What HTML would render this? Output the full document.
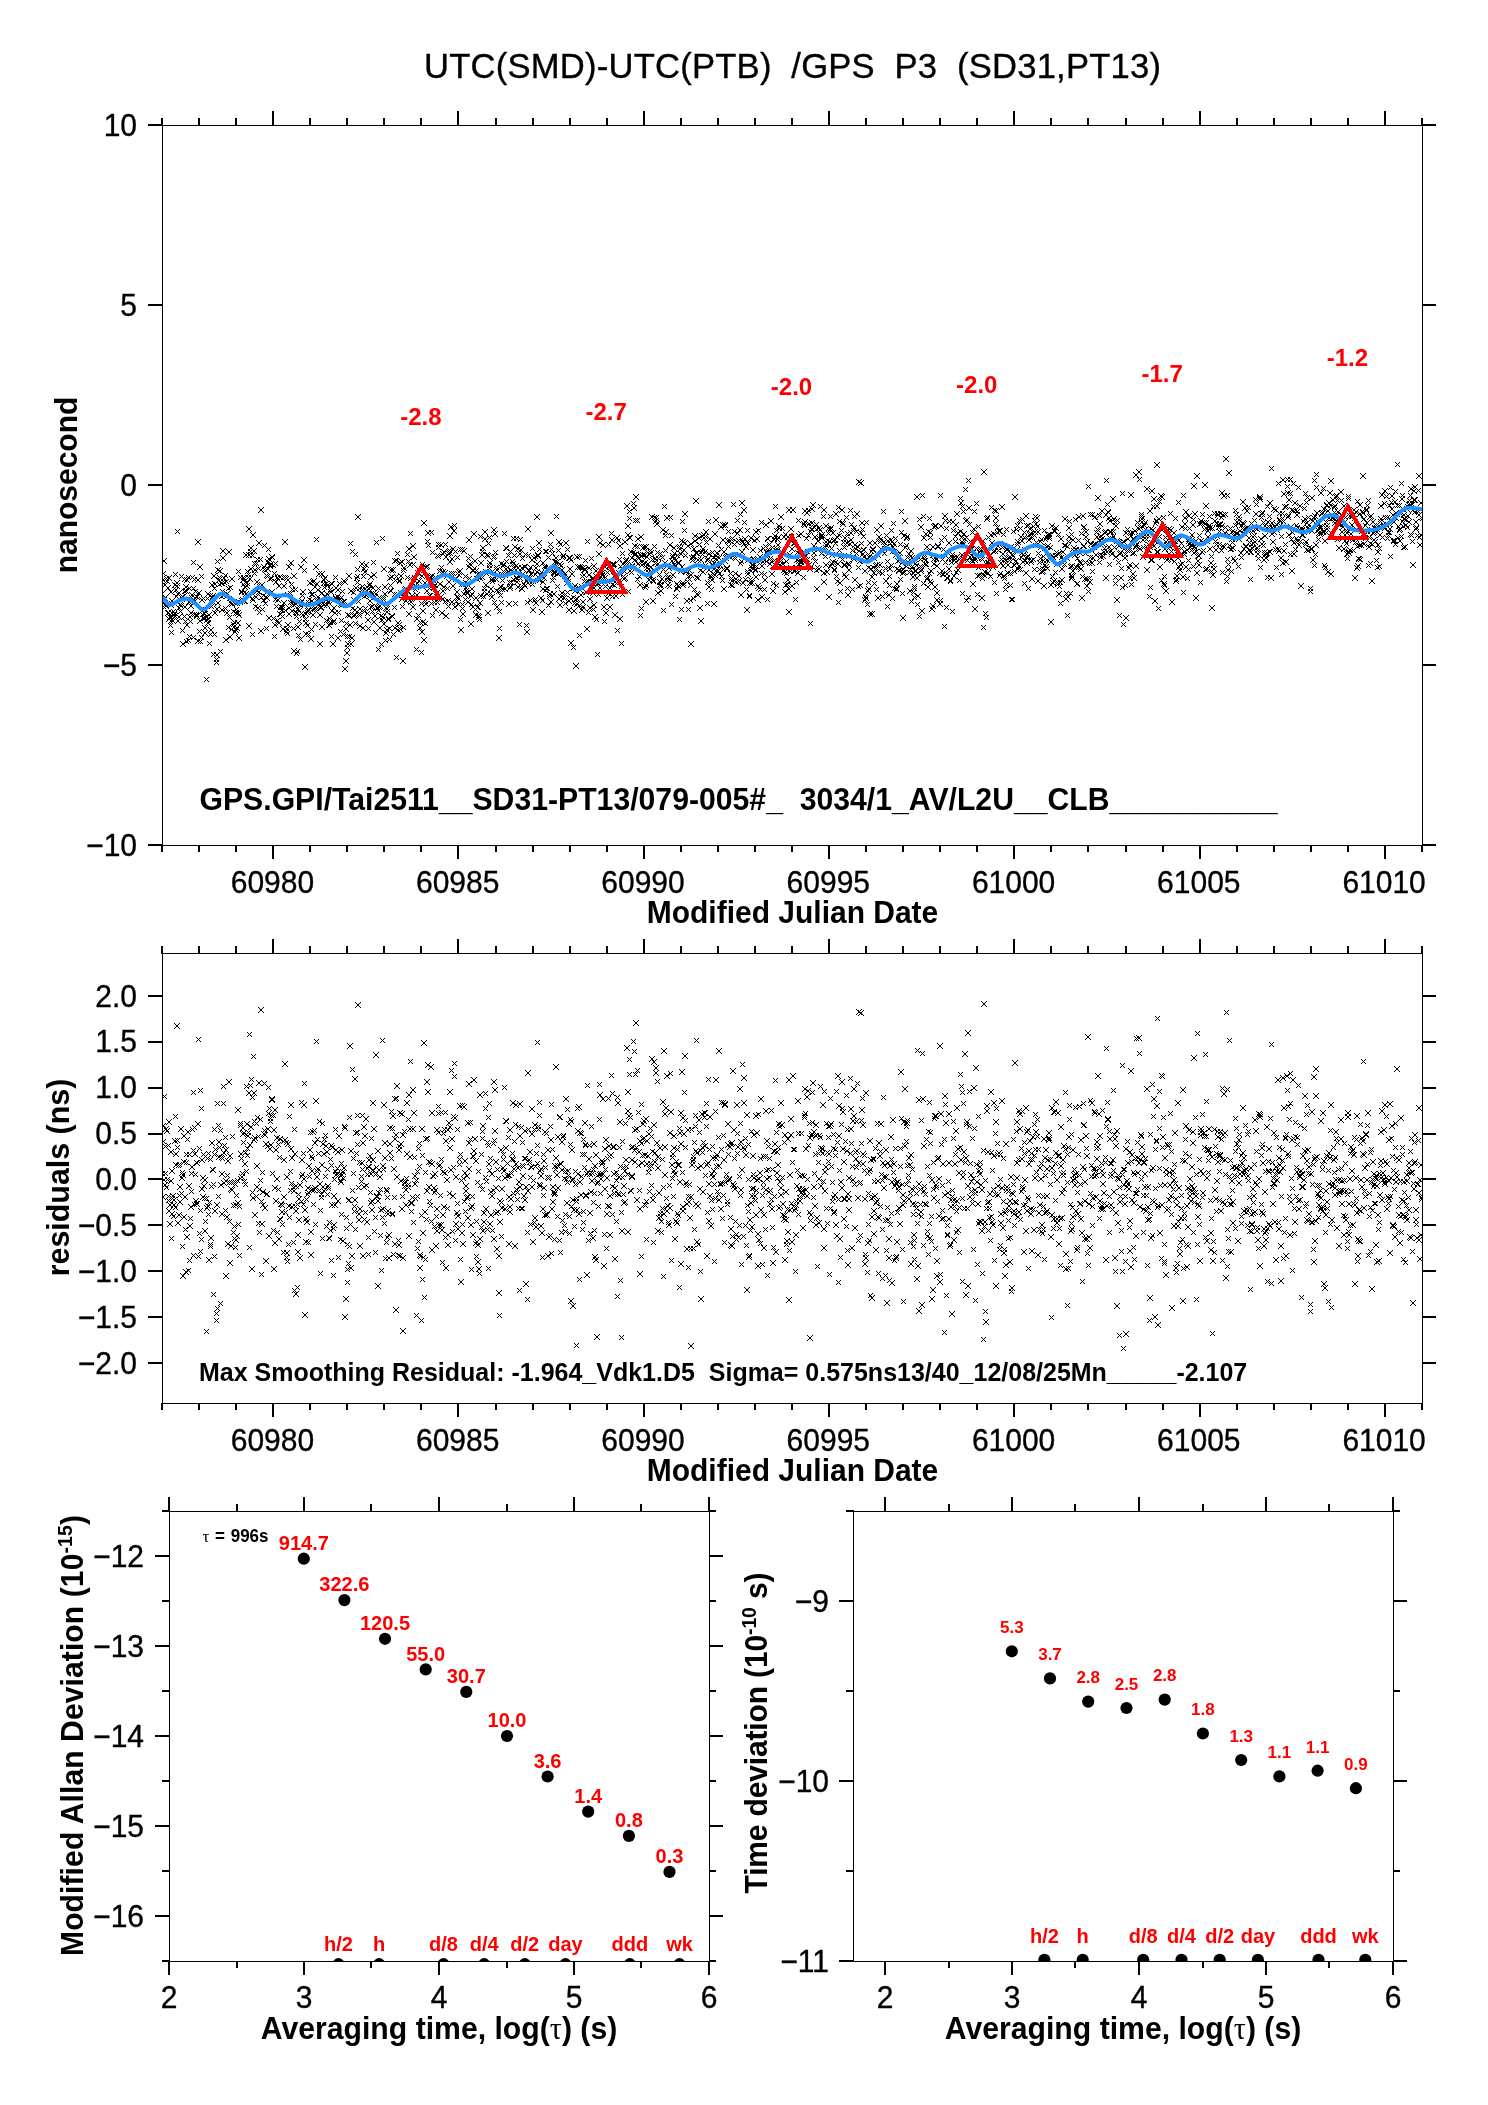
<!DOCTYPE html>
<html><head><meta charset="utf-8"><title>UTC(SMD)-UTC(PTB) /GPS P3</title>
<style>html,body{margin:0;padding:0;background:#fff}svg{display:block;will-change:transform}text{font-family:"Liberation Sans",Arial,Helvetica,sans-serif}</style>
</head><body>
<svg width="1488" height="2105" viewBox="0 0 1488 2105">
<rect width="1488" height="2105" fill="#fff"/>
<defs>
<clipPath id="c1"><rect x="162" y="125" width="1261" height="721"/></clipPath>
<clipPath id="c2"><rect x="162" y="953" width="1261" height="451"/></clipPath>
<clipPath id="c3"><rect x="169" y="1511" width="541" height="451"/></clipPath>
<clipPath id="c4"><rect x="853" y="1511" width="541" height="451"/></clipPath>
</defs>

<g clip-path="url(#c1)"><path d="M159 591l6 6m0-6l-6 6M160 577l6 6m0-6l-6 6M161 604l5 5m0-5l-5 5M161 571l5 5m0-5l-5 5M162 597l5 5m0-5l-5 5M161 558l6 6m0-6l-6 6M162 582l6 6m0-6l-6 6M162 595l6 6m0-6l-6 6M163 602l5 5m0-5l-5 5M164 576l5 5m0-5l-5 5M163 603l6 6m0-6l-6 6M165 601l5 5m0-5l-5 5M164 578l6 6m0-6l-6 6M165 610l6 6m0-6l-6 6M165 585l6 6m0-6l-6 6M166 610l5 5m0-5l-5 5M166 616l6 6m0-6l-6 6M166 575l6 6m0-6l-6 6M168 623l5 5m0-5l-5 5M167 614l6 6m0-6l-6 6M169 630l5 5m0-5l-5 5M168 589l6 6m0-6l-6 6M168 602l6 6m0-6l-6 6M169 598l6 6m0-6l-6 6M169 617l6 6m0-6l-6 6M169 610l6 6m0-6l-6 6M170 618l6 6m0-6l-6 6M171 609l5 5m0-5l-5 5M172 611l5 5m0-5l-5 5M171 612l6 6m0-6l-6 6M173 572l5 5m0-5l-5 5M172 613l6 6m0-6l-6 6M172 582l6 6m0-6l-6 6M174 594l5 5m0-5l-5 5M173 587l6 6m0-6l-6 6M175 529l5 5m0-5l-5 5M174 580l6 6m0-6l-6 6M174 583l6 6m0-6l-6 6M175 591l6 6m0-6l-6 6M175 618l6 6m0-6l-6 6M176 614l6 6m0-6l-6 6M176 605l6 6m0-6l-6 6M176 590l6 6m0-6l-6 6M178 602l5 5m0-5l-5 5M178 609l5 5m0-5l-5 5M178 603l6 6m0-6l-6 6M179 574l5 5m0-5l-5 5M180 594l5 5m0-5l-5 5M180 597l5 5m0-5l-5 5M180 628l5 5m0-5l-5 5M180 594l6 6m0-6l-6 6M180 641l6 6m0-6l-6 6M182 577l5 5m0-5l-5 5M182 614l5 5m0-5l-5 5M182 589l5 5m0-5l-5 5M183 619l5 5m0-5l-5 5M182 604l6 6m0-6l-6 6M183 584l6 6m0-6l-6 6M184 639l5 5m0-5l-5 5M183 588l6 6m0-6l-6 6M184 622l6 6m0-6l-6 6M184 577l6 6m0-6l-6 6M186 575l5 5m0-5l-5 5M186 638l5 5m0-5l-5 5M187 634l5 5m0-5l-5 5M186 599l6 6m0-6l-6 6M187 586l5 5m0-5l-5 5M187 614l6 6m0-6l-6 6M188 619l5 5m0-5l-5 5M189 595l5 5m0-5l-5 5M188 610l6 6m0-6l-6 6M188 603l6 6m0-6l-6 6M190 575l5 5m0-5l-5 5M189 592l6 6m0-6l-6 6M191 586l5 5m0-5l-5 5M191 635l5 5m0-5l-5 5M191 560l5 5m0-5l-5 5M192 612l5 5m0-5l-5 5M192 577l5 5m0-5l-5 5M193 589l5 5m0-5l-5 5M192 598l6 6m0-6l-6 6M194 594l5 5m0-5l-5 5M194 613l5 5m0-5l-5 5M194 612l5 5m0-5l-5 5M194 594l6 6m0-6l-6 6M194 613l6 6m0-6l-6 6M195 577l6 6m0-6l-6 6M195 638l6 6m0-6l-6 6M195 539l6 6m0-6l-6 6M197 629l5 5m0-5l-5 5M196 590l6 6m0-6l-6 6M197 618l6 6m0-6l-6 6M198 639l5 5m0-5l-5 5M197 564l6 6m0-6l-6 6M199 574l5 5m0-5l-5 5M199 635l5 5m0-5l-5 5M199 597l6 6m0-6l-6 6M200 612l5 5m0-5l-5 5M201 596l5 5m0-5l-5 5M201 607l5 5m0-5l-5 5M201 616l5 5m0-5l-5 5M202 616l5 5m0-5l-5 5M202 611l5 5m0-5l-5 5M203 607l5 5m0-5l-5 5M202 630l6 6m0-6l-6 6M202 625l6 6m0-6l-6 6M204 677l5 5m0-5l-5 5M204 614l5 5m0-5l-5 5M205 596l5 5m0-5l-5 5M204 617l6 6m0-6l-6 6M206 617l5 5m0-5l-5 5M205 620l6 6m0-6l-6 6M205 591l6 6m0-6l-6 6M207 641l5 5m0-5l-5 5M206 612l6 6m0-6l-6 6M208 632l5 5m0-5l-5 5M208 593l5 5m0-5l-5 5M208 632l5 5m0-5l-5 5M209 604l5 5m0-5l-5 5M208 627l6 6m0-6l-6 6M210 595l5 5m0-5l-5 5M209 582l6 6m0-6l-6 6M211 652l5 5m0-5l-5 5M210 593l6 6m0-6l-6 6M211 600l5 5m0-5l-5 5M212 586l5 5m0-5l-5 5M211 573l6 6m0-6l-6 6M212 632l5 5m0-5l-5 5M212 610l6 6m0-6l-6 6M212 581l6 6m0-6l-6 6M214 657l5 5m0-5l-5 5M214 660l5 5m0-5l-5 5M214 606l6 6m0-6l-6 6M215 559l5 5m0-5l-5 5M214 652l6 6m0-6l-6 6M215 600l6 6m0-6l-6 6M215 567l6 6m0-6l-6 6M216 577l6 6m0-6l-6 6M217 582l5 5m0-5l-5 5M217 575l5 5m0-5l-5 5M218 649l5 5m0-5l-5 5M217 568l6 6m0-6l-6 6M219 594l5 5m0-5l-5 5M219 581l5 5m0-5l-5 5M220 589l5 5m0-5l-5 5M219 580l6 6m0-6l-6 6M219 607l6 6m0-6l-6 6M220 555l6 6m0-6l-6 6M220 548l6 6m0-6l-6 6M221 592l6 6m0-6l-6 6M221 575l6 6m0-6l-6 6M222 580l5 5m0-5l-5 5M223 606l5 5m0-5l-5 5M223 573l5 5m0-5l-5 5M224 579l5 5m0-5l-5 5M224 594l5 5m0-5l-5 5M223 637l6 6m0-6l-6 6M224 591l6 6m0-6l-6 6M224 610l6 6m0-6l-6 6M226 586l5 5m0-5l-5 5M226 625l5 5m0-5l-5 5M226 549l6 6m0-6l-6 6M227 596l5 5m0-5l-5 5M227 615l5 5m0-5l-5 5M228 585l5 5m0-5l-5 5M227 634l6 6m0-6l-6 6M229 598l5 5m0-5l-5 5M229 627l5 5m0-5l-5 5M228 600l6 6m0-6l-6 6M229 576l6 6m0-6l-6 6M229 601l6 6m0-6l-6 6M231 609l5 5m0-5l-5 5M231 622l5 5m0-5l-5 5M231 624l6 6m0-6l-6 6M232 599l5 5m0-5l-5 5M232 620l5 5m0-5l-5 5M232 600l6 6m0-6l-6 6M232 629l6 6m0-6l-6 6M233 627l6 6m0-6l-6 6M233 610l6 6m0-6l-6 6M234 607l5 5m0-5l-5 5M234 625l6 6m0-6l-6 6M234 600l6 6m0-6l-6 6M235 610l6 6m0-6l-6 6M236 569l5 5m0-5l-5 5M235 620l6 6m0-6l-6 6M236 612l6 6m0-6l-6 6M236 635l6 6m0-6l-6 6M238 575l5 5m0-5l-5 5M238 600l5 5m0-5l-5 5M238 575l5 5m0-5l-5 5M239 589l5 5m0-5l-5 5M239 590l5 5m0-5l-5 5M239 598l6 6m0-6l-6 6M240 597l5 5m0-5l-5 5M241 575l5 5m0-5l-5 5M241 582l5 5m0-5l-5 5M240 577l6 6m0-6l-6 6M242 599l5 5m0-5l-5 5M241 576l6 6m0-6l-6 6M242 584l6 6m0-6l-6 6M242 589l6 6m0-6l-6 6M242 598l6 6m0-6l-6 6M243 552l6 6m0-6l-6 6M243 591l6 6m0-6l-6 6M244 583l6 6m0-6l-6 6M244 580l6 6m0-6l-6 6M245 569l5 5m0-5l-5 5M246 575l5 5m0-5l-5 5M246 572l5 5m0-5l-5 5M246 526l6 6m0-6l-6 6M246 623l6 6m0-6l-6 6M246 552l6 6m0-6l-6 6M247 576l6 6m0-6l-6 6M248 549l5 5m0-5l-5 5M248 545l6 6m0-6l-6 6M248 566l6 6m0-6l-6 6M250 632l5 5m0-5l-5 5M250 553l5 5m0-5l-5 5M250 596l5 5m0-5l-5 5M250 532l6 6m0-6l-6 6M250 597l6 6m0-6l-6 6M252 571l5 5m0-5l-5 5M251 548l6 6m0-6l-6 6M252 561l5 5m0-5l-5 5M252 567l6 6m0-6l-6 6M253 604l5 5m0-5l-5 5M253 594l6 6m0-6l-6 6M254 561l5 5m0-5l-5 5M254 579l6 6m0-6l-6 6M254 588l6 6m0-6l-6 6M255 557l5 5m0-5l-5 5M255 605l6 6m0-6l-6 6M256 566l5 5m0-5l-5 5M256 540l6 6m0-6l-6 6M256 589l6 6m0-6l-6 6M257 610l5 5m0-5l-5 5M257 584l6 6m0-6l-6 6M258 557l5 5m0-5l-5 5M259 595l5 5m0-5l-5 5M258 628l6 6m0-6l-6 6M258 507l6 6m0-6l-6 6M260 607l5 5m0-5l-5 5M259 582l6 6m0-6l-6 6M261 598l5 5m0-5l-5 5M261 593l5 5m0-5l-5 5M262 543l5 5m0-5l-5 5M261 564l6 6m0-6l-6 6M262 567l5 5m0-5l-5 5M263 601l5 5m0-5l-5 5M263 568l5 5m0-5l-5 5M263 594l6 6m0-6l-6 6M264 573l5 5m0-5l-5 5M264 626l5 5m0-5l-5 5M265 574l5 5m0-5l-5 5M264 595l6 6m0-6l-6 6M266 547l5 5m0-5l-5 5M265 566l6 6m0-6l-6 6M265 559l6 6m0-6l-6 6M266 615l6 6m0-6l-6 6M266 556l6 6m0-6l-6 6M267 576l6 6m0-6l-6 6M267 563l6 6m0-6l-6 6M267 562l6 6m0-6l-6 6M269 576l5 5m0-5l-5 5M268 561l6 6m0-6l-6 6M270 555l5 5m0-5l-5 5M269 554l6 6m0-6l-6 6M269 589l6 6m0-6l-6 6M271 563l5 5m0-5l-5 5M271 616l5 5m0-5l-5 5M272 634l5 5m0-5l-5 5M272 571l5 5m0-5l-5 5M273 561l5 5m0-5l-5 5M272 622l6 6m0-6l-6 6M273 597l5 5m0-5l-5 5M273 579l6 6m0-6l-6 6M274 604l5 5m0-5l-5 5M275 618l5 5m0-5l-5 5M275 575l5 5m0-5l-5 5M275 594l5 5m0-5l-5 5M275 576l6 6m0-6l-6 6M275 597l6 6m0-6l-6 6M276 583l6 6m0-6l-6 6M276 620l6 6m0-6l-6 6M277 574l6 6m0-6l-6 6M277 611l6 6m0-6l-6 6M278 612l5 5m0-5l-5 5M278 604l6 6m0-6l-6 6M279 605l5 5m0-5l-5 5M279 607l6 6m0-6l-6 6M280 614l5 5m0-5l-5 5M280 605l5 5m0-5l-5 5M281 575l5 5m0-5l-5 5M280 626l6 6m0-6l-6 6M281 600l6 6m0-6l-6 6M281 583l6 6m0-6l-6 6M283 575l5 5m0-5l-5 5M283 608l5 5m0-5l-5 5M282 539l6 6m0-6l-6 6M284 629l5 5m0-5l-5 5M284 576l5 5m0-5l-5 5M285 592l5 5m0-5l-5 5M285 631l5 5m0-5l-5 5M284 626l6 6m0-6l-6 6M285 622l6 6m0-6l-6 6M285 577l6 6m0-6l-6 6M286 605l6 6m0-6l-6 6M286 564l6 6m0-6l-6 6M286 611l6 6m0-6l-6 6M288 591l5 5m0-5l-5 5M288 600l5 5m0-5l-5 5M288 560l6 6m0-6l-6 6M289 597l5 5m0-5l-5 5M289 582l5 5m0-5l-5 5M289 608l6 6m0-6l-6 6M290 587l5 5m0-5l-5 5M290 599l6 6m0-6l-6 6M291 626l5 5m0-5l-5 5M291 602l6 6m0-6l-6 6M291 573l6 6m0-6l-6 6M291 648l6 6m0-6l-6 6M293 610l5 5m0-5l-5 5M293 587l5 5m0-5l-5 5M294 651l5 5m0-5l-5 5M294 614l5 5m0-5l-5 5M293 601l6 6m0-6l-6 6M295 649l5 5m0-5l-5 5M294 610l6 6m0-6l-6 6M295 624l6 6m0-6l-6 6M296 633l5 5m0-5l-5 5M295 606l6 6m0-6l-6 6M296 608l6 6m0-6l-6 6M297 619l5 5m0-5l-5 5M298 637l5 5m0-5l-5 5M297 602l6 6m0-6l-6 6M298 564l6 6m0-6l-6 6M299 611l5 5m0-5l-5 5M299 600l5 5m0-5l-5 5M299 598l6 6m0-6l-6 6M300 593l5 5m0-5l-5 5M300 589l6 6m0-6l-6 6M300 612l6 6m0-6l-6 6M302 602l5 5m0-5l-5 5M301 557l6 6m0-6l-6 6M302 568l5 5m0-5l-5 5M302 664l6 6m0-6l-6 6M303 617l5 5m0-5l-5 5M303 611l6 6m0-6l-6 6M303 620l6 6m0-6l-6 6M303 631l6 6m0-6l-6 6M305 623l5 5m0-5l-5 5M305 610l5 5m0-5l-5 5M305 608l6 6m0-6l-6 6M306 607l5 5m0-5l-5 5M306 632l5 5m0-5l-5 5M306 600l6 6m0-6l-6 6M307 597l5 5m0-5l-5 5M308 589l5 5m0-5l-5 5M307 580l6 6m0-6l-6 6M308 636l6 6m0-6l-6 6M309 627l5 5m0-5l-5 5M309 592l5 5m0-5l-5 5M309 598l6 6m0-6l-6 6M310 607l5 5m0-5l-5 5M310 592l5 5m0-5l-5 5M310 612l6 6m0-6l-6 6M310 579l6 6m0-6l-6 6M312 607l5 5m0-5l-5 5M311 578l6 6m0-6l-6 6M312 584l6 6m0-6l-6 6M312 605l6 6m0-6l-6 6M313 622l5 5m0-5l-5 5M313 564l6 6m0-6l-6 6M314 537l5 5m0-5l-5 5M314 581l6 6m0-6l-6 6M314 598l6 6m0-6l-6 6M315 597l5 5m0-5l-5 5M315 587l6 6m0-6l-6 6M315 594l6 6m0-6l-6 6M317 604l5 5m0-5l-5 5M316 571l6 6m0-6l-6 6M317 641l6 6m0-6l-6 6M317 612l6 6m0-6l-6 6M318 601l5 5m0-5l-5 5M318 605l6 6m0-6l-6 6M318 604l6 6m0-6l-6 6M319 624l6 6m0-6l-6 6M319 571l6 6m0-6l-6 6M319 590l6 6m0-6l-6 6M320 600l6 6m0-6l-6 6M321 581l5 5m0-5l-5 5M322 585l5 5m0-5l-5 5M321 602l6 6m0-6l-6 6M321 577l6 6m0-6l-6 6M322 575l6 6m0-6l-6 6M322 594l6 6m0-6l-6 6M324 618l5 5m0-5l-5 5M324 581l5 5m0-5l-5 5M324 591l6 6m0-6l-6 6M324 602l6 6m0-6l-6 6M325 583l5 5m0-5l-5 5M326 599l5 5m0-5l-5 5M326 600l5 5m0-5l-5 5M326 622l6 6m0-6l-6 6M327 623l5 5m0-5l-5 5M327 616l5 5m0-5l-5 5M328 620l5 5m0-5l-5 5M328 587l5 5m0-5l-5 5M328 589l6 6m0-6l-6 6M329 634l5 5m0-5l-5 5M329 581l5 5m0-5l-5 5M329 581l6 6m0-6l-6 6M329 608l6 6m0-6l-6 6M331 620l5 5m0-5l-5 5M330 641l6 6m0-6l-6 6M331 605l6 6m0-6l-6 6M331 618l6 6m0-6l-6 6M331 597l6 6m0-6l-6 6M333 595l5 5m0-5l-5 5M332 610l6 6m0-6l-6 6M333 575l5 5m0-5l-5 5M333 585l6 6m0-6l-6 6M333 596l6 6m0-6l-6 6M335 594l5 5m0-5l-5 5M335 597l5 5m0-5l-5 5M335 635l6 6m0-6l-6 6M336 610l5 5m0-5l-5 5M335 587l6 6m0-6l-6 6M337 581l5 5m0-5l-5 5M337 598l5 5m0-5l-5 5M338 602l5 5m0-5l-5 5M338 629l5 5m0-5l-5 5M339 603l5 5m0-5l-5 5M339 618l5 5m0-5l-5 5M339 595l5 5m0-5l-5 5M340 589l5 5m0-5l-5 5M339 600l6 6m0-6l-6 6M341 602l5 5m0-5l-5 5M340 599l6 6m0-6l-6 6M341 632l5 5m0-5l-5 5M341 578l6 6m0-6l-6 6M342 599l5 5m0-5l-5 5M342 579l6 6m0-6l-6 6M342 666l6 6m0-6l-6 6M343 626l6 6m0-6l-6 6M344 621l5 5m0-5l-5 5M343 658l6 6m0-6l-6 6M344 650l6 6m0-6l-6 6M345 645l5 5m0-5l-5 5M345 634l5 5m0-5l-5 5M345 612l6 6m0-6l-6 6M345 641l6 6m0-6l-6 6M347 613l5 5m0-5l-5 5M347 634l5 5m0-5l-5 5M346 573l6 6m0-6l-6 6M348 541l5 5m0-5l-5 5M347 622l6 6m0-6l-6 6M348 588l6 6m0-6l-6 6M348 641l6 6m0-6l-6 6M349 635l6 6m0-6l-6 6M350 606l5 5m0-5l-5 5M350 549l5 5m0-5l-5 5M351 597l5 5m0-5l-5 5M351 590l5 5m0-5l-5 5M352 612l5 5m0-5l-5 5M351 613l6 6m0-6l-6 6M352 607l6 6m0-6l-6 6M353 552l5 5m0-5l-5 5M353 621l5 5m0-5l-5 5M353 585l6 6m0-6l-6 6M354 576l5 5m0-5l-5 5M355 580l5 5m0-5l-5 5M355 567l5 5m0-5l-5 5M355 574l5 5m0-5l-5 5M355 514l6 6m0-6l-6 6M356 599l5 5m0-5l-5 5M357 611l5 5m0-5l-5 5M357 586l5 5m0-5l-5 5M357 613l5 5m0-5l-5 5M357 623l6 6m0-6l-6 6M357 606l6 6m0-6l-6 6M358 590l6 6m0-6l-6 6M359 593l5 5m0-5l-5 5M360 587l5 5m0-5l-5 5M360 584l5 5m0-5l-5 5M359 561l6 6m0-6l-6 6M360 625l6 6m0-6l-6 6M361 574l5 5m0-5l-5 5M361 566l6 6m0-6l-6 6M362 609l5 5m0-5l-5 5M362 594l5 5m0-5l-5 5M363 606l5 5m0-5l-5 5M362 569l6 6m0-6l-6 6M364 593l5 5m0-5l-5 5M363 562l6 6m0-6l-6 6M364 584l6 6m0-6l-6 6M365 611l5 5m0-5l-5 5M364 588l6 6m0-6l-6 6M366 626l5 5m0-5l-5 5M365 617l6 6m0-6l-6 6M366 586l5 5m0-5l-5 5M366 586l6 6m0-6l-6 6M367 583l5 5m0-5l-5 5M367 581l6 6m0-6l-6 6M367 598l6 6m0-6l-6 6M368 604l6 6m0-6l-6 6M369 591l5 5m0-5l-5 5M368 574l6 6m0-6l-6 6M370 604l5 5m0-5l-5 5M370 609l5 5m0-5l-5 5M370 585l6 6m0-6l-6 6M371 560l5 5m0-5l-5 5M370 591l6 6m0-6l-6 6M371 619l6 6m0-6l-6 6M371 572l6 6m0-6l-6 6M373 630l5 5m0-5l-5 5M372 613l6 6m0-6l-6 6M372 594l6 6m0-6l-6 6M374 540l5 5m0-5l-5 5M373 591l6 6m0-6l-6 6M375 605l5 5m0-5l-5 5M375 606l5 5m0-5l-5 5M376 608l5 5m0-5l-5 5M376 647l5 5m0-5l-5 5M376 586l5 5m0-5l-5 5M376 604l6 6m0-6l-6 6M377 595l5 5m0-5l-5 5M377 603l6 6m0-6l-6 6M377 598l6 6m0-6l-6 6M377 625l6 6m0-6l-6 6M378 613l6 6m0-6l-6 6M379 642l5 5m0-5l-5 5M380 536l5 5m0-5l-5 5M379 617l6 6m0-6l-6 6M381 595l5 5m0-5l-5 5M380 614l6 6m0-6l-6 6M381 597l5 5m0-5l-5 5M381 621l6 6m0-6l-6 6M381 566l6 6m0-6l-6 6M382 584l6 6m0-6l-6 6M382 591l6 6m0-6l-6 6M383 638l5 5m0-5l-5 5M383 630l6 6m0-6l-6 6M383 605l6 6m0-6l-6 6M384 609l6 6m0-6l-6 6M384 606l6 6m0-6l-6 6M384 627l6 6m0-6l-6 6M386 617l5 5m0-5l-5 5M386 616l5 5m0-5l-5 5M387 626l5 5m0-5l-5 5M387 637l5 5m0-5l-5 5M387 575l6 6m0-6l-6 6M388 588l5 5m0-5l-5 5M388 583l5 5m0-5l-5 5M388 567l6 6m0-6l-6 6M388 588l6 6m0-6l-6 6M389 574l6 6m0-6l-6 6M389 613l6 6m0-6l-6 6M390 614l5 5m0-5l-5 5M391 632l5 5m0-5l-5 5M390 567l6 6m0-6l-6 6M392 605l5 5m0-5l-5 5M392 592l5 5m0-5l-5 5M393 578l5 5m0-5l-5 5M392 625l6 6m0-6l-6 6M392 558l6 6m0-6l-6 6M394 558l5 5m0-5l-5 5M394 655l5 5m0-5l-5 5M394 574l5 5m0-5l-5 5M394 592l6 6m0-6l-6 6M395 551l5 5m0-5l-5 5M395 627l6 6m0-6l-6 6M395 620l6 6m0-6l-6 6M397 578l5 5m0-5l-5 5M397 579l5 5m0-5l-5 5M397 622l5 5m0-5l-5 5M397 560l6 6m0-6l-6 6M398 627l5 5m0-5l-5 5M398 573l6 6m0-6l-6 6M398 590l6 6m0-6l-6 6M400 604l5 5m0-5l-5 5M399 559l6 6m0-6l-6 6M399 596l6 6m0-6l-6 6M400 658l6 6m0-6l-6 6M401 625l5 5m0-5l-5 5M401 568l5 5m0-5l-5 5M401 590l6 6m0-6l-6 6M401 565l6 6m0-6l-6 6M402 587l6 6m0-6l-6 6M403 590l5 5m0-5l-5 5M403 598l6 6m0-6l-6 6M403 591l6 6m0-6l-6 6M403 586l6 6m0-6l-6 6M405 552l5 5m0-5l-5 5M405 575l5 5m0-5l-5 5M406 559l5 5m0-5l-5 5M405 588l6 6m0-6l-6 6M405 589l6 6m0-6l-6 6M406 611l6 6m0-6l-6 6M406 546l6 6m0-6l-6 6M408 576l5 5m0-5l-5 5M408 531l5 5m0-5l-5 5M407 562l6 6m0-6l-6 6M408 596l6 6m0-6l-6 6M408 599l6 6m0-6l-6 6M409 593l6 6m0-6l-6 6M410 596l5 5m0-5l-5 5M411 562l5 5m0-5l-5 5M410 543l6 6m0-6l-6 6M410 604l6 6m0-6l-6 6M411 554l6 6m0-6l-6 6M412 575l5 5m0-5l-5 5M413 583l5 5m0-5l-5 5M413 594l5 5m0-5l-5 5M413 587l5 5m0-5l-5 5M414 647l5 5m0-5l-5 5M413 584l6 6m0-6l-6 6M414 592l6 6m0-6l-6 6M415 581l5 5m0-5l-5 5M414 616l6 6m0-6l-6 6M415 570l6 6m0-6l-6 6M416 613l5 5m0-5l-5 5M416 567l6 6m0-6l-6 6M416 578l6 6m0-6l-6 6M418 620l5 5m0-5l-5 5M417 625l6 6m0-6l-6 6M418 620l5 5m0-5l-5 5M419 650l5 5m0-5l-5 5M419 601l5 5m0-5l-5 5M419 573l6 6m0-6l-6 6M420 562l5 5m0-5l-5 5M419 629l6 6m0-6l-6 6M420 619l6 6m0-6l-6 6M420 608l6 6m0-6l-6 6M421 520l6 6m0-6l-6 6M421 637l6 6m0-6l-6 6M423 599l5 5m0-5l-5 5M422 580l6 6m0-6l-6 6M423 621l5 5m0-5l-5 5M423 601l6 6m0-6l-6 6M423 564l6 6m0-6l-6 6M424 588l6 6m0-6l-6 6M425 539l5 5m0-5l-5 5M425 564l5 5m0-5l-5 5M425 530l6 6m0-6l-6 6M426 543l5 5m0-5l-5 5M427 593l5 5m0-5l-5 5M427 586l5 5m0-5l-5 5M427 575l5 5m0-5l-5 5M427 593l6 6m0-6l-6 6M428 574l5 5m0-5l-5 5M429 530l5 5m0-5l-5 5M429 601l5 5m0-5l-5 5M429 573l6 6m0-6l-6 6M430 550l5 5m0-5l-5 5M430 613l5 5m0-5l-5 5M430 577l6 6m0-6l-6 6M431 578l5 5m0-5l-5 5M431 584l6 6m0-6l-6 6M432 583l5 5m0-5l-5 5M432 600l5 5m0-5l-5 5M432 582l6 6m0-6l-6 6M433 575l5 5m0-5l-5 5M433 607l6 6m0-6l-6 6M434 594l5 5m0-5l-5 5M435 600l5 5m0-5l-5 5M435 553l5 5m0-5l-5 5M435 590l5 5m0-5l-5 5M436 554l5 5m0-5l-5 5M436 545l5 5m0-5l-5 5M436 542l5 5m0-5l-5 5M437 596l5 5m0-5l-5 5M437 569l5 5m0-5l-5 5M437 581l6 6m0-6l-6 6M438 568l5 5m0-5l-5 5M438 542l6 6m0-6l-6 6M439 565l5 5m0-5l-5 5M438 594l6 6m0-6l-6 6M439 610l6 6m0-6l-6 6M440 597l5 5m0-5l-5 5M440 551l6 6m0-6l-6 6M440 588l6 6m0-6l-6 6M440 569l6 6m0-6l-6 6M441 549l6 6m0-6l-6 6M441 584l6 6m0-6l-6 6M443 542l5 5m0-5l-5 5M443 599l5 5m0-5l-5 5M443 570l5 5m0-5l-5 5M443 554l6 6m0-6l-6 6M443 613l6 6m0-6l-6 6M444 573l6 6m0-6l-6 6M445 586l5 5m0-5l-5 5M446 604l5 5m0-5l-5 5M446 551l5 5m0-5l-5 5M445 598l6 6m0-6l-6 6M447 548l5 5m0-5l-5 5M446 579l6 6m0-6l-6 6M447 533l6 6m0-6l-6 6M447 550l6 6m0-6l-6 6M447 559l6 6m0-6l-6 6M449 571l5 5m0-5l-5 5M448 524l6 6m0-6l-6 6M449 556l6 6m0-6l-6 6M449 599l6 6m0-6l-6 6M450 583l6 6m0-6l-6 6M450 546l6 6m0-6l-6 6M451 571l5 5m0-5l-5 5M452 523l5 5m0-5l-5 5M451 528l6 6m0-6l-6 6M452 604l6 6m0-6l-6 6M453 549l5 5m0-5l-5 5M452 604l6 6m0-6l-6 6M453 576l6 6m0-6l-6 6M454 599l5 5m0-5l-5 5M455 555l5 5m0-5l-5 5M455 594l5 5m0-5l-5 5M454 589l6 6m0-6l-6 6M455 595l6 6m0-6l-6 6M456 602l5 5m0-5l-5 5M456 572l6 6m0-6l-6 6M456 569l6 6m0-6l-6 6M458 617l5 5m0-5l-5 5M457 568l6 6m0-6l-6 6M458 547l5 5m0-5l-5 5M458 627l6 6m0-6l-6 6M459 582l5 5m0-5l-5 5M460 602l5 5m0-5l-5 5M460 547l5 5m0-5l-5 5M460 606l5 5m0-5l-5 5M461 582l5 5m0-5l-5 5M460 611l6 6m0-6l-6 6M461 591l6 6m0-6l-6 6M461 548l6 6m0-6l-6 6M463 580l5 5m0-5l-5 5M463 597l5 5m0-5l-5 5M463 574l5 5m0-5l-5 5M464 588l5 5m0-5l-5 5M463 585l6 6m0-6l-6 6M465 591l5 5m0-5l-5 5M465 590l5 5m0-5l-5 5M465 581l5 5m0-5l-5 5M465 599l6 6m0-6l-6 6M466 556l5 5m0-5l-5 5M466 564l6 6m0-6l-6 6M466 537l6 6m0-6l-6 6M467 576l5 5m0-5l-5 5M468 554l5 5m0-5l-5 5M467 561l6 6m0-6l-6 6M468 621l6 6m0-6l-6 6M469 602l5 5m0-5l-5 5M468 593l6 6m0-6l-6 6M469 591l6 6m0-6l-6 6M469 586l6 6m0-6l-6 6M470 568l6 6m0-6l-6 6M470 567l6 6m0-6l-6 6M470 604l6 6m0-6l-6 6M472 566l5 5m0-5l-5 5M471 531l6 6m0-6l-6 6M473 607l5 5m0-5l-5 5M472 558l6 6m0-6l-6 6M473 612l6 6m0-6l-6 6M473 595l6 6m0-6l-6 6M474 568l5 5m0-5l-5 5M474 576l6 6m0-6l-6 6M475 605l5 5m0-5l-5 5M475 571l6 6m0-6l-6 6M475 604l6 6m0-6l-6 6M476 613l5 5m0-5l-5 5M477 617l5 5m0-5l-5 5M476 614l6 6m0-6l-6 6M477 600l6 6m0-6l-6 6M477 575l6 6m0-6l-6 6M478 534l5 5m0-5l-5 5M478 560l6 6m0-6l-6 6M478 593l6 6m0-6l-6 6M480 549l5 5m0-5l-5 5M479 552l6 6m0-6l-6 6M480 575l5 5m0-5l-5 5M480 545l6 6m0-6l-6 6M481 594l5 5m0-5l-5 5M482 586l5 5m0-5l-5 5M482 589l5 5m0-5l-5 5M483 569l5 5m0-5l-5 5M482 536l6 6m0-6l-6 6M482 529l6 6m0-6l-6 6M484 571l5 5m0-5l-5 5M483 582l6 6m0-6l-6 6M485 552l5 5m0-5l-5 5M484 591l6 6m0-6l-6 6M486 541l5 5m0-5l-5 5M485 610l6 6m0-6l-6 6M485 553l6 6m0-6l-6 6M487 563l5 5m0-5l-5 5M487 566l5 5m0-5l-5 5M487 535l5 5m0-5l-5 5M488 591l5 5m0-5l-5 5M487 560l6 6m0-6l-6 6M488 586l6 6m0-6l-6 6M489 577l5 5m0-5l-5 5M490 579l5 5m0-5l-5 5M489 594l6 6m0-6l-6 6M490 569l5 5m0-5l-5 5M491 555l5 5m0-5l-5 5M490 576l6 6m0-6l-6 6M492 554l5 5m0-5l-5 5M491 527l6 6m0-6l-6 6M492 600l5 5m0-5l-5 5M493 550l5 5m0-5l-5 5M492 531l6 6m0-6l-6 6M494 565l5 5m0-5l-5 5M494 588l5 5m0-5l-5 5M494 577l5 5m0-5l-5 5M494 567l6 6m0-6l-6 6M494 604l6 6m0-6l-6 6M495 572l6 6m0-6l-6 6M496 589l5 5m0-5l-5 5M496 635l6 6m0-6l-6 6M497 626l5 5m0-5l-5 5M497 609l5 5m0-5l-5 5M498 593l5 5m0-5l-5 5M498 584l5 5m0-5l-5 5M498 584l6 6m0-6l-6 6M499 561l5 5m0-5l-5 5M499 600l5 5m0-5l-5 5M500 578l5 5m0-5l-5 5M500 587l5 5m0-5l-5 5M500 563l6 6m0-6l-6 6M501 562l5 5m0-5l-5 5M501 569l5 5m0-5l-5 5M502 531l5 5m0-5l-5 5M502 570l5 5m0-5l-5 5M502 586l6 6m0-6l-6 6M503 573l5 5m0-5l-5 5M503 545l6 6m0-6l-6 6M504 546l5 5m0-5l-5 5M504 559l5 5m0-5l-5 5M505 565l5 5m0-5l-5 5M504 570l6 6m0-6l-6 6M506 570l5 5m0-5l-5 5M506 553l5 5m0-5l-5 5M506 601l6 6m0-6l-6 6M507 580l5 5m0-5l-5 5M506 569l6 6m0-6l-6 6M508 549l5 5m0-5l-5 5M508 584l5 5m0-5l-5 5M507 585l6 6m0-6l-6 6M508 567l6 6m0-6l-6 6M509 580l5 5m0-5l-5 5M510 562l5 5m0-5l-5 5M510 559l5 5m0-5l-5 5M511 577l5 5m0-5l-5 5M511 536l5 5m0-5l-5 5M511 561l5 5m0-5l-5 5M512 553l5 5m0-5l-5 5M512 566l5 5m0-5l-5 5M512 544l6 6m0-6l-6 6M513 601l5 5m0-5l-5 5M514 575l5 5m0-5l-5 5M514 536l5 5m0-5l-5 5M514 563l5 5m0-5l-5 5M514 579l6 6m0-6l-6 6M514 576l6 6m0-6l-6 6M515 546l6 6m0-6l-6 6M515 565l6 6m0-6l-6 6M515 584l6 6m0-6l-6 6M517 622l5 5m0-5l-5 5M517 573l5 5m0-5l-5 5M517 551l6 6m0-6l-6 6M518 576l5 5m0-5l-5 5M518 537l5 5m0-5l-5 5M518 547l6 6m0-6l-6 6M519 586l5 5m0-5l-5 5M520 556l5 5m0-5l-5 5M519 565l6 6m0-6l-6 6M519 586l6 6m0-6l-6 6M520 566l6 6m0-6l-6 6M520 571l6 6m0-6l-6 6M521 581l6 6m0-6l-6 6M522 564l5 5m0-5l-5 5M523 552l5 5m0-5l-5 5M522 583l6 6m0-6l-6 6M522 564l6 6m0-6l-6 6M524 578l5 5m0-5l-5 5M524 623l5 5m0-5l-5 5M524 629l6 6m0-6l-6 6M525 600l5 5m0-5l-5 5M525 580l6 6m0-6l-6 6M526 553l5 5m0-5l-5 5M525 526l6 6m0-6l-6 6M526 568l6 6m0-6l-6 6M526 567l6 6m0-6l-6 6M527 575l6 6m0-6l-6 6M528 598l5 5m0-5l-5 5M528 565l5 5m0-5l-5 5M528 571l6 6m0-6l-6 6M529 572l5 5m0-5l-5 5M530 546l5 5m0-5l-5 5M529 557l6 6m0-6l-6 6M530 582l5 5m0-5l-5 5M530 578l6 6m0-6l-6 6M530 607l6 6m0-6l-6 6M531 555l6 6m0-6l-6 6M532 598l5 5m0-5l-5 5M533 572l5 5m0-5l-5 5M533 597l5 5m0-5l-5 5M533 554l5 5m0-5l-5 5M533 600l6 6m0-6l-6 6M533 565l6 6m0-6l-6 6M534 561l6 6m0-6l-6 6M534 514l6 6m0-6l-6 6M534 569l6 6m0-6l-6 6M535 553l6 6m0-6l-6 6M535 552l6 6m0-6l-6 6M536 540l6 6m0-6l-6 6M537 547l5 5m0-5l-5 5M537 578l5 5m0-5l-5 5M538 572l5 5m0-5l-5 5M537 577l6 6m0-6l-6 6M538 595l6 6m0-6l-6 6M539 570l5 5m0-5l-5 5M539 573l5 5m0-5l-5 5M539 609l6 6m0-6l-6 6M540 598l5 5m0-5l-5 5M540 586l6 6m0-6l-6 6M540 579l6 6m0-6l-6 6M540 560l6 6m0-6l-6 6M542 564l5 5m0-5l-5 5M541 575l6 6m0-6l-6 6M543 549l5 5m0-5l-5 5M543 588l5 5m0-5l-5 5M543 565l5 5m0-5l-5 5M544 549l5 5m0-5l-5 5M544 586l5 5m0-5l-5 5M545 586l5 5m0-5l-5 5M544 567l6 6m0-6l-6 6M546 555l5 5m0-5l-5 5M545 566l6 6m0-6l-6 6M546 603l5 5m0-5l-5 5M546 565l6 6m0-6l-6 6M547 594l5 5m0-5l-5 5M548 542l5 5m0-5l-5 5M547 591l6 6m0-6l-6 6M548 599l6 6m0-6l-6 6M548 530l6 6m0-6l-6 6M549 547l5 5m0-5l-5 5M550 551l5 5m0-5l-5 5M550 578l5 5m0-5l-5 5M551 570l5 5m0-5l-5 5M551 575l5 5m0-5l-5 5M551 568l5 5m0-5l-5 5M551 570l6 6m0-6l-6 6M551 591l6 6m0-6l-6 6M552 559l6 6m0-6l-6 6M552 570l6 6m0-6l-6 6M553 559l5 5m0-5l-5 5M553 555l6 6m0-6l-6 6M554 514l5 5m0-5l-5 5M555 564l5 5m0-5l-5 5M554 559l6 6m0-6l-6 6M555 584l5 5m0-5l-5 5M556 548l5 5m0-5l-5 5M555 571l6 6m0-6l-6 6M556 539l6 6m0-6l-6 6M556 596l6 6m0-6l-6 6M557 602l6 6m0-6l-6 6M557 561l6 6m0-6l-6 6M558 542l5 5m0-5l-5 5M558 594l6 6m0-6l-6 6M558 563l6 6m0-6l-6 6M559 567l6 6m0-6l-6 6M559 590l6 6m0-6l-6 6M560 555l5 5m0-5l-5 5M561 553l5 5m0-5l-5 5M561 554l5 5m0-5l-5 5M562 574l5 5m0-5l-5 5M561 595l6 6m0-6l-6 6M562 571l6 6m0-6l-6 6M563 592l5 5m0-5l-5 5M563 601l5 5m0-5l-5 5M564 577l5 5m0-5l-5 5M563 540l6 6m0-6l-6 6M565 590l5 5m0-5l-5 5M565 547l5 5m0-5l-5 5M564 580l6 6m0-6l-6 6M565 576l6 6m0-6l-6 6M566 579l5 5m0-5l-5 5M566 555l6 6m0-6l-6 6M566 598l6 6m0-6l-6 6M566 607l6 6m0-6l-6 6M567 555l6 6m0-6l-6 6M567 566l6 6m0-6l-6 6M568 596l6 6m0-6l-6 6M568 557l6 6m0-6l-6 6M568 640l6 6m0-6l-6 6M570 586l5 5m0-5l-5 5M569 571l6 6m0-6l-6 6M571 595l5 5m0-5l-5 5M571 586l5 5m0-5l-5 5M571 645l5 5m0-5l-5 5M572 601l5 5m0-5l-5 5M571 608l6 6m0-6l-6 6M572 588l6 6m0-6l-6 6M572 583l6 6m0-6l-6 6M573 597l6 6m0-6l-6 6M574 596l5 5m0-5l-5 5M573 663l6 6m0-6l-6 6M574 601l6 6m0-6l-6 6M574 554l6 6m0-6l-6 6M575 564l6 6m0-6l-6 6M576 585l5 5m0-5l-5 5M577 633l5 5m0-5l-5 5M577 554l5 5m0-5l-5 5M577 603l5 5m0-5l-5 5M577 587l6 6m0-6l-6 6M577 564l6 6m0-6l-6 6M578 592l6 6m0-6l-6 6M579 565l5 5m0-5l-5 5M579 584l5 5m0-5l-5 5M580 574l5 5m0-5l-5 5M579 607l6 6m0-6l-6 6M580 599l6 6m0-6l-6 6M580 604l6 6m0-6l-6 6M580 565l6 6m0-6l-6 6M582 579l5 5m0-5l-5 5M581 572l6 6m0-6l-6 6M583 558l5 5m0-5l-5 5M582 567l6 6m0-6l-6 6M582 566l6 6m0-6l-6 6M584 590l5 5m0-5l-5 5M583 589l6 6m0-6l-6 6M585 539l5 5m0-5l-5 5M584 626l6 6m0-6l-6 6M584 579l6 6m0-6l-6 6M586 579l5 5m0-5l-5 5M586 610l5 5m0-5l-5 5M586 572l6 6m0-6l-6 6M586 565l6 6m0-6l-6 6M588 579l5 5m0-5l-5 5M587 596l6 6m0-6l-6 6M587 605l6 6m0-6l-6 6M589 587l5 5m0-5l-5 5M589 556l5 5m0-5l-5 5M589 580l6 6m0-6l-6 6M590 577l5 5m0-5l-5 5M590 575l6 6m0-6l-6 6M590 590l6 6m0-6l-6 6M591 607l5 5m0-5l-5 5M591 585l6 6m0-6l-6 6M591 602l6 6m0-6l-6 6M591 563l6 6m0-6l-6 6M593 573l5 5m0-5l-5 5M592 614l6 6m0-6l-6 6M593 568l6 6m0-6l-6 6M594 617l5 5m0-5l-5 5M594 577l6 6m0-6l-6 6M595 652l5 5m0-5l-5 5M595 581l5 5m0-5l-5 5M596 581l5 5m0-5l-5 5M596 592l5 5m0-5l-5 5M596 534l6 6m0-6l-6 6M596 551l6 6m0-6l-6 6M596 576l6 6m0-6l-6 6M597 540l6 6m0-6l-6 6M597 585l6 6m0-6l-6 6M599 577l5 5m0-5l-5 5M599 580l5 5m0-5l-5 5M600 572l5 5m0-5l-5 5M600 573l5 5m0-5l-5 5M599 570l6 6m0-6l-6 6M600 542l6 6m0-6l-6 6M601 577l5 5m0-5l-5 5M602 619l5 5m0-5l-5 5M601 604l6 6m0-6l-6 6M603 584l5 5m0-5l-5 5M603 575l5 5m0-5l-5 5M602 564l6 6m0-6l-6 6M603 610l6 6m0-6l-6 6M604 561l5 5m0-5l-5 5M605 579l5 5m0-5l-5 5M605 570l5 5m0-5l-5 5M604 595l6 6m0-6l-6 6M606 591l5 5m0-5l-5 5M606 542l5 5m0-5l-5 5M606 590l6 6m0-6l-6 6M606 563l6 6m0-6l-6 6M607 568l5 5m0-5l-5 5M607 604l6 6m0-6l-6 6M607 585l6 6m0-6l-6 6M609 531l5 5m0-5l-5 5M608 566l6 6m0-6l-6 6M610 582l5 5m0-5l-5 5M609 537l6 6m0-6l-6 6M610 594l5 5m0-5l-5 5M610 562l6 6m0-6l-6 6M610 561l6 6m0-6l-6 6M612 583l5 5m0-5l-5 5M612 562l5 5m0-5l-5 5M611 573l6 6m0-6l-6 6M612 579l6 6m0-6l-6 6M612 612l6 6m0-6l-6 6M614 572l5 5m0-5l-5 5M613 593l6 6m0-6l-6 6M613 574l6 6m0-6l-6 6M615 628l5 5m0-5l-5 5M614 535l6 6m0-6l-6 6M615 579l6 6m0-6l-6 6M616 538l5 5m0-5l-5 5M616 570l6 6m0-6l-6 6M617 557l5 5m0-5l-5 5M617 578l5 5m0-5l-5 5M617 616l6 6m0-6l-6 6M617 543l6 6m0-6l-6 6M618 564l5 5m0-5l-5 5M619 584l5 5m0-5l-5 5M619 641l5 5m0-5l-5 5M620 551l5 5m0-5l-5 5M620 592l5 5m0-5l-5 5M620 567l5 5m0-5l-5 5M620 561l6 6m0-6l-6 6M621 574l5 5m0-5l-5 5M621 576l6 6m0-6l-6 6M622 569l5 5m0-5l-5 5M622 539l6 6m0-6l-6 6M623 562l5 5m0-5l-5 5M622 575l6 6m0-6l-6 6M624 557l5 5m0-5l-5 5M623 558l6 6m0-6l-6 6M625 562l5 5m0-5l-5 5M624 503l6 6m0-6l-6 6M626 589l5 5m0-5l-5 5M625 532l6 6m0-6l-6 6M625 523l6 6m0-6l-6 6M627 535l5 5m0-5l-5 5M627 516l5 5m0-5l-5 5M627 509l5 5m0-5l-5 5M627 535l6 6m0-6l-6 6M627 568l6 6m0-6l-6 6M629 570l5 5m0-5l-5 5M628 549l6 6m0-6l-6 6M629 555l6 6m0-6l-6 6M630 564l5 5m0-5l-5 5M630 563l5 5m0-5l-5 5M631 501l5 5m0-5l-5 5M631 550l5 5m0-5l-5 5M632 552l5 5m0-5l-5 5M631 505l6 6m0-6l-6 6M632 557l6 6m0-6l-6 6M633 518l5 5m0-5l-5 5M632 543l6 6m0-6l-6 6M633 551l6 6m0-6l-6 6M633 494l6 6m0-6l-6 6M635 544l5 5m0-5l-5 5M635 577l5 5m0-5l-5 5M635 518l5 5m0-5l-5 5M635 536l6 6m0-6l-6 6M635 561l6 6m0-6l-6 6M636 555l6 6m0-6l-6 6M637 574l5 5m0-5l-5 5M637 582l6 6m0-6l-6 6M638 613l5 5m0-5l-5 5M638 552l5 5m0-5l-5 5M638 534l6 6m0-6l-6 6M638 553l6 6m0-6l-6 6M639 606l5 5m0-5l-5 5M639 562l6 6m0-6l-6 6M639 559l6 6m0-6l-6 6M640 545l6 6m0-6l-6 6M640 552l6 6m0-6l-6 6M641 544l6 6m0-6l-6 6M642 553l5 5m0-5l-5 5M642 584l5 5m0-5l-5 5M642 560l6 6m0-6l-6 6M643 585l5 5m0-5l-5 5M643 599l6 6m0-6l-6 6M643 544l6 6m0-6l-6 6M644 583l5 5m0-5l-5 5M644 565l6 6m0-6l-6 6M644 554l6 6m0-6l-6 6M646 570l5 5m0-5l-5 5M645 561l6 6m0-6l-6 6M646 577l6 6m0-6l-6 6M646 566l6 6m0-6l-6 6M646 551l6 6m0-6l-6 6M648 565l5 5m0-5l-5 5M648 548l5 5m0-5l-5 5M648 564l6 6m0-6l-6 6M648 573l6 6m0-6l-6 6M648 550l6 6m0-6l-6 6M649 514l6 6m0-6l-6 6M650 557l5 5m0-5l-5 5M650 577l6 6m0-6l-6 6M650 598l6 6m0-6l-6 6M651 579l5 5m0-5l-5 5M652 515l5 5m0-5l-5 5M652 544l5 5m0-5l-5 5M652 556l6 6m0-6l-6 6M653 561l5 5m0-5l-5 5M653 556l5 5m0-5l-5 5M653 518l6 6m0-6l-6 6M653 515l6 6m0-6l-6 6M654 521l6 6m0-6l-6 6M655 550l5 5m0-5l-5 5M655 590l6 6m0-6l-6 6M655 561l6 6m0-6l-6 6M656 556l5 5m0-5l-5 5M657 572l5 5m0-5l-5 5M657 583l5 5m0-5l-5 5M658 551l5 5m0-5l-5 5M658 582l5 5m0-5l-5 5M657 579l6 6m0-6l-6 6M658 583l6 6m0-6l-6 6M658 588l6 6m0-6l-6 6M659 576l6 6m0-6l-6 6M660 555l5 5m0-5l-5 5M661 567l5 5m0-5l-5 5M661 608l5 5m0-5l-5 5M660 527l6 6m0-6l-6 6M662 579l5 5m0-5l-5 5M662 504l5 5m0-5l-5 5M663 548l5 5m0-5l-5 5M663 533l5 5m0-5l-5 5M662 560l6 6m0-6l-6 6M664 572l5 5m0-5l-5 5M663 529l6 6m0-6l-6 6M665 575l5 5m0-5l-5 5M665 578l5 5m0-5l-5 5M664 515l6 6m0-6l-6 6M665 575l6 6m0-6l-6 6M665 582l6 6m0-6l-6 6M667 584l5 5m0-5l-5 5M666 565l6 6m0-6l-6 6M668 577l5 5m0-5l-5 5M667 542l6 6m0-6l-6 6M668 515l5 5m0-5l-5 5M669 533l5 5m0-5l-5 5M669 602l5 5m0-5l-5 5M670 564l5 5m0-5l-5 5M670 555l5 5m0-5l-5 5M669 558l6 6m0-6l-6 6M670 572l6 6m0-6l-6 6M670 553l6 6m0-6l-6 6M672 551l5 5m0-5l-5 5M672 562l5 5m0-5l-5 5M671 545l6 6m0-6l-6 6M672 563l6 6m0-6l-6 6M673 594l5 5m0-5l-5 5M674 586l5 5m0-5l-5 5M673 557l6 6m0-6l-6 6M674 581l6 6m0-6l-6 6M674 586l6 6m0-6l-6 6M675 553l5 5m0-5l-5 5M675 583l6 6m0-6l-6 6M675 560l6 6m0-6l-6 6M676 560l6 6m0-6l-6 6M677 617l5 5m0-5l-5 5M677 544l5 5m0-5l-5 5M677 546l6 6m0-6l-6 6M678 569l5 5m0-5l-5 5M679 607l5 5m0-5l-5 5M679 538l5 5m0-5l-5 5M678 551l6 6m0-6l-6 6M680 519l5 5m0-5l-5 5M679 564l6 6m0-6l-6 6M680 582l6 6m0-6l-6 6M680 539l6 6m0-6l-6 6M680 580l6 6m0-6l-6 6M682 528l5 5m0-5l-5 5M681 547l6 6m0-6l-6 6M682 511l6 6m0-6l-6 6M682 540l6 6m0-6l-6 6M683 553l5 5m0-5l-5 5M683 569l6 6m0-6l-6 6M683 568l6 6m0-6l-6 6M684 598l6 6m0-6l-6 6M685 579l5 5m0-5l-5 5M686 607l5 5m0-5l-5 5M686 574l5 5m0-5l-5 5M685 543l6 6m0-6l-6 6M687 577l5 5m0-5l-5 5M687 568l5 5m0-5l-5 5M688 598l5 5m0-5l-5 5M688 583l5 5m0-5l-5 5M688 641l6 6m0-6l-6 6M688 572l6 6m0-6l-6 6M688 541l6 6m0-6l-6 6M689 555l6 6m0-6l-6 6M690 558l5 5m0-5l-5 5M691 554l5 5m0-5l-5 5M691 555l5 5m0-5l-5 5M691 596l5 5m0-5l-5 5M691 546l6 6m0-6l-6 6M692 587l5 5m0-5l-5 5M692 533l6 6m0-6l-6 6M692 538l6 6m0-6l-6 6M693 550l6 6m0-6l-6 6M694 575l5 5m0-5l-5 5M693 498l6 6m0-6l-6 6M694 550l6 6m0-6l-6 6M694 591l6 6m0-6l-6 6M695 575l6 6m0-6l-6 6M695 592l6 6m0-6l-6 6M695 557l6 6m0-6l-6 6M696 535l6 6m0-6l-6 6M697 542l5 5m0-5l-5 5M698 568l5 5m0-5l-5 5M697 605l6 6m0-6l-6 6M698 550l5 5m0-5l-5 5M698 618l6 6m0-6l-6 6M698 557l6 6m0-6l-6 6M699 533l6 6m0-6l-6 6M700 552l5 5m0-5l-5 5M700 549l5 5m0-5l-5 5M700 569l6 6m0-6l-6 6M700 546l6 6m0-6l-6 6M701 532l6 6m0-6l-6 6M701 535l6 6m0-6l-6 6M703 563l5 5m0-5l-5 5M703 534l5 5m0-5l-5 5M702 549l6 6m0-6l-6 6M703 529l6 6m0-6l-6 6M704 540l5 5m0-5l-5 5M705 580l5 5m0-5l-5 5M705 601l5 5m0-5l-5 5M705 558l5 5m0-5l-5 5M705 556l6 6m0-6l-6 6M706 519l5 5m0-5l-5 5M706 567l6 6m0-6l-6 6M706 584l6 6m0-6l-6 6M706 551l6 6m0-6l-6 6M708 573l5 5m0-5l-5 5M707 536l6 6m0-6l-6 6M708 574l6 6m0-6l-6 6M709 587l5 5m0-5l-5 5M710 563l5 5m0-5l-5 5M710 550l5 5m0-5l-5 5M709 577l6 6m0-6l-6 6M711 555l5 5m0-5l-5 5M710 562l6 6m0-6l-6 6M711 566l6 6m0-6l-6 6M711 601l6 6m0-6l-6 6M711 560l6 6m0-6l-6 6M712 572l6 6m0-6l-6 6M712 531l6 6m0-6l-6 6M713 553l6 6m0-6l-6 6M713 556l6 6m0-6l-6 6M713 517l6 6m0-6l-6 6M714 567l6 6m0-6l-6 6M714 550l6 6m0-6l-6 6M715 568l6 6m0-6l-6 6M716 543l5 5m0-5l-5 5M717 571l5 5m0-5l-5 5M716 502l6 6m0-6l-6 6M716 555l6 6m0-6l-6 6M718 563l5 5m0-5l-5 5M717 562l6 6m0-6l-6 6M718 524l6 6m0-6l-6 6M719 547l5 5m0-5l-5 5M719 574l5 5m0-5l-5 5M720 578l5 5m0-5l-5 5M720 561l5 5m0-5l-5 5M721 567l5 5m0-5l-5 5M720 522l6 6m0-6l-6 6M720 537l6 6m0-6l-6 6M721 549l6 6m0-6l-6 6M721 586l6 6m0-6l-6 6M722 558l6 6m0-6l-6 6M723 523l5 5m0-5l-5 5M722 522l6 6m0-6l-6 6M724 554l5 5m0-5l-5 5M723 555l6 6m0-6l-6 6M724 565l6 6m0-6l-6 6M724 566l6 6m0-6l-6 6M726 544l5 5m0-5l-5 5M726 529l5 5m0-5l-5 5M725 538l6 6m0-6l-6 6M727 554l5 5m0-5l-5 5M726 553l6 6m0-6l-6 6M728 571l5 5m0-5l-5 5M727 538l6 6m0-6l-6 6M729 576l5 5m0-5l-5 5M729 537l5 5m0-5l-5 5M728 582l6 6m0-6l-6 6M729 578l6 6m0-6l-6 6M730 583l5 5m0-5l-5 5M730 536l5 5m0-5l-5 5M731 502l5 5m0-5l-5 5M730 553l6 6m0-6l-6 6M732 529l5 5m0-5l-5 5M732 542l5 5m0-5l-5 5M732 555l5 5m0-5l-5 5M733 571l5 5m0-5l-5 5M733 556l5 5m0-5l-5 5M733 576l6 6m0-6l-6 6M733 579l6 6m0-6l-6 6M734 539l6 6m0-6l-6 6M735 518l5 5m0-5l-5 5M735 531l5 5m0-5l-5 5M736 579l5 5m0-5l-5 5M736 538l5 5m0-5l-5 5M737 552l5 5m0-5l-5 5M736 573l6 6m0-6l-6 6M738 561l5 5m0-5l-5 5M738 512l5 5m0-5l-5 5M737 527l6 6m0-6l-6 6M739 559l5 5m0-5l-5 5M738 592l6 6m0-6l-6 6M739 537l5 5m0-5l-5 5M739 549l6 6m0-6l-6 6M739 500l6 6m0-6l-6 6M740 580l6 6m0-6l-6 6M740 539l6 6m0-6l-6 6M741 507l6 6m0-6l-6 6M742 520l5 5m0-5l-5 5M741 541l6 6m0-6l-6 6M743 577l5 5m0-5l-5 5M742 536l6 6m0-6l-6 6M743 544l6 6m0-6l-6 6M744 587l5 5m0-5l-5 5M745 569l5 5m0-5l-5 5M745 528l5 5m0-5l-5 5M744 607l6 6m0-6l-6 6M745 571l6 6m0-6l-6 6M745 540l6 6m0-6l-6 6M745 557l6 6m0-6l-6 6M747 593l5 5m0-5l-5 5M747 594l5 5m0-5l-5 5M747 580l6 6m0-6l-6 6M748 577l5 5m0-5l-5 5M748 535l6 6m0-6l-6 6M748 568l6 6m0-6l-6 6M749 562l6 6m0-6l-6 6M749 565l6 6m0-6l-6 6M749 580l6 6m0-6l-6 6M751 556l5 5m0-5l-5 5M750 547l6 6m0-6l-6 6M750 562l6 6m0-6l-6 6M752 538l5 5m0-5l-5 5M751 557l6 6m0-6l-6 6M753 567l5 5m0-5l-5 5M753 568l5 5m0-5l-5 5M753 574l6 6m0-6l-6 6M753 529l6 6m0-6l-6 6M754 564l5 5m0-5l-5 5M754 536l6 6m0-6l-6 6M755 559l5 5m0-5l-5 5M755 583l6 6m0-6l-6 6M756 528l5 5m0-5l-5 5M755 597l6 6m0-6l-6 6M756 585l6 6m0-6l-6 6M757 558l5 5m0-5l-5 5M757 554l6 6m0-6l-6 6M758 587l5 5m0-5l-5 5M758 548l5 5m0-5l-5 5M759 520l5 5m0-5l-5 5M759 571l5 5m0-5l-5 5M759 563l6 6m0-6l-6 6M759 594l6 6m0-6l-6 6M761 546l5 5m0-5l-5 5M760 559l6 6m0-6l-6 6M760 556l6 6m0-6l-6 6M762 572l5 5m0-5l-5 5M762 587l5 5m0-5l-5 5M762 577l6 6m0-6l-6 6M763 544l5 5m0-5l-5 5M763 522l6 6m0-6l-6 6M764 559l5 5m0-5l-5 5M764 550l5 5m0-5l-5 5M765 536l5 5m0-5l-5 5M765 597l5 5m0-5l-5 5M765 552l5 5m0-5l-5 5M765 536l6 6m0-6l-6 6M766 547l5 5m0-5l-5 5M767 557l5 5m0-5l-5 5M767 542l5 5m0-5l-5 5M766 549l6 6m0-6l-6 6M767 561l6 6m0-6l-6 6M768 556l5 5m0-5l-5 5M768 518l6 6m0-6l-6 6M769 559l5 5m0-5l-5 5M769 571l6 6m0-6l-6 6M770 564l5 5m0-5l-5 5M770 545l5 5m0-5l-5 5M771 581l5 5m0-5l-5 5M770 588l6 6m0-6l-6 6M772 558l5 5m0-5l-5 5M772 537l5 5m0-5l-5 5M771 536l6 6m0-6l-6 6M773 504l5 5m0-5l-5 5M772 533l6 6m0-6l-6 6M774 583l5 5m0-5l-5 5M774 528l5 5m0-5l-5 5M774 548l6 6m0-6l-6 6M775 537l5 5m0-5l-5 5M774 546l6 6m0-6l-6 6M775 542l6 6m0-6l-6 6M776 535l5 5m0-5l-5 5M776 523l6 6m0-6l-6 6M777 526l5 5m0-5l-5 5M777 563l5 5m0-5l-5 5M778 551l5 5m0-5l-5 5M777 562l6 6m0-6l-6 6M778 514l6 6m0-6l-6 6M778 553l6 6m0-6l-6 6M779 558l5 5m0-5l-5 5M780 526l5 5m0-5l-5 5M779 549l6 6m0-6l-6 6M780 561l6 6m0-6l-6 6M781 568l5 5m0-5l-5 5M782 570l5 5m0-5l-5 5M781 567l6 6m0-6l-6 6M781 534l6 6m0-6l-6 6M783 532l5 5m0-5l-5 5M782 589l6 6m0-6l-6 6M784 571l5 5m0-5l-5 5M783 582l6 6m0-6l-6 6M784 559l5 5m0-5l-5 5M785 567l5 5m0-5l-5 5M785 582l5 5m0-5l-5 5M785 534l6 6m0-6l-6 6M785 577l6 6m0-6l-6 6M786 507l6 6m0-6l-6 6M786 586l6 6m0-6l-6 6M786 609l6 6m0-6l-6 6M788 569l5 5m0-5l-5 5M787 552l6 6m0-6l-6 6M788 526l6 6m0-6l-6 6M788 565l6 6m0-6l-6 6M789 534l5 5m0-5l-5 5M789 546l6 6m0-6l-6 6M789 583l6 6m0-6l-6 6M790 507l6 6m0-6l-6 6M790 566l6 6m0-6l-6 6M791 541l5 5m0-5l-5 5M792 541l5 5m0-5l-5 5M791 568l6 6m0-6l-6 6M793 568l5 5m0-5l-5 5M793 597l5 5m0-5l-5 5M794 565l5 5m0-5l-5 5M794 580l5 5m0-5l-5 5M794 567l5 5m0-5l-5 5M794 557l6 6m0-6l-6 6M795 550l5 5m0-5l-5 5M795 570l6 6m0-6l-6 6M796 533l5 5m0-5l-5 5M796 518l5 5m0-5l-5 5M796 558l6 6m0-6l-6 6M796 561l6 6m0-6l-6 6M797 551l6 6m0-6l-6 6M798 564l5 5m0-5l-5 5M799 560l5 5m0-5l-5 5M798 531l6 6m0-6l-6 6M798 558l6 6m0-6l-6 6M799 556l6 6m0-6l-6 6M800 551l5 5m0-5l-5 5M801 575l5 5m0-5l-5 5M801 558l5 5m0-5l-5 5M801 559l5 5m0-5l-5 5M802 523l5 5m0-5l-5 5M802 550l5 5m0-5l-5 5M801 521l6 6m0-6l-6 6M802 519l6 6m0-6l-6 6M802 508l6 6m0-6l-6 6M804 536l5 5m0-5l-5 5M803 553l6 6m0-6l-6 6M805 549l5 5m0-5l-5 5M804 510l6 6m0-6l-6 6M805 557l5 5m0-5l-5 5M806 533l5 5m0-5l-5 5M806 508l5 5m0-5l-5 5M806 562l6 6m0-6l-6 6M806 521l6 6m0-6l-6 6M808 529l5 5m0-5l-5 5M807 566l6 6m0-6l-6 6M808 621l5 5m0-5l-5 5M809 527l5 5m0-5l-5 5M809 564l5 5m0-5l-5 5M809 506l6 6m0-6l-6 6M810 527l5 5m0-5l-5 5M809 520l6 6m0-6l-6 6M810 502l6 6m0-6l-6 6M811 555l5 5m0-5l-5 5M811 543l6 6m0-6l-6 6M811 550l6 6m0-6l-6 6M812 525l5 5m0-5l-5 5M813 559l5 5m0-5l-5 5M812 534l6 6m0-6l-6 6M814 568l5 5m0-5l-5 5M814 527l5 5m0-5l-5 5M814 522l5 5m0-5l-5 5M814 586l6 6m0-6l-6 6M815 565l5 5m0-5l-5 5M816 535l5 5m0-5l-5 5M815 538l6 6m0-6l-6 6M816 546l6 6m0-6l-6 6M816 525l6 6m0-6l-6 6M816 566l6 6m0-6l-6 6M818 504l5 5m0-5l-5 5M817 527l6 6m0-6l-6 6M819 533l5 5m0-5l-5 5M819 534l5 5m0-5l-5 5M819 551l5 5m0-5l-5 5M819 535l6 6m0-6l-6 6M819 532l6 6m0-6l-6 6M821 514l5 5m0-5l-5 5M821 549l5 5m0-5l-5 5M821 579l6 6m0-6l-6 6M821 570l6 6m0-6l-6 6M821 507l6 6m0-6l-6 6M823 545l5 5m0-5l-5 5M823 554l5 5m0-5l-5 5M823 542l6 6m0-6l-6 6M823 523l6 6m0-6l-6 6M823 562l6 6m0-6l-6 6M825 538l5 5m0-5l-5 5M824 569l6 6m0-6l-6 6M826 531l5 5m0-5l-5 5M826 526l5 5m0-5l-5 5M825 541l6 6m0-6l-6 6M827 539l5 5m0-5l-5 5M826 594l6 6m0-6l-6 6M828 564l5 5m0-5l-5 5M828 527l5 5m0-5l-5 5M828 514l5 5m0-5l-5 5M829 546l5 5m0-5l-5 5M828 525l6 6m0-6l-6 6M829 561l6 6m0-6l-6 6M829 552l6 6m0-6l-6 6M830 530l6 6m0-6l-6 6M830 559l6 6m0-6l-6 6M831 538l5 5m0-5l-5 5M832 568l5 5m0-5l-5 5M832 567l5 5m0-5l-5 5M832 537l6 6m0-6l-6 6M833 560l5 5m0-5l-5 5M833 541l5 5m0-5l-5 5M833 511l6 6m0-6l-6 6M834 574l5 5m0-5l-5 5M834 534l6 6m0-6l-6 6M835 579l5 5m0-5l-5 5M835 561l6 6m0-6l-6 6M836 600l5 5m0-5l-5 5M836 505l5 5m0-5l-5 5M837 519l5 5m0-5l-5 5M837 548l5 5m0-5l-5 5M837 533l5 5m0-5l-5 5M838 589l5 5m0-5l-5 5M837 580l6 6m0-6l-6 6M839 528l5 5m0-5l-5 5M838 553l6 6m0-6l-6 6M840 557l5 5m0-5l-5 5M840 520l5 5m0-5l-5 5M839 507l6 6m0-6l-6 6M840 521l6 6m0-6l-6 6M841 540l5 5m0-5l-5 5M842 572l5 5m0-5l-5 5M842 545l5 5m0-5l-5 5M841 562l6 6m0-6l-6 6M842 562l6 6m0-6l-6 6M842 535l6 6m0-6l-6 6M844 515l5 5m0-5l-5 5M843 574l6 6m0-6l-6 6M844 540l6 6m0-6l-6 6M845 531l5 5m0-5l-5 5M845 586l5 5m0-5l-5 5M845 592l6 6m0-6l-6 6M846 561l5 5m0-5l-5 5M846 567l6 6m0-6l-6 6M846 562l6 6m0-6l-6 6M846 553l6 6m0-6l-6 6M847 541l6 6m0-6l-6 6M848 508l5 5m0-5l-5 5M849 522l5 5m0-5l-5 5M848 537l6 6m0-6l-6 6M848 530l6 6m0-6l-6 6M850 548l5 5m0-5l-5 5M850 587l5 5m0-5l-5 5M851 555l5 5m0-5l-5 5M851 528l5 5m0-5l-5 5M851 556l6 6m0-6l-6 6M851 525l6 6m0-6l-6 6M852 514l5 5m0-5l-5 5M852 542l6 6m0-6l-6 6M852 577l6 6m0-6l-6 6M854 529l5 5m0-5l-5 5M853 546l6 6m0-6l-6 6M854 551l5 5m0-5l-5 5M854 511l6 6m0-6l-6 6M855 544l5 5m0-5l-5 5M856 584l5 5m0-5l-5 5M856 565l5 5m0-5l-5 5M856 479l6 6m0-6l-6 6M856 548l6 6m0-6l-6 6M857 559l5 5m0-5l-5 5M858 583l5 5m0-5l-5 5M857 558l6 6m0-6l-6 6M858 480l6 6m0-6l-6 6M859 541l5 5m0-5l-5 5M858 530l6 6m0-6l-6 6M859 520l6 6m0-6l-6 6M860 527l5 5m0-5l-5 5M861 547l5 5m0-5l-5 5M861 534l5 5m0-5l-5 5M860 551l6 6m0-6l-6 6M861 547l6 6m0-6l-6 6M861 554l6 6m0-6l-6 6M862 568l6 6m0-6l-6 6M862 597l6 6m0-6l-6 6M863 594l5 5m0-5l-5 5M864 520l5 5m0-5l-5 5M863 595l6 6m0-6l-6 6M865 557l5 5m0-5l-5 5M865 602l5 5m0-5l-5 5M866 580l5 5m0-5l-5 5M866 565l5 5m0-5l-5 5M865 588l6 6m0-6l-6 6M866 586l6 6m0-6l-6 6M867 555l5 5m0-5l-5 5M867 611l6 6m0-6l-6 6M867 540l6 6m0-6l-6 6M867 553l6 6m0-6l-6 6M869 549l5 5m0-5l-5 5M868 566l6 6m0-6l-6 6M869 574l6 6m0-6l-6 6M869 611l6 6m0-6l-6 6M870 547l6 6m0-6l-6 6M870 546l6 6m0-6l-6 6M871 565l5 5m0-5l-5 5M872 581l5 5m0-5l-5 5M871 570l6 6m0-6l-6 6M871 555l6 6m0-6l-6 6M873 563l5 5m0-5l-5 5M872 540l6 6m0-6l-6 6M874 566l5 5m0-5l-5 5M874 587l5 5m0-5l-5 5M874 527l6 6m0-6l-6 6M874 562l6 6m0-6l-6 6M876 570l5 5m0-5l-5 5M875 595l6 6m0-6l-6 6M875 552l6 6m0-6l-6 6M876 534l6 6m0-6l-6 6M877 569l5 5m0-5l-5 5M878 537l5 5m0-5l-5 5M877 562l6 6m0-6l-6 6M878 539l5 5m0-5l-5 5M878 523l6 6m0-6l-6 6M878 546l6 6m0-6l-6 6M880 594l5 5m0-5l-5 5M880 571l5 5m0-5l-5 5M880 548l5 5m0-5l-5 5M881 540l5 5m0-5l-5 5M881 509l5 5m0-5l-5 5M882 551l5 5m0-5l-5 5M882 546l5 5m0-5l-5 5M881 539l6 6m0-6l-6 6M883 591l5 5m0-5l-5 5M883 566l5 5m0-5l-5 5M883 578l6 6m0-6l-6 6M884 533l5 5m0-5l-5 5M883 544l6 6m0-6l-6 6M885 604l5 5m0-5l-5 5M885 559l5 5m0-5l-5 5M886 565l5 5m0-5l-5 5M885 538l6 6m0-6l-6 6M886 592l6 6m0-6l-6 6M887 583l5 5m0-5l-5 5M887 574l5 5m0-5l-5 5M887 566l6 6m0-6l-6 6M888 541l5 5m0-5l-5 5M889 563l5 5m0-5l-5 5M889 528l5 5m0-5l-5 5M888 537l6 6m0-6l-6 6M890 549l5 5m0-5l-5 5M890 596l5 5m0-5l-5 5M890 544l6 6m0-6l-6 6M891 521l5 5m0-5l-5 5M891 541l6 6m0-6l-6 6M892 586l5 5m0-5l-5 5M892 549l5 5m0-5l-5 5M893 553l5 5m0-5l-5 5M893 536l5 5m0-5l-5 5M894 586l5 5m0-5l-5 5M894 587l5 5m0-5l-5 5M893 552l6 6m0-6l-6 6M894 566l6 6m0-6l-6 6M894 581l6 6m0-6l-6 6M896 555l5 5m0-5l-5 5M895 558l6 6m0-6l-6 6M897 558l5 5m0-5l-5 5M896 567l6 6m0-6l-6 6M896 568l6 6m0-6l-6 6M898 542l5 5m0-5l-5 5M898 577l5 5m0-5l-5 5M897 550l6 6m0-6l-6 6M899 530l5 5m0-5l-5 5M899 509l5 5m0-5l-5 5M900 591l5 5m0-5l-5 5M899 560l6 6m0-6l-6 6M900 570l6 6m0-6l-6 6M900 615l6 6m0-6l-6 6M900 566l6 6m0-6l-6 6M902 570l5 5m0-5l-5 5M901 533l6 6m0-6l-6 6M903 545l5 5m0-5l-5 5M902 518l6 6m0-6l-6 6M904 536l5 5m0-5l-5 5M904 543l5 5m0-5l-5 5M904 564l5 5m0-5l-5 5M905 534l5 5m0-5l-5 5M905 555l5 5m0-5l-5 5M904 534l6 6m0-6l-6 6M906 562l5 5m0-5l-5 5M905 559l6 6m0-6l-6 6M906 551l6 6m0-6l-6 6M907 570l5 5m0-5l-5 5M908 554l5 5m0-5l-5 5M908 567l5 5m0-5l-5 5M907 588l6 6m0-6l-6 6M908 548l6 6m0-6l-6 6M909 599l5 5m0-5l-5 5M910 555l5 5m0-5l-5 5M910 564l5 5m0-5l-5 5M910 574l6 6m0-6l-6 6M911 571l5 5m0-5l-5 5M911 590l5 5m0-5l-5 5M912 584l5 5m0-5l-5 5M912 595l5 5m0-5l-5 5M912 586l5 5m0-5l-5 5M912 568l6 6m0-6l-6 6M913 561l5 5m0-5l-5 5M914 563l5 5m0-5l-5 5M913 568l6 6m0-6l-6 6M915 602l5 5m0-5l-5 5M914 575l6 6m0-6l-6 6M914 494l6 6m0-6l-6 6M915 570l6 6m0-6l-6 6M915 593l6 6m0-6l-6 6M916 555l6 6m0-6l-6 6M917 614l5 5m0-5l-5 5M917 517l5 5m0-5l-5 5M918 557l5 5m0-5l-5 5M918 564l5 5m0-5l-5 5M918 524l6 6m0-6l-6 6M919 567l5 5m0-5l-5 5M918 568l6 6m0-6l-6 6M919 608l6 6m0-6l-6 6M920 493l5 5m0-5l-5 5M921 581l5 5m0-5l-5 5M921 514l5 5m0-5l-5 5M922 554l5 5m0-5l-5 5M921 535l6 6m0-6l-6 6M922 556l5 5m0-5l-5 5M923 558l5 5m0-5l-5 5M922 561l6 6m0-6l-6 6M923 531l6 6m0-6l-6 6M924 562l5 5m0-5l-5 5M924 576l6 6m0-6l-6 6M925 575l5 5m0-5l-5 5M924 544l6 6m0-6l-6 6M925 584l6 6m0-6l-6 6M926 529l5 5m0-5l-5 5M927 571l5 5m0-5l-5 5M927 516l5 5m0-5l-5 5M927 549l5 5m0-5l-5 5M928 535l5 5m0-5l-5 5M928 530l5 5m0-5l-5 5M928 579l5 5m0-5l-5 5M929 581l5 5m0-5l-5 5M928 568l6 6m0-6l-6 6M929 606l6 6m0-6l-6 6M930 553l5 5m0-5l-5 5M931 557l5 5m0-5l-5 5M930 544l6 6m0-6l-6 6M930 603l6 6m0-6l-6 6M931 561l6 6m0-6l-6 6M931 524l6 6m0-6l-6 6M932 584l6 6m0-6l-6 6M932 523l6 6m0-6l-6 6M933 523l6 6m0-6l-6 6M934 556l5 5m0-5l-5 5M934 557l5 5m0-5l-5 5M934 597l6 6m0-6l-6 6M934 590l6 6m0-6l-6 6M934 563l6 6m0-6l-6 6M935 543l6 6m0-6l-6 6M935 544l6 6m0-6l-6 6M937 554l5 5m0-5l-5 5M937 571l5 5m0-5l-5 5M938 493l5 5m0-5l-5 5M938 598l5 5m0-5l-5 5M937 601l6 6m0-6l-6 6M938 523l6 6m0-6l-6 6M939 538l5 5m0-5l-5 5M939 568l6 6m0-6l-6 6M940 557l5 5m0-5l-5 5M940 572l5 5m0-5l-5 5M941 572l5 5m0-5l-5 5M941 547l5 5m0-5l-5 5M942 535l5 5m0-5l-5 5M942 624l5 5m0-5l-5 5M943 518l5 5m0-5l-5 5M942 513l6 6m0-6l-6 6M943 560l5 5m0-5l-5 5M944 526l5 5m0-5l-5 5M944 605l5 5m0-5l-5 5M944 571l6 6m0-6l-6 6M945 576l5 5m0-5l-5 5M944 575l6 6m0-6l-6 6M946 551l5 5m0-5l-5 5M946 556l5 5m0-5l-5 5M946 540l6 6m0-6l-6 6M947 519l5 5m0-5l-5 5M946 566l6 6m0-6l-6 6M948 578l5 5m0-5l-5 5M948 579l5 5m0-5l-5 5M949 557l5 5m0-5l-5 5M949 560l5 5m0-5l-5 5M949 554l6 6m0-6l-6 6M950 609l5 5m0-5l-5 5M950 552l5 5m0-5l-5 5M951 528l5 5m0-5l-5 5M950 519l6 6m0-6l-6 6M951 573l6 6m0-6l-6 6M952 558l5 5m0-5l-5 5M952 555l5 5m0-5l-5 5M953 539l5 5m0-5l-5 5M953 534l5 5m0-5l-5 5M954 570l5 5m0-5l-5 5M953 559l6 6m0-6l-6 6M953 522l6 6m0-6l-6 6M954 554l6 6m0-6l-6 6M954 511l6 6m0-6l-6 6M955 567l6 6m0-6l-6 6M955 530l6 6m0-6l-6 6M957 542l5 5m0-5l-5 5M957 557l5 5m0-5l-5 5M957 578l5 5m0-5l-5 5M958 496l5 5m0-5l-5 5M958 529l5 5m0-5l-5 5M959 535l5 5m0-5l-5 5M958 500l6 6m0-6l-6 6M959 552l6 6m0-6l-6 6M960 591l5 5m0-5l-5 5M960 504l5 5m0-5l-5 5M960 542l6 6m0-6l-6 6M961 509l5 5m0-5l-5 5M960 540l6 6m0-6l-6 6M961 556l6 6m0-6l-6 6M961 531l6 6m0-6l-6 6M963 487l5 5m0-5l-5 5M962 536l6 6m0-6l-6 6M963 518l6 6m0-6l-6 6M964 535l5 5m0-5l-5 5M964 598l5 5m0-5l-5 5M965 558l5 5m0-5l-5 5M964 517l6 6m0-6l-6 6M965 547l6 6m0-6l-6 6M966 478l5 5m0-5l-5 5M966 595l5 5m0-5l-5 5M966 505l6 6m0-6l-6 6M967 522l5 5m0-5l-5 5M967 554l6 6m0-6l-6 6M968 539l5 5m0-5l-5 5M968 547l6 6m0-6l-6 6M969 546l5 5m0-5l-5 5M969 553l5 5m0-5l-5 5M970 559l5 5m0-5l-5 5M970 530l5 5m0-5l-5 5M969 557l6 6m0-6l-6 6M970 581l6 6m0-6l-6 6M971 550l5 5m0-5l-5 5M971 526l6 6m0-6l-6 6M972 509l5 5m0-5l-5 5M972 555l6 6m0-6l-6 6M972 606l6 6m0-6l-6 6M972 557l6 6m0-6l-6 6M974 501l5 5m0-5l-5 5M974 546l5 5m0-5l-5 5M975 592l5 5m0-5l-5 5M975 555l5 5m0-5l-5 5M976 565l5 5m0-5l-5 5M976 524l5 5m0-5l-5 5M975 573l6 6m0-6l-6 6M977 573l5 5m0-5l-5 5M977 550l5 5m0-5l-5 5M978 548l5 5m0-5l-5 5M978 551l5 5m0-5l-5 5M978 546l5 5m0-5l-5 5M979 556l5 5m0-5l-5 5M979 573l5 5m0-5l-5 5M979 595l6 6m0-6l-6 6M980 576l5 5m0-5l-5 5M980 557l5 5m0-5l-5 5M981 625l5 5m0-5l-5 5M980 538l6 6m0-6l-6 6M981 572l6 6m0-6l-6 6M981 469l6 6m0-6l-6 6M982 569l6 6m0-6l-6 6M982 550l6 6m0-6l-6 6M983 611l5 5m0-5l-5 5M984 615l5 5m0-5l-5 5M984 562l5 5m0-5l-5 5M985 560l5 5m0-5l-5 5M985 515l5 5m0-5l-5 5M984 516l6 6m0-6l-6 6M985 570l6 6m0-6l-6 6M986 535l5 5m0-5l-5 5M986 557l6 6m0-6l-6 6M986 560l6 6m0-6l-6 6M986 563l6 6m0-6l-6 6M988 553l5 5m0-5l-5 5M988 574l5 5m0-5l-5 5M988 532l6 6m0-6l-6 6M989 505l5 5m0-5l-5 5M989 562l5 5m0-5l-5 5M989 540l6 6m0-6l-6 6M989 563l6 6m0-6l-6 6M991 549l5 5m0-5l-5 5M990 564l6 6m0-6l-6 6M992 508l5 5m0-5l-5 5M991 531l6 6m0-6l-6 6M992 580l5 5m0-5l-5 5M992 548l6 6m0-6l-6 6M993 521l5 5m0-5l-5 5M993 515l6 6m0-6l-6 6M993 508l6 6m0-6l-6 6M994 591l5 5m0-5l-5 5M995 525l5 5m0-5l-5 5M995 530l5 5m0-5l-5 5M996 548l5 5m0-5l-5 5M995 543l6 6m0-6l-6 6M996 548l5 5m0-5l-5 5M996 528l6 6m0-6l-6 6M997 573l5 5m0-5l-5 5M998 571l5 5m0-5l-5 5M997 528l6 6m0-6l-6 6M998 541l5 5m0-5l-5 5M999 557l5 5m0-5l-5 5M998 560l6 6m0-6l-6 6M999 504l6 6m0-6l-6 6M1000 545l5 5m0-5l-5 5M1000 563l6 6m0-6l-6 6M1001 532l5 5m0-5l-5 5M1000 551l6 6m0-6l-6 6M1001 573l6 6m0-6l-6 6M1002 576l5 5m0-5l-5 5M1003 558l5 5m0-5l-5 5M1003 587l5 5m0-5l-5 5M1002 556l6 6m0-6l-6 6M1004 582l5 5m0-5l-5 5M1004 527l5 5m0-5l-5 5M1004 547l6 6m0-6l-6 6M1004 546l6 6m0-6l-6 6M1005 570l6 6m0-6l-6 6M1006 549l5 5m0-5l-5 5M1005 562l6 6m0-6l-6 6M1007 558l5 5m0-5l-5 5M1006 555l6 6m0-6l-6 6M1008 571l5 5m0-5l-5 5M1007 554l6 6m0-6l-6 6M1008 583l5 5m0-5l-5 5M1009 597l5 5m0-5l-5 5M1008 544l6 6m0-6l-6 6M1010 552l5 5m0-5l-5 5M1010 597l5 5m0-5l-5 5M1010 553l6 6m0-6l-6 6M1010 548l6 6m0-6l-6 6M1011 529l5 5m0-5l-5 5M1012 563l5 5m0-5l-5 5M1011 562l6 6m0-6l-6 6M1012 569l5 5m0-5l-5 5M1013 559l5 5m0-5l-5 5M1012 494l6 6m0-6l-6 6M1013 558l6 6m0-6l-6 6M1014 527l5 5m0-5l-5 5M1015 523l5 5m0-5l-5 5M1015 542l5 5m0-5l-5 5M1014 547l6 6m0-6l-6 6M1015 539l6 6m0-6l-6 6M1015 566l6 6m0-6l-6 6M1017 518l5 5m0-5l-5 5M1016 563l6 6m0-6l-6 6M1018 519l5 5m0-5l-5 5M1018 526l5 5m0-5l-5 5M1018 567l5 5m0-5l-5 5M1019 555l5 5m0-5l-5 5M1018 534l6 6m0-6l-6 6M1019 538l6 6m0-6l-6 6M1020 517l5 5m0-5l-5 5M1019 550l6 6m0-6l-6 6M1020 552l6 6m0-6l-6 6M1020 559l6 6m0-6l-6 6M1022 581l5 5m0-5l-5 5M1022 530l5 5m0-5l-5 5M1022 535l5 5m0-5l-5 5M1022 547l6 6m0-6l-6 6M1023 558l5 5m0-5l-5 5M1023 570l6 6m0-6l-6 6M1023 513l6 6m0-6l-6 6M1025 555l5 5m0-5l-5 5M1024 560l6 6m0-6l-6 6M1024 523l6 6m0-6l-6 6M1025 553l6 6m0-6l-6 6M1026 586l5 5m0-5l-5 5M1026 523l5 5m0-5l-5 5M1026 537l6 6m0-6l-6 6M1027 532l5 5m0-5l-5 5M1027 526l6 6m0-6l-6 6M1028 535l5 5m0-5l-5 5M1028 531l6 6m0-6l-6 6M1029 558l5 5m0-5l-5 5M1028 559l6 6m0-6l-6 6M1030 535l5 5m0-5l-5 5M1029 576l6 6m0-6l-6 6M1031 524l5 5m0-5l-5 5M1031 557l5 5m0-5l-5 5M1032 567l5 5m0-5l-5 5M1032 518l5 5m0-5l-5 5M1032 533l5 5m0-5l-5 5M1033 543l5 5m0-5l-5 5M1033 514l5 5m0-5l-5 5M1032 529l6 6m0-6l-6 6M1033 521l6 6m0-6l-6 6M1034 540l5 5m0-5l-5 5M1035 524l5 5m0-5l-5 5M1034 515l6 6m0-6l-6 6M1036 551l5 5m0-5l-5 5M1035 578l6 6m0-6l-6 6M1035 529l6 6m0-6l-6 6M1037 567l5 5m0-5l-5 5M1037 560l5 5m0-5l-5 5M1038 556l5 5m0-5l-5 5M1038 539l5 5m0-5l-5 5M1039 537l5 5m0-5l-5 5M1038 544l6 6m0-6l-6 6M1039 569l5 5m0-5l-5 5M1039 569l6 6m0-6l-6 6M1040 566l5 5m0-5l-5 5M1041 558l5 5m0-5l-5 5M1041 569l5 5m0-5l-5 5M1041 554l5 5m0-5l-5 5M1042 528l5 5m0-5l-5 5M1041 583l6 6m0-6l-6 6M1043 537l5 5m0-5l-5 5M1042 562l6 6m0-6l-6 6M1042 545l6 6m0-6l-6 6M1044 535l5 5m0-5l-5 5M1043 564l6 6m0-6l-6 6M1044 544l6 6m0-6l-6 6M1044 557l6 6m0-6l-6 6M1045 566l5 5m0-5l-5 5M1045 532l6 6m0-6l-6 6M1045 543l6 6m0-6l-6 6M1046 533l6 6m0-6l-6 6M1047 532l5 5m0-5l-5 5M1046 535l6 6m0-6l-6 6M1048 545l5 5m0-5l-5 5M1047 556l6 6m0-6l-6 6M1048 582l6 6m0-6l-6 6M1048 619l6 6m0-6l-6 6M1049 523l6 6m0-6l-6 6M1050 574l5 5m0-5l-5 5M1050 553l5 5m0-5l-5 5M1051 555l5 5m0-5l-5 5M1050 580l6 6m0-6l-6 6M1052 528l5 5m0-5l-5 5M1052 529l5 5m0-5l-5 5M1051 578l6 6m0-6l-6 6M1053 570l5 5m0-5l-5 5M1053 553l5 5m0-5l-5 5M1053 525l6 6m0-6l-6 6M1054 550l5 5m0-5l-5 5M1055 580l5 5m0-5l-5 5M1054 561l6 6m0-6l-6 6M1055 582l5 5m0-5l-5 5M1056 532l5 5m0-5l-5 5M1055 551l6 6m0-6l-6 6M1056 591l6 6m0-6l-6 6M1057 584l5 5m0-5l-5 5M1057 551l5 5m0-5l-5 5M1058 601l5 5m0-5l-5 5M1058 580l5 5m0-5l-5 5M1058 536l6 6m0-6l-6 6M1059 555l5 5m0-5l-5 5M1059 577l6 6m0-6l-6 6M1059 566l6 6m0-6l-6 6M1060 557l5 5m0-5l-5 5M1061 557l5 5m0-5l-5 5M1061 556l5 5m0-5l-5 5M1060 549l6 6m0-6l-6 6M1062 543l5 5m0-5l-5 5M1062 562l5 5m0-5l-5 5M1062 516l6 6m0-6l-6 6M1063 543l5 5m0-5l-5 5M1064 591l5 5m0-5l-5 5M1063 596l6 6m0-6l-6 6M1065 544l5 5m0-5l-5 5M1065 613l5 5m0-5l-5 5M1065 556l5 5m0-5l-5 5M1065 594l6 6m0-6l-6 6M1066 539l5 5m0-5l-5 5M1066 525l6 6m0-6l-6 6M1066 534l6 6m0-6l-6 6M1067 519l5 5m0-5l-5 5M1068 591l5 5m0-5l-5 5M1068 564l5 5m0-5l-5 5M1069 532l5 5m0-5l-5 5M1069 573l5 5m0-5l-5 5M1069 576l5 5m0-5l-5 5M1069 574l6 6m0-6l-6 6M1069 563l6 6m0-6l-6 6M1070 537l6 6m0-6l-6 6M1070 568l6 6m0-6l-6 6M1070 551l6 6m0-6l-6 6M1071 545l6 6m0-6l-6 6M1071 548l6 6m0-6l-6 6M1073 550l5 5m0-5l-5 5M1073 517l5 5m0-5l-5 5M1072 552l6 6m0-6l-6 6M1073 564l6 6m0-6l-6 6M1074 547l5 5m0-5l-5 5M1074 581l6 6m0-6l-6 6M1075 556l5 5m0-5l-5 5M1075 581l5 5m0-5l-5 5M1076 565l5 5m0-5l-5 5M1076 538l5 5m0-5l-5 5M1076 514l6 6m0-6l-6 6M1077 547l5 5m0-5l-5 5M1077 559l6 6m0-6l-6 6M1077 550l6 6m0-6l-6 6M1078 561l5 5m0-5l-5 5M1079 531l5 5m0-5l-5 5M1078 566l6 6m0-6l-6 6M1080 574l5 5m0-5l-5 5M1079 595l6 6m0-6l-6 6M1080 513l6 6m0-6l-6 6M1081 544l5 5m0-5l-5 5M1081 525l5 5m0-5l-5 5M1081 543l6 6m0-6l-6 6M1081 524l6 6m0-6l-6 6M1083 560l5 5m0-5l-5 5M1083 551l5 5m0-5l-5 5M1082 576l6 6m0-6l-6 6M1083 534l6 6m0-6l-6 6M1083 529l6 6m0-6l-6 6M1084 583l6 6m0-6l-6 6M1084 576l6 6m0-6l-6 6M1085 539l5 5m0-5l-5 5M1086 589l5 5m0-5l-5 5M1086 484l5 5m0-5l-5 5M1087 576l5 5m0-5l-5 5M1087 561l5 5m0-5l-5 5M1087 579l6 6m0-6l-6 6M1088 512l5 5m0-5l-5 5M1088 555l5 5m0-5l-5 5M1088 541l6 6m0-6l-6 6M1088 546l6 6m0-6l-6 6M1089 560l6 6m0-6l-6 6M1090 569l5 5m0-5l-5 5M1090 512l5 5m0-5l-5 5M1091 542l5 5m0-5l-5 5M1090 555l6 6m0-6l-6 6M1092 515l5 5m0-5l-5 5M1091 544l6 6m0-6l-6 6M1093 542l5 5m0-5l-5 5M1092 541l6 6m0-6l-6 6M1092 514l6 6m0-6l-6 6M1093 552l6 6m0-6l-6 6M1094 543l5 5m0-5l-5 5M1094 530l5 5m0-5l-5 5M1094 534l6 6m0-6l-6 6M1095 527l5 5m0-5l-5 5M1095 495l6 6m0-6l-6 6M1096 528l5 5m0-5l-5 5M1097 538l5 5m0-5l-5 5M1097 513l5 5m0-5l-5 5M1097 560l5 5m0-5l-5 5M1098 552l5 5m0-5l-5 5M1097 521l6 6m0-6l-6 6M1098 533l6 6m0-6l-6 6M1098 554l6 6m0-6l-6 6M1099 536l6 6m0-6l-6 6M1100 553l5 5m0-5l-5 5M1099 508l6 6m0-6l-6 6M1101 554l5 5m0-5l-5 5M1100 541l6 6m0-6l-6 6M1101 538l5 5m0-5l-5 5M1102 546l5 5m0-5l-5 5M1101 549l6 6m0-6l-6 6M1103 529l5 5m0-5l-5 5M1102 530l6 6m0-6l-6 6M1104 478l5 5m0-5l-5 5M1103 575l6 6m0-6l-6 6M1103 512l6 6m0-6l-6 6M1105 502l5 5m0-5l-5 5M1104 549l6 6m0-6l-6 6M1105 509l6 6m0-6l-6 6M1106 510l5 5m0-5l-5 5M1106 544l6 6m0-6l-6 6M1106 515l6 6m0-6l-6 6M1107 562l5 5m0-5l-5 5M1107 518l6 6m0-6l-6 6M1107 529l6 6m0-6l-6 6M1108 536l5 5m0-5l-5 5M1108 548l6 6m0-6l-6 6M1108 529l6 6m0-6l-6 6M1109 551l6 6m0-6l-6 6M1110 536l5 5m0-5l-5 5M1110 496l6 6m0-6l-6 6M1111 529l5 5m0-5l-5 5M1111 534l5 5m0-5l-5 5M1111 516l6 6m0-6l-6 6M1112 545l5 5m0-5l-5 5M1113 581l5 5m0-5l-5 5M1113 520l5 5m0-5l-5 5M1113 575l5 5m0-5l-5 5M1113 523l6 6m0-6l-6 6M1113 554l6 6m0-6l-6 6M1114 538l6 6m0-6l-6 6M1114 597l6 6m0-6l-6 6M1115 518l5 5m0-5l-5 5M1116 560l5 5m0-5l-5 5M1116 539l5 5m0-5l-5 5M1116 543l6 6m0-6l-6 6M1116 540l6 6m0-6l-6 6M1117 613l5 5m0-5l-5 5M1117 551l6 6m0-6l-6 6M1118 550l5 5m0-5l-5 5M1119 566l5 5m0-5l-5 5M1118 575l6 6m0-6l-6 6M1120 585l5 5m0-5l-5 5M1119 540l6 6m0-6l-6 6M1120 491l5 5m0-5l-5 5M1121 539l5 5m0-5l-5 5M1121 622l5 5m0-5l-5 5M1121 546l6 6m0-6l-6 6M1121 539l6 6m0-6l-6 6M1122 555l6 6m0-6l-6 6M1123 552l5 5m0-5l-5 5M1123 583l5 5m0-5l-5 5M1123 615l6 6m0-6l-6 6M1123 530l6 6m0-6l-6 6M1125 546l5 5m0-5l-5 5M1125 527l5 5m0-5l-5 5M1125 548l5 5m0-5l-5 5M1125 536l6 6m0-6l-6 6M1126 547l5 5m0-5l-5 5M1126 565l6 6m0-6l-6 6M1127 548l5 5m0-5l-5 5M1127 562l6 6m0-6l-6 6M1128 531l5 5m0-5l-5 5M1128 576l5 5m0-5l-5 5M1128 492l6 6m0-6l-6 6M1128 533l6 6m0-6l-6 6M1129 582l5 5m0-5l-5 5M1130 530l5 5m0-5l-5 5M1130 551l5 5m0-5l-5 5M1130 571l6 6m0-6l-6 6M1130 536l6 6m0-6l-6 6M1131 550l6 6m0-6l-6 6M1131 575l6 6m0-6l-6 6M1131 536l6 6m0-6l-6 6M1132 528l6 6m0-6l-6 6M1133 545l5 5m0-5l-5 5M1133 563l6 6m0-6l-6 6M1133 472l6 6m0-6l-6 6M1133 543l6 6m0-6l-6 6M1134 541l6 6m0-6l-6 6M1135 520l5 5m0-5l-5 5M1136 534l5 5m0-5l-5 5M1135 525l6 6m0-6l-6 6M1136 469l6 6m0-6l-6 6M1136 526l6 6m0-6l-6 6M1137 477l5 5m0-5l-5 5M1138 525l5 5m0-5l-5 5M1137 546l6 6m0-6l-6 6M1139 514l5 5m0-5l-5 5M1139 533l5 5m0-5l-5 5M1139 512l5 5m0-5l-5 5M1139 516l6 6m0-6l-6 6M1139 519l6 6m0-6l-6 6M1141 545l5 5m0-5l-5 5M1140 554l6 6m0-6l-6 6M1140 537l6 6m0-6l-6 6M1142 523l5 5m0-5l-5 5M1141 522l6 6m0-6l-6 6M1143 520l5 5m0-5l-5 5M1143 527l5 5m0-5l-5 5M1142 532l6 6m0-6l-6 6M1144 544l5 5m0-5l-5 5M1144 537l5 5m0-5l-5 5M1144 567l6 6m0-6l-6 6M1144 486l6 6m0-6l-6 6M1146 542l5 5m0-5l-5 5M1145 547l6 6m0-6l-6 6M1145 532l6 6m0-6l-6 6M1147 594l5 5m0-5l-5 5M1146 547l6 6m0-6l-6 6M1148 545l5 5m0-5l-5 5M1147 508l6 6m0-6l-6 6M1148 585l5 5m0-5l-5 5M1148 557l6 6m0-6l-6 6M1148 526l6 6m0-6l-6 6M1149 540l6 6m0-6l-6 6M1149 557l6 6m0-6l-6 6M1149 488l6 6m0-6l-6 6M1151 504l5 5m0-5l-5 5M1150 527l6 6m0-6l-6 6M1151 543l6 6m0-6l-6 6M1151 496l6 6m0-6l-6 6M1152 538l6 6m0-6l-6 6M1153 521l5 5m0-5l-5 5M1152 598l6 6m0-6l-6 6M1154 518l5 5m0-5l-5 5M1154 519l5 5m0-5l-5 5M1154 549l6 6m0-6l-6 6M1154 462l6 6m0-6l-6 6M1154 503l6 6m0-6l-6 6M1155 549l6 6m0-6l-6 6M1156 606l5 5m0-5l-5 5M1157 534l5 5m0-5l-5 5M1157 499l5 5m0-5l-5 5M1156 516l6 6m0-6l-6 6M1157 564l6 6m0-6l-6 6M1158 543l5 5m0-5l-5 5M1158 493l6 6m0-6l-6 6M1159 578l5 5m0-5l-5 5M1159 494l6 6m0-6l-6 6M1159 527l6 6m0-6l-6 6M1159 554l6 6m0-6l-6 6M1161 524l5 5m0-5l-5 5M1161 515l5 5m0-5l-5 5M1161 581l6 6m0-6l-6 6M1162 574l5 5m0-5l-5 5M1162 583l5 5m0-5l-5 5M1163 535l5 5m0-5l-5 5M1162 546l6 6m0-6l-6 6M1163 588l6 6m0-6l-6 6M1163 539l6 6m0-6l-6 6M1164 542l5 5m0-5l-5 5M1165 528l5 5m0-5l-5 5M1164 557l6 6m0-6l-6 6M1165 527l6 6m0-6l-6 6M1165 556l6 6m0-6l-6 6M1167 540l5 5m0-5l-5 5M1166 551l6 6m0-6l-6 6M1166 526l6 6m0-6l-6 6M1167 544l6 6m0-6l-6 6M1168 511l5 5m0-5l-5 5M1169 549l5 5m0-5l-5 5M1168 556l6 6m0-6l-6 6M1168 527l6 6m0-6l-6 6M1169 599l6 6m0-6l-6 6M1169 536l6 6m0-6l-6 6M1171 536l5 5m0-5l-5 5M1171 543l5 5m0-5l-5 5M1172 539l5 5m0-5l-5 5M1171 530l6 6m0-6l-6 6M1172 559l5 5m0-5l-5 5M1173 539l5 5m0-5l-5 5M1173 516l5 5m0-5l-5 5M1174 546l5 5m0-5l-5 5M1174 577l5 5m0-5l-5 5M1173 578l6 6m0-6l-6 6M1175 548l5 5m0-5l-5 5M1174 573l6 6m0-6l-6 6M1175 555l6 6m0-6l-6 6M1176 500l5 5m0-5l-5 5M1176 553l5 5m0-5l-5 5M1176 537l6 6m0-6l-6 6M1176 564l6 6m0-6l-6 6M1178 562l5 5m0-5l-5 5M1177 567l6 6m0-6l-6 6M1179 541l5 5m0-5l-5 5M1179 546l5 5m0-5l-5 5M1179 551l5 5m0-5l-5 5M1180 561l5 5m0-5l-5 5M1179 524l6 6m0-6l-6 6M1181 590l5 5m0-5l-5 5M1181 493l5 5m0-5l-5 5M1180 574l6 6m0-6l-6 6M1182 552l5 5m0-5l-5 5M1182 549l5 5m0-5l-5 5M1182 515l6 6m0-6l-6 6M1183 526l5 5m0-5l-5 5M1182 521l6 6m0-6l-6 6M1183 509l6 6m0-6l-6 6M1183 564l6 6m0-6l-6 6M1185 576l5 5m0-5l-5 5M1184 547l6 6m0-6l-6 6M1186 539l5 5m0-5l-5 5M1186 558l5 5m0-5l-5 5M1186 567l5 5m0-5l-5 5M1186 513l6 6m0-6l-6 6M1187 526l5 5m0-5l-5 5M1186 541l6 6m0-6l-6 6M1188 545l5 5m0-5l-5 5M1187 536l6 6m0-6l-6 6M1189 548l5 5m0-5l-5 5M1189 543l5 5m0-5l-5 5M1190 541l5 5m0-5l-5 5M1189 532l6 6m0-6l-6 6M1190 522l6 6m0-6l-6 6M1191 517l5 5m0-5l-5 5M1191 564l5 5m0-5l-5 5M1192 544l5 5m0-5l-5 5M1191 483l6 6m0-6l-6 6M1191 550l6 6m0-6l-6 6M1193 546l5 5m0-5l-5 5M1192 511l6 6m0-6l-6 6M1193 595l6 6m0-6l-6 6M1193 538l6 6m0-6l-6 6M1194 549l5 5m0-5l-5 5M1194 473l6 6m0-6l-6 6M1194 570l6 6m0-6l-6 6M1195 558l6 6m0-6l-6 6M1196 553l5 5m0-5l-5 5M1196 553l6 6m0-6l-6 6M1196 562l6 6m0-6l-6 6M1197 533l5 5m0-5l-5 5M1197 521l6 6m0-6l-6 6M1198 580l5 5m0-5l-5 5M1198 518l6 6m0-6l-6 6M1199 521l5 5m0-5l-5 5M1198 538l6 6m0-6l-6 6M1200 512l5 5m0-5l-5 5M1199 549l6 6m0-6l-6 6M1200 539l6 6m0-6l-6 6M1201 548l5 5m0-5l-5 5M1202 520l5 5m0-5l-5 5M1202 527l5 5m0-5l-5 5M1201 520l6 6m0-6l-6 6M1202 482l6 6m0-6l-6 6M1203 567l5 5m0-5l-5 5M1203 525l6 6m0-6l-6 6M1204 520l5 5m0-5l-5 5M1203 503l6 6m0-6l-6 6M1205 539l5 5m0-5l-5 5M1204 566l6 6m0-6l-6 6M1205 534l6 6m0-6l-6 6M1206 525l5 5m0-5l-5 5M1205 528l6 6m0-6l-6 6M1207 514l5 5m0-5l-5 5M1206 523l6 6m0-6l-6 6M1207 525l6 6m0-6l-6 6M1207 546l6 6m0-6l-6 6M1209 554l5 5m0-5l-5 5M1209 569l5 5m0-5l-5 5M1208 560l6 6m0-6l-6 6M1210 526l5 5m0-5l-5 5M1209 605l6 6m0-6l-6 6M1211 563l5 5m0-5l-5 5M1210 572l6 6m0-6l-6 6M1211 563l5 5m0-5l-5 5M1212 511l5 5m0-5l-5 5M1211 566l6 6m0-6l-6 6M1212 518l6 6m0-6l-6 6M1213 539l5 5m0-5l-5 5M1213 547l6 6m0-6l-6 6M1214 542l5 5m0-5l-5 5M1214 521l5 5m0-5l-5 5M1215 511l5 5m0-5l-5 5M1215 534l5 5m0-5l-5 5M1215 512l6 6m0-6l-6 6M1216 525l5 5m0-5l-5 5M1216 522l5 5m0-5l-5 5M1217 542l5 5m0-5l-5 5M1217 529l5 5m0-5l-5 5M1217 521l6 6m0-6l-6 6M1218 522l5 5m0-5l-5 5M1218 511l5 5m0-5l-5 5M1219 515l5 5m0-5l-5 5M1219 548l5 5m0-5l-5 5M1219 490l6 6m0-6l-6 6M1219 523l6 6m0-6l-6 6M1220 570l5 5m0-5l-5 5M1220 512l6 6m0-6l-6 6M1220 543l6 6m0-6l-6 6M1221 493l6 6m0-6l-6 6M1221 544l6 6m0-6l-6 6M1223 512l5 5m0-5l-5 5M1223 525l5 5m0-5l-5 5M1222 530l6 6m0-6l-6 6M1223 456l6 6m0-6l-6 6M1224 579l5 5m0-5l-5 5M1225 557l5 5m0-5l-5 5M1225 574l5 5m0-5l-5 5M1225 493l5 5m0-5l-5 5M1225 567l6 6m0-6l-6 6M1226 562l5 5m0-5l-5 5M1226 532l6 6m0-6l-6 6M1227 543l5 5m0-5l-5 5M1226 470l6 6m0-6l-6 6M1228 526l5 5m0-5l-5 5M1228 547l5 5m0-5l-5 5M1229 569l5 5m0-5l-5 5M1228 546l6 6m0-6l-6 6M1230 540l5 5m0-5l-5 5M1229 529l6 6m0-6l-6 6M1229 536l6 6m0-6l-6 6M1231 556l5 5m0-5l-5 5M1230 545l6 6m0-6l-6 6M1231 533l6 6m0-6l-6 6M1232 530l5 5m0-5l-5 5M1232 558l6 6m0-6l-6 6M1233 523l5 5m0-5l-5 5M1233 508l5 5m0-5l-5 5M1234 512l5 5m0-5l-5 5M1234 531l5 5m0-5l-5 5M1234 519l6 6m0-6l-6 6M1234 534l6 6m0-6l-6 6M1235 531l5 5m0-5l-5 5M1236 521l5 5m0-5l-5 5M1236 564l5 5m0-5l-5 5M1236 536l6 6m0-6l-6 6M1236 517l6 6m0-6l-6 6M1236 514l6 6m0-6l-6 6M1237 528l6 6m0-6l-6 6M1238 533l5 5m0-5l-5 5M1239 555l5 5m0-5l-5 5M1238 550l6 6m0-6l-6 6M1239 523l5 5m0-5l-5 5M1240 531l5 5m0-5l-5 5M1240 526l5 5m0-5l-5 5M1240 530l6 6m0-6l-6 6M1240 499l6 6m0-6l-6 6M1240 520l6 6m0-6l-6 6M1241 546l6 6m0-6l-6 6M1241 521l6 6m0-6l-6 6M1242 505l6 6m0-6l-6 6M1242 526l6 6m0-6l-6 6M1244 526l5 5m0-5l-5 5M1243 543l6 6m0-6l-6 6M1243 544l6 6m0-6l-6 6M1244 508l6 6m0-6l-6 6M1244 549l6 6m0-6l-6 6M1246 527l5 5m0-5l-5 5M1245 528l6 6m0-6l-6 6M1246 505l5 5m0-5l-5 5M1246 535l6 6m0-6l-6 6M1247 540l5 5m0-5l-5 5M1248 550l5 5m0-5l-5 5M1248 577l5 5m0-5l-5 5M1248 549l6 6m0-6l-6 6M1249 542l5 5m0-5l-5 5M1249 521l5 5m0-5l-5 5M1249 545l6 6m0-6l-6 6M1250 546l5 5m0-5l-5 5M1250 534l6 6m0-6l-6 6M1251 541l5 5m0-5l-5 5M1250 528l6 6m0-6l-6 6M1252 518l5 5m0-5l-5 5M1252 533l5 5m0-5l-5 5M1252 539l6 6m0-6l-6 6M1253 526l5 5m0-5l-5 5M1253 497l5 5m0-5l-5 5M1253 511l6 6m0-6l-6 6M1254 502l5 5m0-5l-5 5M1255 548l5 5m0-5l-5 5M1254 545l6 6m0-6l-6 6M1254 526l6 6m0-6l-6 6M1256 556l5 5m0-5l-5 5M1255 551l6 6m0-6l-6 6M1257 495l5 5m0-5l-5 5M1256 524l6 6m0-6l-6 6M1257 494l6 6m0-6l-6 6M1258 565l5 5m0-5l-5 5M1257 496l6 6m0-6l-6 6M1258 536l6 6m0-6l-6 6M1259 515l5 5m0-5l-5 5M1259 511l6 6m0-6l-6 6M1260 510l5 5m0-5l-5 5M1259 541l6 6m0-6l-6 6M1261 543l5 5m0-5l-5 5M1261 520l5 5m0-5l-5 5M1262 550l5 5m0-5l-5 5M1261 557l6 6m0-6l-6 6M1262 533l6 6m0-6l-6 6M1262 552l6 6m0-6l-6 6M1262 523l6 6m0-6l-6 6M1263 555l6 6m0-6l-6 6M1264 552l5 5m0-5l-5 5M1264 550l6 6m0-6l-6 6M1265 575l5 5m0-5l-5 5M1265 504l5 5m0-5l-5 5M1266 524l5 5m0-5l-5 5M1265 519l6 6m0-6l-6 6M1267 525l5 5m0-5l-5 5M1267 514l5 5m0-5l-5 5M1267 549l5 5m0-5l-5 5M1267 549l6 6m0-6l-6 6M1267 500l6 6m0-6l-6 6M1269 466l5 5m0-5l-5 5M1268 575l6 6m0-6l-6 6M1269 531l6 6m0-6l-6 6M1269 520l6 6m0-6l-6 6M1270 525l5 5m0-5l-5 5M1270 539l6 6m0-6l-6 6M1270 526l6 6m0-6l-6 6M1271 506l6 6m0-6l-6 6M1271 529l6 6m0-6l-6 6M1272 530l5 5m0-5l-5 5M1272 524l6 6m0-6l-6 6M1273 547l5 5m0-5l-5 5M1274 565l5 5m0-5l-5 5M1274 522l5 5m0-5l-5 5M1273 507l6 6m0-6l-6 6M1274 527l6 6m0-6l-6 6M1274 522l6 6m0-6l-6 6M1275 546l6 6m0-6l-6 6M1276 481l5 5m0-5l-5 5M1277 517l5 5m0-5l-5 5M1276 548l6 6m0-6l-6 6M1277 511l5 5m0-5l-5 5M1278 523l5 5m0-5l-5 5M1277 518l6 6m0-6l-6 6M1279 534l5 5m0-5l-5 5M1278 555l6 6m0-6l-6 6M1279 572l5 5m0-5l-5 5M1280 516l5 5m0-5l-5 5M1280 511l5 5m0-5l-5 5M1280 477l6 6m0-6l-6 6M1280 560l6 6m0-6l-6 6M1281 519l5 5m0-5l-5 5M1281 491l6 6m0-6l-6 6M1281 548l6 6m0-6l-6 6M1282 504l6 6m0-6l-6 6M1283 505l5 5m0-5l-5 5M1283 542l5 5m0-5l-5 5M1284 504l5 5m0-5l-5 5M1283 559l6 6m0-6l-6 6M1285 477l5 5m0-5l-5 5M1285 484l5 5m0-5l-5 5M1285 490l6 6m0-6l-6 6M1286 513l5 5m0-5l-5 5M1285 514l6 6m0-6l-6 6M1286 532l6 6m0-6l-6 6M1286 497l6 6m0-6l-6 6M1288 491l5 5m0-5l-5 5M1288 552l5 5m0-5l-5 5M1288 477l5 5m0-5l-5 5M1289 537l5 5m0-5l-5 5M1288 524l6 6m0-6l-6 6M1290 530l5 5m0-5l-5 5M1289 507l6 6m0-6l-6 6M1289 568l6 6m0-6l-6 6M1291 508l5 5m0-5l-5 5M1291 481l5 5m0-5l-5 5M1291 551l6 6m0-6l-6 6M1291 540l6 6m0-6l-6 6M1292 500l6 6m0-6l-6 6M1293 547l5 5m0-5l-5 5M1293 508l5 5m0-5l-5 5M1294 536l5 5m0-5l-5 5M1294 523l5 5m0-5l-5 5M1295 525l5 5m0-5l-5 5M1294 512l6 6m0-6l-6 6M1295 509l5 5m0-5l-5 5M1296 485l5 5m0-5l-5 5M1295 538l6 6m0-6l-6 6M1296 542l6 6m0-6l-6 6M1297 527l5 5m0-5l-5 5M1298 539l5 5m0-5l-5 5M1298 528l5 5m0-5l-5 5M1297 503l6 6m0-6l-6 6M1298 583l6 6m0-6l-6 6M1299 526l5 5m0-5l-5 5M1299 532l6 6m0-6l-6 6M1300 527l5 5m0-5l-5 5M1300 528l5 5m0-5l-5 5M1300 532l6 6m0-6l-6 6M1301 519l5 5m0-5l-5 5M1301 529l6 6m0-6l-6 6M1302 506l5 5m0-5l-5 5M1302 516l6 6m0-6l-6 6M1303 491l5 5m0-5l-5 5M1303 542l5 5m0-5l-5 5M1304 500l5 5m0-5l-5 5M1303 539l6 6m0-6l-6 6M1304 547l6 6m0-6l-6 6M1304 520l6 6m0-6l-6 6M1305 495l5 5m0-5l-5 5M1305 525l6 6m0-6l-6 6M1306 548l5 5m0-5l-5 5M1306 515l5 5m0-5l-5 5M1307 545l5 5m0-5l-5 5M1306 522l6 6m0-6l-6 6M1308 586l5 5m0-5l-5 5M1308 589l5 5m0-5l-5 5M1309 525l5 5m0-5l-5 5M1308 546l6 6m0-6l-6 6M1309 546l6 6m0-6l-6 6M1309 495l6 6m0-6l-6 6M1309 528l6 6m0-6l-6 6M1310 518l6 6m0-6l-6 6M1310 557l6 6m0-6l-6 6M1311 515l6 6m0-6l-6 6M1312 478l5 5m0-5l-5 5M1312 563l5 5m0-5l-5 5M1312 513l6 6m0-6l-6 6M1313 552l5 5m0-5l-5 5M1313 542l6 6m0-6l-6 6M1314 485l5 5m0-5l-5 5M1314 472l5 5m0-5l-5 5M1314 510l6 6m0-6l-6 6M1314 523l6 6m0-6l-6 6M1315 527l6 6m0-6l-6 6M1316 528l5 5m0-5l-5 5M1316 537l5 5m0-5l-5 5M1316 521l6 6m0-6l-6 6M1316 530l6 6m0-6l-6 6M1318 524l5 5m0-5l-5 5M1317 531l6 6m0-6l-6 6M1319 531l5 5m0-5l-5 5M1318 490l6 6m0-6l-6 6M1318 525l6 6m0-6l-6 6M1319 511l6 6m0-6l-6 6M1320 510l5 5m0-5l-5 5M1321 486l5 5m0-5l-5 5M1321 529l5 5m0-5l-5 5M1321 530l5 5m0-5l-5 5M1321 506l6 6m0-6l-6 6M1322 563l5 5m0-5l-5 5M1323 565l5 5m0-5l-5 5M1322 538l6 6m0-6l-6 6M1324 520l5 5m0-5l-5 5M1324 503l5 5m0-5l-5 5M1324 530l5 5m0-5l-5 5M1324 526l6 6m0-6l-6 6M1324 523l6 6m0-6l-6 6M1324 502l6 6m0-6l-6 6M1325 508l6 6m0-6l-6 6M1325 569l6 6m0-6l-6 6M1326 515l6 6m0-6l-6 6M1326 500l6 6m0-6l-6 6M1327 490l6 6m0-6l-6 6M1328 503l5 5m0-5l-5 5M1328 534l5 5m0-5l-5 5M1328 478l6 6m0-6l-6 6M1328 571l6 6m0-6l-6 6M1329 515l6 6m0-6l-6 6M1330 516l5 5m0-5l-5 5M1329 531l6 6m0-6l-6 6M1330 497l6 6m0-6l-6 6M1330 514l6 6m0-6l-6 6M1332 510l5 5m0-5l-5 5M1332 505l5 5m0-5l-5 5M1332 503l6 6m0-6l-6 6M1332 520l6 6m0-6l-6 6M1332 517l6 6m0-6l-6 6M1333 513l6 6m0-6l-6 6M1333 494l6 6m0-6l-6 6M1334 493l5 5m0-5l-5 5M1335 537l5 5m0-5l-5 5M1335 498l5 5m0-5l-5 5M1336 522l5 5m0-5l-5 5M1335 509l6 6m0-6l-6 6M1336 545l6 6m0-6l-6 6M1337 522l5 5m0-5l-5 5M1336 515l6 6m0-6l-6 6M1337 521l6 6m0-6l-6 6M1337 520l6 6m0-6l-6 6M1339 498l5 5m0-5l-5 5M1338 489l6 6m0-6l-6 6M1339 512l5 5m0-5l-5 5M1339 518l6 6m0-6l-6 6M1339 529l6 6m0-6l-6 6M1340 535l6 6m0-6l-6 6M1340 524l6 6m0-6l-6 6M1342 520l5 5m0-5l-5 5M1341 503l6 6m0-6l-6 6M1341 546l6 6m0-6l-6 6M1342 538l6 6m0-6l-6 6M1343 515l5 5m0-5l-5 5M1344 541l5 5m0-5l-5 5M1344 528l5 5m0-5l-5 5M1344 530l6 6m0-6l-6 6M1344 551l6 6m0-6l-6 6M1345 556l5 5m0-5l-5 5M1346 494l5 5m0-5l-5 5M1346 549l5 5m0-5l-5 5M1346 496l5 5m0-5l-5 5M1346 550l6 6m0-6l-6 6M1347 537l5 5m0-5l-5 5M1347 513l6 6m0-6l-6 6M1348 526l5 5m0-5l-5 5M1347 547l6 6m0-6l-6 6M1348 531l6 6m0-6l-6 6M1349 512l5 5m0-5l-5 5M1349 522l6 6m0-6l-6 6M1349 513l6 6m0-6l-6 6M1350 537l6 6m0-6l-6 6M1351 548l5 5m0-5l-5 5M1350 513l6 6m0-6l-6 6M1351 507l6 6m0-6l-6 6M1352 516l5 5m0-5l-5 5M1353 540l5 5m0-5l-5 5M1352 575l6 6m0-6l-6 6M1354 527l5 5m0-5l-5 5M1353 536l6 6m0-6l-6 6M1353 509l6 6m0-6l-6 6M1354 565l6 6m0-6l-6 6M1355 544l5 5m0-5l-5 5M1355 499l5 5m0-5l-5 5M1355 563l6 6m0-6l-6 6M1356 556l5 5m0-5l-5 5M1356 556l6 6m0-6l-6 6M1357 543l5 5m0-5l-5 5M1357 511l6 6m0-6l-6 6M1357 502l6 6m0-6l-6 6M1358 557l5 5m0-5l-5 5M1359 529l5 5m0-5l-5 5M1358 542l6 6m0-6l-6 6M1360 532l5 5m0-5l-5 5M1360 509l5 5m0-5l-5 5M1361 517l5 5m0-5l-5 5M1360 510l6 6m0-6l-6 6M1360 473l6 6m0-6l-6 6M1362 533l5 5m0-5l-5 5M1361 516l6 6m0-6l-6 6M1361 541l6 6m0-6l-6 6M1363 523l5 5m0-5l-5 5M1363 536l5 5m0-5l-5 5M1364 508l5 5m0-5l-5 5M1364 507l5 5m0-5l-5 5M1365 503l5 5m0-5l-5 5M1364 520l6 6m0-6l-6 6M1365 529l5 5m0-5l-5 5M1366 563l5 5m0-5l-5 5M1366 498l5 5m0-5l-5 5M1366 544l6 6m0-6l-6 6M1367 535l5 5m0-5l-5 5M1368 561l5 5m0-5l-5 5M1367 514l6 6m0-6l-6 6M1368 541l5 5m0-5l-5 5M1368 513l6 6m0-6l-6 6M1368 528l6 6m0-6l-6 6M1370 542l5 5m0-5l-5 5M1369 527l6 6m0-6l-6 6M1369 578l6 6m0-6l-6 6M1370 530l6 6m0-6l-6 6M1370 519l6 6m0-6l-6 6M1372 525l5 5m0-5l-5 5M1372 530l5 5m0-5l-5 5M1371 537l6 6m0-6l-6 6M1373 539l5 5m0-5l-5 5M1372 526l6 6m0-6l-6 6M1374 558l5 5m0-5l-5 5M1374 525l5 5m0-5l-5 5M1375 565l5 5m0-5l-5 5M1374 526l6 6m0-6l-6 6M1374 529l6 6m0-6l-6 6M1375 549l6 6m0-6l-6 6M1375 542l6 6m0-6l-6 6M1377 564l5 5m0-5l-5 5M1376 523l6 6m0-6l-6 6M1377 546l5 5m0-5l-5 5M1377 532l6 6m0-6l-6 6M1378 519l5 5m0-5l-5 5M1378 503l6 6m0-6l-6 6M1378 516l6 6m0-6l-6 6M1379 525l5 5m0-5l-5 5M1380 535l5 5m0-5l-5 5M1379 492l6 6m0-6l-6 6M1381 522l5 5m0-5l-5 5M1381 525l5 5m0-5l-5 5M1382 501l5 5m0-5l-5 5M1381 524l6 6m0-6l-6 6M1381 523l6 6m0-6l-6 6M1382 525l6 6m0-6l-6 6M1382 488l6 6m0-6l-6 6M1383 515l5 5m0-5l-5 5M1383 521l6 6m0-6l-6 6M1384 494l5 5m0-5l-5 5M1385 536l5 5m0-5l-5 5M1385 515l5 5m0-5l-5 5M1386 533l5 5m0-5l-5 5M1386 530l5 5m0-5l-5 5M1387 530l5 5m0-5l-5 5M1387 503l5 5m0-5l-5 5M1387 522l5 5m0-5l-5 5M1388 554l5 5m0-5l-5 5M1388 485l5 5m0-5l-5 5M1387 526l6 6m0-6l-6 6M1389 500l5 5m0-5l-5 5M1388 517l6 6m0-6l-6 6M1389 493l6 6m0-6l-6 6M1389 506l6 6m0-6l-6 6M1390 512l6 6m0-6l-6 6M1391 539l5 5m0-5l-5 5M1391 538l5 5m0-5l-5 5M1392 538l5 5m0-5l-5 5M1391 519l6 6m0-6l-6 6M1393 489l5 5m0-5l-5 5M1393 542l5 5m0-5l-5 5M1392 499l6 6m0-6l-6 6M1393 515l6 6m0-6l-6 6M1393 510l6 6m0-6l-6 6M1395 512l5 5m0-5l-5 5M1395 503l5 5m0-5l-5 5M1395 462l5 5m0-5l-5 5M1396 524l5 5m0-5l-5 5M1395 535l6 6m0-6l-6 6M1397 503l5 5m0-5l-5 5M1397 528l5 5m0-5l-5 5M1397 526l6 6m0-6l-6 6M1398 511l5 5m0-5l-5 5M1397 538l6 6m0-6l-6 6M1399 534l5 5m0-5l-5 5M1399 481l5 5m0-5l-5 5M1400 519l5 5m0-5l-5 5M1399 496l6 6m0-6l-6 6M1400 493l5 5m0-5l-5 5M1401 545l5 5m0-5l-5 5M1401 524l5 5m0-5l-5 5M1401 516l6 6m0-6l-6 6M1401 507l6 6m0-6l-6 6M1401 512l6 6m0-6l-6 6M1402 544l6 6m0-6l-6 6M1403 523l5 5m0-5l-5 5M1403 517l6 6m0-6l-6 6M1403 522l6 6m0-6l-6 6M1405 504l5 5m0-5l-5 5M1405 525l5 5m0-5l-5 5M1404 506l6 6m0-6l-6 6M1406 502l5 5m0-5l-5 5M1405 513l6 6m0-6l-6 6M1406 519l6 6m0-6l-6 6M1407 498l5 5m0-5l-5 5M1407 501l5 5m0-5l-5 5M1408 493l5 5m0-5l-5 5M1408 532l5 5m0-5l-5 5M1408 486l6 6m0-6l-6 6M1409 533l5 5m0-5l-5 5M1408 502l6 6m0-6l-6 6M1410 502l5 5m0-5l-5 5M1410 539l5 5m0-5l-5 5M1410 507l6 6m0-6l-6 6M1410 562l6 6m0-6l-6 6M1411 488l6 6m0-6l-6 6M1411 497l6 6m0-6l-6 6M1412 510l5 5m0-5l-5 5M1412 484l6 6m0-6l-6 6M1412 497l6 6m0-6l-6 6M1414 525l5 5m0-5l-5 5M1413 526l6 6m0-6l-6 6M1413 519l6 6m0-6l-6 6M1415 533l5 5m0-5l-5 5M1415 508l5 5m0-5l-5 5M1416 488l5 5m0-5l-5 5M1416 509l5 5m0-5l-5 5M1416 473l6 6m0-6l-6 6M1416 512l6 6m0-6l-6 6M1417 535l5 5m0-5l-5 5M1418 507l5 5m0-5l-5 5M1417 542l6 6m0-6l-6 6M1418 532l6 6m0-6l-6 6M1419 515l5 5m0-5l-5 5M1418 500l6 6m0-6l-6 6M1420 516l5 5m0-5l-5 5" fill="none" stroke="#000" stroke-width="1" shape-rendering="crispEdges"/>
<path d="M162.6 597.0 L163.5 598.3 L164.8 600.1 L166.3 602.2 L167.9 603.9 L169.6 604.8 L171.4 604.7 L173.3 603.8 L175.3 602.6 L177.3 601.4 L179.2 600.5 L181.0 599.9 L182.8 599.3 L184.6 598.8 L186.3 598.6 L188.0 598.7 L189.6 599.3 L191.2 600.3 L192.7 601.5 L194.2 602.8 L195.8 604.0 L197.4 605.3 L198.9 606.9 L200.5 608.4 L202.1 609.5 L203.7 609.7 L205.4 608.9 L207.1 607.3 L208.9 605.3 L210.6 603.2 L212.4 601.3 L214.2 599.5 L215.9 597.6 L217.7 595.7 L219.4 594.3 L221.2 593.5 L222.9 593.6 L224.6 594.4 L226.4 595.5 L228.1 596.8 L229.9 597.9 L231.8 599.0 L233.7 600.3 L235.7 601.6 L237.6 602.5 L239.5 602.7 L241.3 602.1 L243.0 601.0 L244.6 599.4 L246.4 597.7 L248.2 596.1 L250.2 594.3 L252.4 592.1 L254.5 590.0 L256.7 588.3 L258.7 587.4 L260.6 587.4 L262.3 588.2 L264.1 589.4 L265.8 590.6 L267.5 591.7 L269.2 592.6 L270.9 593.6 L272.6 594.5 L274.3 595.3 L276.2 595.8 L278.2 595.9 L280.4 595.6 L282.5 595.2 L284.7 595.0 L286.7 595.2 L288.5 595.9 L290.3 596.9 L291.9 598.2 L293.6 599.4 L295.4 600.5 L297.3 601.5 L299.2 602.5 L301.2 603.5 L303.1 604.3 L305.0 604.8 L306.8 605.0 L308.7 605.0 L310.4 604.8 L312.2 604.4 L313.8 604.0 L315.3 603.5 L316.7 602.7 L318.1 601.9 L319.4 601.2 L320.8 600.5 L322.2 599.9 L323.5 599.2 L324.8 598.7 L326.2 598.3 L327.7 598.2 L329.3 598.4 L331.0 599.0 L332.8 599.7 L334.7 600.5 L336.5 601.3 L338.4 602.3 L340.4 603.6 L342.3 604.9 L344.3 605.8 L346.1 606.2 L347.7 605.9 L349.3 605.1 L350.7 604.0 L352.3 602.7 L354.0 601.3 L355.9 599.6 L358.0 597.4 L360.1 595.2 L362.3 593.5 L364.4 592.6 L366.5 592.9 L368.6 594.0 L370.7 595.6 L372.8 597.3 L374.9 598.7 L377.0 600.0 L379.2 601.4 L381.3 602.7 L383.4 603.6 L385.4 604.0 L387.2 603.7 L388.9 602.8 L390.6 601.6 L392.3 600.1 L394.1 598.7 L396.1 597.1 L398.3 595.2 L400.4 593.2 L402.6 591.4 L404.6 590.0 L406.5 589.1 L408.3 588.4 L410.1 588.0 L411.8 587.7 L413.4 587.4 L414.9 587.2 L416.3 587.1 L417.6 587.1 L419.0 587.1 L420.5 586.9 L422.2 586.6 L423.9 586.4 L425.8 586.0 L427.5 585.5 L429.2 584.8 L430.7 583.8 L432.0 582.5 L433.4 581.2 L434.7 579.8 L436.2 578.7 L437.8 577.7 L439.6 576.6 L441.3 575.8 L443.1 575.1 L444.9 574.9 L446.6 575.1 L448.3 575.8 L450.1 576.7 L451.8 577.7 L453.7 578.7 L455.7 579.9 L457.9 581.3 L460.0 582.7 L462.2 583.9 L464.2 584.5 L466.0 584.5 L467.6 584.2 L469.3 583.5 L471.0 582.5 L472.9 581.3 L475.2 579.6 L477.7 577.3 L480.3 575.0 L482.8 572.9 L485.1 571.7 L487.1 571.5 L488.9 571.9 L490.6 572.8 L492.2 573.7 L493.9 574.4 L495.6 574.9 L497.2 575.4 L498.9 575.8 L500.6 576.1 L502.6 576.1 L504.9 575.6 L507.4 574.8 L510.0 573.8 L512.5 573.0 L514.8 572.6 L516.8 572.8 L518.5 573.3 L520.1 574.1 L521.8 574.9 L523.6 575.8 L525.6 576.9 L527.8 578.3 L529.9 579.6 L532.1 580.6 L534.1 581.0 L535.9 580.6 L537.6 579.6 L539.3 578.3 L541.0 576.7 L542.8 575.2 L544.8 573.4 L547.0 571.1 L549.1 568.9 L551.3 567.2 L553.3 566.5 L555.2 566.9 L556.9 568.3 L558.6 570.1 L560.3 572.3 L562.0 574.4 L563.8 576.7 L565.6 579.4 L567.4 582.2 L569.2 584.7 L570.8 586.6 L572.3 587.9 L573.6 588.9 L574.9 589.5 L576.2 589.7 L577.7 589.7 L579.3 589.2 L581.1 588.2 L582.9 587.0 L584.7 585.8 L586.5 584.8 L588.2 584.0 L589.9 583.3 L591.6 582.6 L593.3 582.1 L595.2 581.7 L597.2 581.5 L599.4 581.6 L601.5 581.8 L603.7 581.8 L605.7 581.7 L607.6 581.4 L609.3 581.0 L611.0 580.5 L612.7 579.8 L614.4 578.7 L616.2 577.1 L618.0 575.0 L619.7 572.8 L621.5 570.7 L623.2 569.1 L624.8 568.0 L626.4 567.2 L627.9 566.7 L629.4 566.5 L631.0 566.5 L632.6 566.9 L634.2 567.8 L635.7 568.8 L637.3 569.9 L638.9 570.9 L640.5 571.9 L642.1 573.0 L643.6 574.1 L645.2 574.9 L646.8 575.2 L648.4 574.9 L650.0 574.1 L651.5 573.1 L653.1 571.9 L654.6 570.9 L656.1 569.9 L657.5 568.9 L658.9 567.9 L660.2 567.0 L661.5 566.3 L662.6 565.8 L663.6 565.4 L664.6 565.1 L665.7 565.1 L667.0 565.2 L668.5 565.6 L670.3 566.4 L672.1 567.2 L674.0 568.0 L675.7 568.7 L677.3 569.3 L678.9 569.8 L680.5 570.2 L682.0 570.5 L683.6 570.5 L685.2 570.1 L686.8 569.4 L688.5 568.5 L690.0 567.7 L691.5 567.0 L692.8 566.5 L694.0 566.0 L695.1 565.6 L696.3 565.3 L697.6 565.2 L699.1 565.4 L700.6 565.7 L702.3 566.2 L703.9 566.7 L705.4 567.0 L706.8 567.2 L708.2 567.3 L709.5 567.4 L710.9 567.3 L712.4 567.0 L714.0 566.4 L715.8 565.7 L717.6 564.8 L719.4 563.7 L721.2 562.6 L723.0 561.3 L724.9 559.7 L726.7 558.1 L728.4 556.7 L729.9 555.6 L731.1 554.9 L732.1 554.3 L733.1 554.0 L734.0 553.9 L735.1 553.9 L736.4 554.1 L737.8 554.6 L739.2 555.2 L740.7 555.9 L742.1 556.5 L743.5 557.2 L744.9 558.0 L746.3 558.7 L747.7 559.5 L749.1 560.0 L750.5 560.4 L751.9 560.7 L753.3 560.9 L754.7 561.0 L756.1 560.9 L757.5 560.6 L758.9 560.2 L760.3 559.6 L761.7 559.0 L763.1 558.2 L764.5 557.3 L765.9 556.1 L767.4 554.9 L768.8 553.8 L770.1 553.0 L771.4 552.5 L772.6 552.1 L773.8 551.9 L775.0 551.8 L776.2 551.8 L777.4 551.8 L778.6 552.0 L779.8 552.2 L781.0 552.6 L782.3 553.0 L783.6 553.6 L785.0 554.4 L786.5 555.2 L787.9 556.0 L789.3 556.5 L790.7 556.8 L792.1 557.1 L793.5 557.2 L794.9 557.2 L796.3 557.0 L797.7 556.6 L799.2 556.0 L800.6 555.3 L802.0 554.6 L803.3 553.9 L804.4 553.2 L805.4 552.4 L806.4 551.7 L807.4 551.0 L808.5 550.4 L809.8 549.9 L811.2 549.6 L812.6 549.3 L814.1 549.1 L815.5 549.0 L816.9 549.0 L818.2 549.1 L819.6 549.3 L821.0 549.6 L822.5 550.0 L824.1 550.6 L825.8 551.5 L827.5 552.4 L829.3 553.2 L831.2 553.9 L833.2 554.3 L835.4 554.6 L837.5 554.9 L839.7 555.1 L841.7 555.3 L843.6 555.5 L845.3 555.7 L847.1 555.9 L848.8 556.2 L850.5 556.5 L852.3 556.9 L854.0 557.4 L855.8 558.0 L857.5 558.6 L859.2 559.1 L860.8 559.7 L862.4 560.5 L864.0 561.2 L865.5 561.6 L867.1 561.7 L868.7 561.3 L870.3 560.6 L871.8 559.6 L873.4 558.5 L874.9 557.4 L876.4 556.1 L877.8 554.5 L879.3 553.0 L880.6 551.5 L881.9 550.4 L883.0 549.6 L884.1 549.1 L885.0 548.7 L886.1 548.6 L887.2 548.6 L888.5 548.8 L889.8 549.1 L891.3 549.6 L892.7 550.3 L894.1 551.3 L895.5 552.7 L896.9 554.6 L898.4 556.6 L899.8 558.5 L901.1 560.0 L902.4 561.1 L903.6 562.1 L904.8 562.8 L906.0 563.3 L907.2 563.5 L908.4 563.4 L909.7 563.1 L910.9 562.5 L912.1 561.7 L913.4 560.9 L914.7 559.8 L916.0 558.5 L917.4 557.0 L918.7 555.7 L920.0 554.7 L921.2 554.0 L922.3 553.4 L923.5 553.1 L924.7 552.8 L926.0 552.8 L927.5 553.0 L929.0 553.4 L930.7 554.0 L932.3 554.6 L934.0 555.0 L935.7 555.4 L937.4 556.0 L939.2 556.4 L940.9 556.6 L942.6 556.3 L944.2 555.5 L945.7 554.1 L947.2 552.6 L948.8 551.0 L950.5 549.8 L952.5 548.8 L954.6 547.9 L956.9 547.2 L959.0 546.6 L961.0 546.3 L962.7 546.2 L964.2 546.3 L965.7 546.6 L967.2 547.2 L968.8 548.0 L970.6 549.4 L972.5 551.3 L974.5 553.4 L976.5 555.1 L978.4 555.9 L980.2 555.7 L981.9 554.9 L983.6 553.6 L985.3 552.1 L987.2 550.7 L989.2 549.2 L991.3 547.4 L993.4 545.7 L995.6 544.2 L997.7 543.3 L999.8 543.1 L1001.9 543.4 L1003.9 544.1 L1006.0 544.9 L1008.1 545.8 L1010.1 546.9 L1012.1 548.4 L1014.1 549.9 L1016.3 551.0 L1018.6 551.5 L1021.2 551.0 L1024.1 549.7 L1027.1 548.1 L1030.0 546.6 L1032.6 545.8 L1035.0 545.6 L1037.1 545.7 L1039.2 546.1 L1041.2 546.8 L1043.1 548.0 L1045.0 549.8 L1046.8 552.2 L1048.5 554.9 L1050.2 557.4 L1051.8 559.4 L1053.3 561.0 L1054.6 562.4 L1056.0 563.5 L1057.3 564.2 L1058.8 564.3 L1060.4 563.6 L1062.1 562.1 L1063.9 560.2 L1065.7 558.4 L1067.6 556.8 L1069.6 555.5 L1071.6 554.3 L1073.8 553.1 L1075.9 552.2 L1078.0 551.5 L1080.1 551.2 L1082.3 551.4 L1084.4 551.6 L1086.5 551.7 L1088.5 551.5 L1090.3 550.8 L1092.1 549.9 L1093.7 548.7 L1095.5 547.5 L1097.3 546.3 L1099.3 545.0 L1101.4 543.4 L1103.6 541.9 L1105.7 540.6 L1107.7 539.8 L1109.5 539.6 L1111.3 539.7 L1113.0 540.2 L1114.7 540.9 L1116.5 541.6 L1118.4 542.7 L1120.3 544.2 L1122.2 545.7 L1124.2 546.8 L1126.1 547.2 L1128.0 546.6 L1129.9 545.4 L1131.7 543.8 L1133.7 541.9 L1135.7 540.2 L1137.9 538.2 L1140.2 535.9 L1142.6 533.6 L1144.9 531.8 L1147.1 531.1 L1149.1 531.6 L1151.1 533.2 L1153.0 535.2 L1154.9 537.4 L1156.7 539.3 L1158.5 541.1 L1160.2 543.0 L1162.0 544.8 L1163.7 546.2 L1165.4 546.8 L1167.2 546.4 L1169.0 545.1 L1170.8 543.4 L1172.5 541.6 L1174.1 540.2 L1175.4 539.0 L1176.6 537.9 L1177.7 536.9 L1178.8 536.1 L1180.0 535.6 L1181.3 535.5 L1182.7 535.7 L1184.1 536.1 L1185.5 536.7 L1187.0 537.4 L1188.5 538.3 L1190.1 539.4 L1191.8 540.6 L1193.4 541.7 L1194.9 542.6 L1196.3 543.3 L1197.7 543.9 L1199.1 544.3 L1200.4 544.5 L1201.8 544.4 L1203.2 543.9 L1204.6 543.1 L1206.0 542.1 L1207.4 541.0 L1208.8 540.0 L1210.2 539.1 L1211.6 538.0 L1213.0 537.1 L1214.4 536.2 L1215.8 535.6 L1217.2 535.2 L1218.6 535.1 L1219.9 535.1 L1221.3 535.1 L1222.8 535.3 L1224.3 535.6 L1225.9 536.0 L1227.6 536.5 L1229.2 537.0 L1230.7 537.4 L1232.2 537.7 L1233.6 538.0 L1235.0 538.3 L1236.4 538.3 L1237.7 538.2 L1239.0 537.8 L1240.2 537.2 L1241.4 536.5 L1242.6 535.6 L1243.8 534.7 L1245.0 533.6 L1246.2 532.3 L1247.4 530.9 L1248.6 529.6 L1249.9 528.6 L1251.2 527.8 L1252.6 527.2 L1254.1 526.8 L1255.5 526.5 L1256.9 526.5 L1258.3 526.8 L1259.7 527.4 L1261.1 528.2 L1262.5 528.9 L1263.9 529.5 L1265.3 529.9 L1266.7 530.2 L1268.1 530.5 L1269.5 530.7 L1270.9 530.7 L1272.3 530.6 L1273.7 530.3 L1275.1 529.9 L1276.5 529.4 L1277.9 529.0 L1279.3 528.5 L1280.7 527.8 L1282.0 527.2 L1283.4 526.7 L1284.8 526.5 L1286.2 526.6 L1287.6 527.0 L1289.0 527.5 L1290.4 528.1 L1291.8 528.6 L1293.2 529.1 L1294.6 529.7 L1296.0 530.3 L1297.4 530.9 L1298.8 531.3 L1300.2 531.6 L1301.6 531.9 L1303.0 532.0 L1304.4 532.0 L1305.8 531.8 L1307.2 531.4 L1308.6 530.9 L1310.0 530.2 L1311.4 529.3 L1312.8 528.3 L1314.2 527.0 L1315.6 525.5 L1317.0 523.8 L1318.4 522.2 L1319.8 520.8 L1321.2 519.6 L1322.6 518.5 L1324.0 517.5 L1325.4 516.6 L1326.8 516.0 L1328.2 515.6 L1329.6 515.3 L1331.0 515.2 L1332.4 515.3 L1333.8 515.5 L1335.2 515.9 L1336.6 516.4 L1338.0 517.1 L1339.4 518.0 L1340.8 519.0 L1342.2 520.4 L1343.6 522.1 L1344.9 523.9 L1346.3 525.6 L1347.7 526.9 L1349.1 527.9 L1350.4 528.6 L1351.8 529.2 L1353.2 529.6 L1354.7 530.0 L1356.3 530.3 L1358.1 530.4 L1359.9 530.4 L1361.7 530.4 L1363.5 530.4 L1365.2 530.4 L1367.0 530.4 L1368.7 530.3 L1370.5 530.2 L1372.2 530.0 L1373.9 529.7 L1375.7 529.4 L1377.4 529.0 L1379.2 528.5 L1380.9 527.8 L1382.7 527.0 L1384.5 526.0 L1386.3 524.9 L1388.1 523.7 L1389.7 522.5 L1391.2 521.2 L1392.6 519.8 L1394.0 518.3 L1395.3 516.9 L1396.7 515.5 L1398.1 514.2 L1399.5 512.8 L1400.9 511.5 L1402.3 510.3 L1403.7 509.4 L1405.0 508.7 L1406.2 508.2 L1407.5 507.9 L1408.9 507.8 L1410.6 507.7 L1412.9 507.8 L1415.6 508.2 L1418.4 508.7 L1420.8 509.1 L1422.5 509.4" fill="none" stroke="#1e90ff" stroke-width="4" stroke-linejoin="round" stroke-linecap="butt"/>
</g>
<path d="M421.4 566.7L439.4 597.9L403.4 597.9Z" fill="none" stroke="#f00" stroke-width="4" stroke-linejoin="miter" shape-rendering="crispEdges"/>
<text x="420.9" y="424.6" font-size="24" font-weight="bold" fill="#f00" text-anchor="middle">-2.8</text>
<path d="M606.7 560.4L624.7 591.6L588.7 591.6Z" fill="none" stroke="#f00" stroke-width="4" stroke-linejoin="miter" shape-rendering="crispEdges"/>
<text x="606.2" y="419.7" font-size="24" font-weight="bold" fill="#f00" text-anchor="middle">-2.7</text>
<path d="M792.0 536.6L810.0 567.8L774.0 567.8Z" fill="none" stroke="#f00" stroke-width="4" stroke-linejoin="miter" shape-rendering="crispEdges"/>
<text x="791.5" y="394.7" font-size="24" font-weight="bold" fill="#f00" text-anchor="middle">-2.0</text>
<path d="M977.3 535.2L995.3 566.4L959.3 566.4Z" fill="none" stroke="#f00" stroke-width="4" stroke-linejoin="miter" shape-rendering="crispEdges"/>
<text x="976.8" y="393.3" font-size="24" font-weight="bold" fill="#f00" text-anchor="middle">-2.0</text>
<path d="M1162.6 524.5L1180.6 555.7L1144.6 555.7Z" fill="none" stroke="#f00" stroke-width="4" stroke-linejoin="miter" shape-rendering="crispEdges"/>
<text x="1162.1" y="381.5" font-size="24" font-weight="bold" fill="#f00" text-anchor="middle">-1.7</text>
<path d="M1347.9 506.6L1365.9 537.8L1329.9 537.8Z" fill="none" stroke="#f00" stroke-width="4" stroke-linejoin="miter" shape-rendering="crispEdges"/>
<text x="1347.4" y="365.8" font-size="24" font-weight="bold" fill="#f00" text-anchor="middle">-1.2</text>
<g clip-path="url(#c2)"><path d="M160 1171l5 5m0-5l-5 5M161 1139l5 5m0-5l-5 5M160 1194l6 6m0-6l-6 6M161 1123l5 5m0-5l-5 5M161 1177l6 6m0-6l-6 6M162 1094l5 5m0-5l-5 5M163 1144l5 5m0-5l-5 5M163 1171l5 5m0-5l-5 5M162 1182l6 6m0-6l-6 6M163 1126l6 6m0-6l-6 6M164 1185l5 5m0-5l-5 5M165 1177l5 5m0-5l-5 5M164 1128l6 6m0-6l-6 6M166 1198l5 5m0-5l-5 5M166 1143l5 5m0-5l-5 5M166 1194l5 5m0-5l-5 5M166 1208l6 6m0-6l-6 6M166 1119l6 6m0-6l-6 6M167 1221l6 6m0-6l-6 6M167 1202l6 6m0-6l-6 6M169 1236l5 5m0-5l-5 5M168 1149l6 6m0-6l-6 6M168 1178l6 6m0-6l-6 6M169 1168l6 6m0-6l-6 6M169 1211l6 6m0-6l-6 6M170 1196l5 5m0-5l-5 5M171 1214l5 5m0-5l-5 5M170 1193l6 6m0-6l-6 6M171 1197l6 6m0-6l-6 6M171 1202l6 6m0-6l-6 6M173 1114l5 5m0-5l-5 5M173 1205l5 5m0-5l-5 5M172 1138l6 6m0-6l-6 6M173 1162l6 6m0-6l-6 6M173 1151l6 6m0-6l-6 6M174 1023l6 6m0-6l-6 6M175 1138l5 5m0-5l-5 5M175 1145l5 5m0-5l-5 5M176 1163l5 5m0-5l-5 5M175 1220l6 6m0-6l-6 6M176 1212l6 6m0-6l-6 6M177 1193l5 5m0-5l-5 5M177 1162l5 5m0-5l-5 5M177 1184l6 6m0-6l-6 6M177 1199l6 6m0-6l-6 6M179 1191l5 5m0-5l-5 5M178 1126l6 6m0-6l-6 6M180 1170l5 5m0-5l-5 5M179 1175l6 6m0-6l-6 6M180 1244l5 5m0-5l-5 5M180 1172l6 6m0-6l-6 6M180 1273l6 6m0-6l-6 6M181 1133l6 6m0-6l-6 6M181 1214l6 6m0-6l-6 6M181 1159l6 6m0-6l-6 6M183 1227l5 5m0-5l-5 5M182 1194l6 6m0-6l-6 6M184 1152l5 5m0-5l-5 5M183 1269l6 6m0-6l-6 6M184 1160l5 5m0-5l-5 5M184 1234l6 6m0-6l-6 6M185 1137l5 5m0-5l-5 5M185 1129l6 6m0-6l-6 6M186 1268l5 5m0-5l-5 5M187 1258l5 5m0-5l-5 5M186 1183l6 6m0-6l-6 6M187 1152l5 5m0-5l-5 5M188 1216l5 5m0-5l-5 5M187 1223l6 6m0-6l-6 6M189 1171l5 5m0-5l-5 5M188 1204l6 6m0-6l-6 6M189 1189l5 5m0-5l-5 5M190 1127l5 5m0-5l-5 5M189 1164l6 6m0-6l-6 6M191 1148l5 5m0-5l-5 5M191 1253l5 5m0-5l-5 5M191 1090l5 5m0-5l-5 5M192 1202l5 5m0-5l-5 5M192 1125l5 5m0-5l-5 5M192 1151l6 6m0-6l-6 6M193 1172l5 5m0-5l-5 5M194 1160l5 5m0-5l-5 5M194 1201l5 5m0-5l-5 5M193 1198l6 6m0-6l-6 6M194 1160l6 6m0-6l-6 6M194 1201l6 6m0-6l-6 6M195 1121l6 6m0-6l-6 6M196 1254l5 5m0-5l-5 5M196 1037l5 5m0-5l-5 5M197 1231l5 5m0-5l-5 5M197 1146l5 5m0-5l-5 5M198 1208l5 5m0-5l-5 5M198 1249l5 5m0-5l-5 5M198 1088l5 5m0-5l-5 5M199 1106l5 5m0-5l-5 5M199 1237l5 5m0-5l-5 5M199 1157l6 6m0-6l-6 6M199 1186l6 6m0-6l-6 6M201 1152l5 5m0-5l-5 5M200 1175l6 6m0-6l-6 6M200 1194l6 6m0-6l-6 6M202 1196l5 5m0-5l-5 5M201 1183l6 6m0-6l-6 6M202 1177l6 6m0-6l-6 6M202 1228l6 6m0-6l-6 6M203 1219l5 5m0-5l-5 5M204 1329l5 5m0-5l-5 5M204 1196l5 5m0-5l-5 5M205 1156l5 5m0-5l-5 5M204 1205l6 6m0-6l-6 6M205 1203l6 6m0-6l-6 6M206 1212l5 5m0-5l-5 5M206 1151l5 5m0-5l-5 5M206 1257l6 6m0-6l-6 6M207 1200l5 5m0-5l-5 5M208 1242l5 5m0-5l-5 5M208 1157l5 5m0-5l-5 5M208 1244l5 5m0-5l-5 5M209 1184l5 5m0-5l-5 5M208 1235l6 6m0-6l-6 6M210 1167l5 5m0-5l-5 5M209 1140l6 6m0-6l-6 6M211 1292l5 5m0-5l-5 5M210 1167l6 6m0-6l-6 6M211 1182l5 5m0-5l-5 5M212 1152l5 5m0-5l-5 5M212 1127l5 5m0-5l-5 5M212 1254l5 5m0-5l-5 5M212 1208l6 6m0-6l-6 6M213 1147l5 5m0-5l-5 5M214 1311l5 5m0-5l-5 5M214 1318l5 5m0-5l-5 5M214 1202l6 6m0-6l-6 6M215 1101l5 5m0-5l-5 5M215 1306l5 5m0-5l-5 5M216 1194l5 5m0-5l-5 5M216 1123l5 5m0-5l-5 5M217 1145l5 5m0-5l-5 5M216 1154l6 6m0-6l-6 6M216 1139l6 6m0-6l-6 6M218 1301l5 5m0-5l-5 5M218 1128l5 5m0-5l-5 5M218 1182l6 6m0-6l-6 6M219 1155l5 5m0-5l-5 5M219 1171l6 6m0-6l-6 6M220 1156l5 5m0-5l-5 5M219 1211l6 6m0-6l-6 6M221 1101l5 5m0-5l-5 5M221 1084l5 5m0-5l-5 5M221 1180l6 6m0-6l-6 6M222 1143l5 5m0-5l-5 5M221 1150l6 6m0-6l-6 6M223 1208l5 5m0-5l-5 5M223 1135l5 5m0-5l-5 5M223 1147l6 6m0-6l-6 6M223 1178l6 6m0-6l-6 6M223 1273l6 6m0-6l-6 6M225 1173l5 5m0-5l-5 5M224 1214l6 6m0-6l-6 6M225 1158l6 6m0-6l-6 6M225 1241l6 6m0-6l-6 6M226 1079l6 6m0-6l-6 6M227 1180l5 5m0-5l-5 5M227 1219l5 5m0-5l-5 5M227 1153l6 6m0-6l-6 6M227 1260l6 6m0-6l-6 6M229 1180l5 5m0-5l-5 5M228 1243l6 6m0-6l-6 6M228 1186l6 6m0-6l-6 6M230 1134l5 5m0-5l-5 5M229 1187l6 6m0-6l-6 6M231 1203l5 5m0-5l-5 5M231 1230l5 5m0-5l-5 5M232 1236l5 5m0-5l-5 5M232 1179l5 5m0-5l-5 5M232 1224l5 5m0-5l-5 5M233 1182l5 5m0-5l-5 5M233 1245l5 5m0-5l-5 5M233 1237l6 6m0-6l-6 6M233 1202l6 6m0-6l-6 6M234 1193l5 5m0-5l-5 5M234 1233l6 6m0-6l-6 6M235 1178l5 5m0-5l-5 5M235 1200l6 6m0-6l-6 6M235 1107l6 6m0-6l-6 6M236 1222l5 5m0-5l-5 5M237 1204l5 5m0-5l-5 5M237 1253l5 5m0-5l-5 5M238 1121l5 5m0-5l-5 5M238 1176l5 5m0-5l-5 5M238 1123l5 5m0-5l-5 5M238 1151l6 6m0-6l-6 6M239 1156l5 5m0-5l-5 5M239 1174l6 6m0-6l-6 6M240 1171l5 5m0-5l-5 5M240 1125l6 6m0-6l-6 6M241 1140l5 5m0-5l-5 5M240 1131l6 6m0-6l-6 6M242 1179l5 5m0-5l-5 5M241 1130l6 6m0-6l-6 6M243 1150l5 5m0-5l-5 5M242 1161l6 6m0-6l-6 6M243 1182l5 5m0-5l-5 5M244 1084l5 5m0-5l-5 5M244 1169l5 5m0-5l-5 5M245 1153l5 5m0-5l-5 5M245 1146l5 5m0-5l-5 5M244 1121l6 6m0-6l-6 6M245 1133l6 6m0-6l-6 6M246 1130l5 5m0-5l-5 5M247 1032l5 5m0-5l-5 5M247 1245l5 5m0-5l-5 5M246 1090l6 6m0-6l-6 6M247 1142l6 6m0-6l-6 6M248 1083l5 5m0-5l-5 5M249 1077l5 5m0-5l-5 5M248 1124l6 6m0-6l-6 6M249 1266l6 6m0-6l-6 6M250 1095l5 5m0-5l-5 5M250 1190l5 5m0-5l-5 5M251 1054l5 5m0-5l-5 5M250 1195l6 6m0-6l-6 6M251 1137l6 6m0-6l-6 6M251 1090l6 6m0-6l-6 6M252 1119l5 5m0-5l-5 5M252 1135l6 6m0-6l-6 6M252 1212l6 6m0-6l-6 6M254 1194l5 5m0-5l-5 5M254 1121l5 5m0-5l-5 5M254 1163l6 6m0-6l-6 6M254 1184l6 6m0-6l-6 6M255 1115l5 5m0-5l-5 5M256 1221l5 5m0-5l-5 5M256 1134l5 5m0-5l-5 5M256 1080l6 6m0-6l-6 6M257 1187l5 5m0-5l-5 5M257 1230l5 5m0-5l-5 5M258 1178l5 5m0-5l-5 5M258 1117l5 5m0-5l-5 5M259 1199l5 5m0-5l-5 5M259 1272l5 5m0-5l-5 5M258 1007l6 6m0-6l-6 6M259 1221l6 6m0-6l-6 6M260 1170l5 5m0-5l-5 5M260 1202l6 6m0-6l-6 6M260 1189l6 6m0-6l-6 6M262 1081l5 5m0-5l-5 5M262 1128l5 5m0-5l-5 5M261 1131l6 6m0-6l-6 6M262 1205l6 6m0-6l-6 6M262 1132l6 6m0-6l-6 6M264 1192l5 5m0-5l-5 5M263 1141l6 6m0-6l-6 6M263 1258l6 6m0-6l-6 6M265 1144l5 5m0-5l-5 5M264 1191l6 6m0-6l-6 6M266 1085l5 5m0-5l-5 5M265 1126l6 6m0-6l-6 6M266 1111l5 5m0-5l-5 5M266 1233l6 6m0-6l-6 6M267 1106l5 5m0-5l-5 5M267 1146l6 6m0-6l-6 6M268 1119l5 5m0-5l-5 5M268 1116l5 5m0-5l-5 5M268 1142l6 6m0-6l-6 6M269 1113l5 5m0-5l-5 5M269 1097l6 6m0-6l-6 6M269 1096l6 6m0-6l-6 6M270 1171l5 5m0-5l-5 5M271 1113l5 5m0-5l-5 5M271 1228l5 5m0-5l-5 5M271 1266l6 6m0-6l-6 6M271 1127l6 6m0-6l-6 6M272 1107l6 6m0-6l-6 6M272 1240l6 6m0-6l-6 6M272 1185l6 6m0-6l-6 6M273 1147l6 6m0-6l-6 6M273 1198l6 6m0-6l-6 6M275 1230l5 5m0-5l-5 5M274 1135l6 6m0-6l-6 6M274 1176l6 6m0-6l-6 6M276 1142l5 5m0-5l-5 5M276 1187l5 5m0-5l-5 5M277 1155l5 5m0-5l-5 5M276 1236l6 6m0-6l-6 6M277 1136l6 6m0-6l-6 6M278 1217l5 5m0-5l-5 5M277 1216l6 6m0-6l-6 6M279 1202l5 5m0-5l-5 5M278 1201l6 6m0-6l-6 6M279 1209l6 6m0-6l-6 6M280 1222l5 5m0-5l-5 5M280 1203l5 5m0-5l-5 5M281 1139l5 5m0-5l-5 5M281 1250l5 5m0-5l-5 5M281 1194l6 6m0-6l-6 6M281 1157l6 6m0-6l-6 6M282 1137l6 6m0-6l-6 6M283 1210l5 5m0-5l-5 5M282 1061l6 6m0-6l-6 6M284 1255l5 5m0-5l-5 5M284 1140l5 5m0-5l-5 5M284 1174l6 6m0-6l-6 6M285 1259l5 5m0-5l-5 5M284 1250l6 6m0-6l-6 6M286 1242l5 5m0-5l-5 5M285 1141l6 6m0-6l-6 6M286 1203l6 6m0-6l-6 6M287 1114l5 5m0-5l-5 5M287 1215l5 5m0-5l-5 5M288 1169l5 5m0-5l-5 5M288 1188l5 5m0-5l-5 5M288 1102l6 6m0-6l-6 6M289 1181l5 5m0-5l-5 5M288 1146l6 6m0-6l-6 6M289 1204l6 6m0-6l-6 6M289 1155l6 6m0-6l-6 6M291 1185l5 5m0-5l-5 5M291 1240l5 5m0-5l-5 5M291 1188l6 6m0-6l-6 6M292 1127l5 5m0-5l-5 5M292 1288l5 5m0-5l-5 5M293 1204l5 5m0-5l-5 5M292 1151l6 6m0-6l-6 6M293 1291l6 6m0-6l-6 6M293 1208l6 6m0-6l-6 6M293 1183l6 6m0-6l-6 6M295 1285l5 5m0-5l-5 5M295 1202l5 5m0-5l-5 5M295 1232l6 6m0-6l-6 6M295 1249l6 6m0-6l-6 6M296 1192l5 5m0-5l-5 5M296 1196l6 6m0-6l-6 6M296 1217l6 6m0-6l-6 6M297 1255l6 6m0-6l-6 6M297 1182l6 6m0-6l-6 6M299 1100l5 5m0-5l-5 5M299 1199l5 5m0-5l-5 5M299 1174l5 5m0-5l-5 5M300 1172l5 5m0-5l-5 5M299 1157l6 6m0-6l-6 6M301 1151l5 5m0-5l-5 5M301 1202l5 5m0-5l-5 5M301 1176l6 6m0-6l-6 6M302 1081l5 5m0-5l-5 5M301 1102l6 6m0-6l-6 6M302 1312l6 6m0-6l-6 6M302 1207l6 6m0-6l-6 6M304 1197l5 5m0-5l-5 5M303 1216l6 6m0-6l-6 6M303 1239l6 6m0-6l-6 6M304 1219l6 6m0-6l-6 6M305 1192l5 5m0-5l-5 5M306 1190l5 5m0-5l-5 5M305 1185l6 6m0-6l-6 6M306 1240l5 5m0-5l-5 5M307 1174l5 5m0-5l-5 5M306 1163l6 6m0-6l-6 6M307 1147l6 6m0-6l-6 6M308 1130l5 5m0-5l-5 5M308 1252l6 6m0-6l-6 6M308 1229l6 6m0-6l-6 6M309 1154l5 5m0-5l-5 5M309 1168l6 6m0-6l-6 6M309 1187l6 6m0-6l-6 6M310 1156l5 5m0-5l-5 5M311 1202l5 5m0-5l-5 5M310 1129l6 6m0-6l-6 6M311 1187l6 6m0-6l-6 6M312 1128l5 5m0-5l-5 5M312 1140l6 6m0-6l-6 6M312 1185l6 6m0-6l-6 6M313 1222l5 5m0-5l-5 5M313 1098l6 6m0-6l-6 6M314 1039l5 5m0-5l-5 5M315 1137l5 5m0-5l-5 5M314 1174l6 6m0-6l-6 6M315 1169l5 5m0-5l-5 5M316 1151l5 5m0-5l-5 5M315 1166l6 6m0-6l-6 6M317 1188l5 5m0-5l-5 5M317 1119l5 5m0-5l-5 5M318 1271l5 5m0-5l-5 5M318 1208l5 5m0-5l-5 5M317 1181l6 6m0-6l-6 6M319 1195l5 5m0-5l-5 5M319 1192l5 5m0-5l-5 5M320 1236l5 5m0-5l-5 5M320 1121l5 5m0-5l-5 5M319 1162l6 6m0-6l-6 6M320 1184l6 6m0-6l-6 6M320 1141l6 6m0-6l-6 6M321 1151l6 6m0-6l-6 6M321 1188l6 6m0-6l-6 6M322 1137l5 5m0-5l-5 5M323 1133l5 5m0-5l-5 5M323 1174l5 5m0-5l-5 5M324 1224l5 5m0-5l-5 5M323 1143l6 6m0-6l-6 6M325 1167l5 5m0-5l-5 5M325 1192l5 5m0-5l-5 5M324 1149l6 6m0-6l-6 6M325 1183l6 6m0-6l-6 6M326 1186l5 5m0-5l-5 5M327 1236l5 5m0-5l-5 5M326 1235l6 6m0-6l-6 6M327 1220l5 5m0-5l-5 5M328 1228l5 5m0-5l-5 5M328 1157l5 5m0-5l-5 5M329 1163l5 5m0-5l-5 5M329 1258l5 5m0-5l-5 5M329 1143l5 5m0-5l-5 5M330 1145l5 5m0-5l-5 5M329 1202l6 6m0-6l-6 6M331 1226l5 5m0-5l-5 5M331 1273l5 5m0-5l-5 5M331 1193l6 6m0-6l-6 6M331 1222l6 6m0-6l-6 6M332 1177l5 5m0-5l-5 5M333 1169l5 5m0-5l-5 5M332 1202l6 6m0-6l-6 6M333 1127l5 5m0-5l-5 5M333 1147l6 6m0-6l-6 6M333 1172l6 6m0-6l-6 6M335 1166l5 5m0-5l-5 5M334 1171l6 6m0-6l-6 6M336 1255l5 5m0-5l-5 5M335 1198l6 6m0-6l-6 6M335 1149l6 6m0-6l-6 6M336 1133l6 6m0-6l-6 6M337 1172l5 5m0-5l-5 5M338 1178l5 5m0-5l-5 5M338 1237l5 5m0-5l-5 5M338 1179l6 6m0-6l-6 6M339 1212l5 5m0-5l-5 5M339 1161l5 5m0-5l-5 5M339 1147l6 6m0-6l-6 6M339 1172l6 6m0-6l-6 6M341 1176l5 5m0-5l-5 5M340 1169l6 6m0-6l-6 6M340 1238l6 6m0-6l-6 6M342 1124l5 5m0-5l-5 5M341 1165l6 6m0-6l-6 6M342 1125l6 6m0-6l-6 6M342 1314l6 6m0-6l-6 6M344 1226l5 5m0-5l-5 5M344 1215l5 5m0-5l-5 5M343 1296l6 6m0-6l-6 6M345 1280l5 5m0-5l-5 5M345 1267l5 5m0-5l-5 5M345 1242l5 5m0-5l-5 5M346 1198l5 5m0-5l-5 5M346 1261l5 5m0-5l-5 5M346 1197l6 6m0-6l-6 6M347 1244l5 5m0-5l-5 5M347 1115l5 5m0-5l-5 5M347 1043l6 6m0-6l-6 6M348 1222l5 5m0-5l-5 5M348 1148l6 6m0-6l-6 6M348 1265l6 6m0-6l-6 6M349 1253l6 6m0-6l-6 6M350 1188l5 5m0-5l-5 5M350 1067l5 5m0-5l-5 5M351 1171l5 5m0-5l-5 5M351 1156l5 5m0-5l-5 5M352 1204l5 5m0-5l-5 5M352 1209l5 5m0-5l-5 5M352 1197l6 6m0-6l-6 6M352 1076l6 6m0-6l-6 6M353 1227l5 5m0-5l-5 5M354 1151l5 5m0-5l-5 5M353 1130l6 6m0-6l-6 6M355 1142l5 5m0-5l-5 5M355 1113l5 5m0-5l-5 5M355 1130l5 5m0-5l-5 5M355 1002l6 6m0-6l-6 6M356 1185l5 5m0-5l-5 5M356 1211l6 6m0-6l-6 6M357 1160l5 5m0-5l-5 5M356 1217l6 6m0-6l-6 6M357 1243l6 6m0-6l-6 6M357 1206l6 6m0-6l-6 6M359 1174l5 5m0-5l-5 5M359 1179l5 5m0-5l-5 5M360 1167l5 5m0-5l-5 5M359 1160l6 6m0-6l-6 6M360 1113l5 5m0-5l-5 5M360 1253l6 6m0-6l-6 6M360 1140l6 6m0-6l-6 6M361 1124l6 6m0-6l-6 6M362 1217l5 5m0-5l-5 5M361 1184l6 6m0-6l-6 6M363 1210l5 5m0-5l-5 5M362 1133l6 6m0-6l-6 6M364 1183l5 5m0-5l-5 5M363 1116l6 6m0-6l-6 6M365 1166l5 5m0-5l-5 5M364 1219l6 6m0-6l-6 6M365 1172l5 5m0-5l-5 5M366 1252l5 5m0-5l-5 5M366 1235l5 5m0-5l-5 5M366 1164l5 5m0-5l-5 5M366 1164l6 6m0-6l-6 6M366 1157l6 6m0-6l-6 6M367 1153l6 6m0-6l-6 6M368 1190l5 5m0-5l-5 5M368 1200l6 6m0-6l-6 6M368 1171l6 6m0-6l-6 6M369 1136l5 5m0-5l-5 5M369 1198l6 6m0-6l-6 6M369 1207l6 6m0-6l-6 6M370 1157l6 6m0-6l-6 6M370 1100l6 6m0-6l-6 6M370 1167l6 6m0-6l-6 6M372 1229l5 5m0-5l-5 5M371 1126l6 6m0-6l-6 6M373 1250l5 5m0-5l-5 5M373 1215l5 5m0-5l-5 5M373 1172l5 5m0-5l-5 5M373 1052l6 6m0-6l-6 6M374 1165l5 5m0-5l-5 5M374 1193l6 6m0-6l-6 6M374 1194l6 6m0-6l-6 6M375 1198l6 6m0-6l-6 6M375 1283l6 6m0-6l-6 6M375 1148l6 6m0-6l-6 6M376 1190l6 6m0-6l-6 6M376 1167l6 6m0-6l-6 6M378 1187l5 5m0-5l-5 5M377 1174l6 6m0-6l-6 6M378 1233l5 5m0-5l-5 5M378 1207l6 6m0-6l-6 6M379 1268l5 5m0-5l-5 5M380 1038l5 5m0-5l-5 5M380 1215l5 5m0-5l-5 5M380 1163l6 6m0-6l-6 6M380 1206l6 6m0-6l-6 6M381 1167l5 5m0-5l-5 5M382 1221l5 5m0-5l-5 5M381 1102l6 6m0-6l-6 6M382 1140l6 6m0-6l-6 6M382 1155l6 6m0-6l-6 6M383 1256l5 5m0-5l-5 5M384 1240l5 5m0-5l-5 5M384 1187l5 5m0-5l-5 5M385 1195l5 5m0-5l-5 5M384 1188l6 6m0-6l-6 6M385 1235l5 5m0-5l-5 5M385 1211l6 6m0-6l-6 6M385 1208l6 6m0-6l-6 6M386 1232l6 6m0-6l-6 6M386 1255l6 6m0-6l-6 6M387 1125l6 6m0-6l-6 6M387 1150l6 6m0-6l-6 6M387 1141l6 6m0-6l-6 6M389 1109l5 5m0-5l-5 5M389 1156l5 5m0-5l-5 5M390 1126l5 5m0-5l-5 5M390 1211l5 5m0-5l-5 5M390 1212l5 5m0-5l-5 5M391 1252l5 5m0-5l-5 5M390 1113l6 6m0-6l-6 6M392 1195l5 5m0-5l-5 5M391 1166l6 6m0-6l-6 6M392 1136l6 6m0-6l-6 6M392 1241l6 6m0-6l-6 6M392 1096l6 6m0-6l-6 6M394 1096l5 5m0-5l-5 5M393 1307l6 6m0-6l-6 6M393 1132l6 6m0-6l-6 6M394 1174l6 6m0-6l-6 6M394 1083l6 6m0-6l-6 6M396 1253l5 5m0-5l-5 5M396 1238l5 5m0-5l-5 5M397 1144l5 5m0-5l-5 5M396 1147l6 6m0-6l-6 6M396 1242l6 6m0-6l-6 6M397 1110l6 6m0-6l-6 6M397 1253l6 6m0-6l-6 6M398 1141l6 6m0-6l-6 6M398 1178l6 6m0-6l-6 6M399 1206l6 6m0-6l-6 6M399 1111l6 6m0-6l-6 6M400 1194l5 5m0-5l-5 5M400 1328l6 6m0-6l-6 6M400 1255l6 6m0-6l-6 6M400 1132l6 6m0-6l-6 6M402 1184l5 5m0-5l-5 5M402 1129l5 5m0-5l-5 5M403 1179l5 5m0-5l-5 5M402 1180l6 6m0-6l-6 6M403 1202l6 6m0-6l-6 6M403 1187l6 6m0-6l-6 6M404 1176l5 5m0-5l-5 5M404 1100l6 6m0-6l-6 6M404 1151l6 6m0-6l-6 6M406 1117l5 5m0-5l-5 5M406 1182l5 5m0-5l-5 5M406 1185l5 5m0-5l-5 5M406 1233l6 6m0-6l-6 6M406 1092l6 6m0-6l-6 6M407 1154l6 6m0-6l-6 6M408 1059l5 5m0-5l-5 5M407 1126l6 6m0-6l-6 6M408 1200l6 6m0-6l-6 6M409 1209l5 5m0-5l-5 5M410 1195l5 5m0-5l-5 5M409 1200l6 6m0-6l-6 6M410 1126l6 6m0-6l-6 6M410 1087l6 6m0-6l-6 6M411 1220l5 5m0-5l-5 5M411 1110l6 6m0-6l-6 6M412 1155l5 5m0-5l-5 5M412 1173l6 6m0-6l-6 6M413 1196l5 5m0-5l-5 5M412 1181l6 6m0-6l-6 6M414 1313l5 5m0-5l-5 5M414 1178l5 5m0-5l-5 5M415 1194l5 5m0-5l-5 5M415 1169l5 5m0-5l-5 5M415 1246l5 5m0-5l-5 5M416 1146l5 5m0-5l-5 5M416 1239l5 5m0-5l-5 5M417 1141l5 5m0-5l-5 5M417 1164l5 5m0-5l-5 5M418 1254l5 5m0-5l-5 5M417 1265l6 6m0-6l-6 6M417 1252l6 6m0-6l-6 6M419 1318l5 5m0-5l-5 5M419 1213l5 5m0-5l-5 5M420 1153l5 5m0-5l-5 5M419 1126l6 6m0-6l-6 6M420 1277l5 5m0-5l-5 5M421 1255l5 5m0-5l-5 5M420 1230l6 6m0-6l-6 6M421 1040l6 6m0-6l-6 6M422 1295l5 5m0-5l-5 5M422 1209l6 6m0-6l-6 6M423 1170l5 5m0-5l-5 5M423 1257l5 5m0-5l-5 5M424 1217l5 5m0-5l-5 5M423 1136l6 6m0-6l-6 6M424 1188l6 6m0-6l-6 6M424 1079l6 6m0-6l-6 6M425 1136l5 5m0-5l-5 5M425 1062l6 6m0-6l-6 6M425 1089l6 6m0-6l-6 6M427 1199l5 5m0-5l-5 5M426 1184l6 6m0-6l-6 6M426 1159l6 6m0-6l-6 6M428 1203l5 5m0-5l-5 5M428 1160l5 5m0-5l-5 5M428 1064l6 6m0-6l-6 6M429 1219l5 5m0-5l-5 5M429 1161l6 6m0-6l-6 6M429 1110l6 6m0-6l-6 6M429 1247l6 6m0-6l-6 6M430 1173l6 6m0-6l-6 6M431 1174l5 5m0-5l-5 5M432 1190l5 5m0-5l-5 5M431 1185l6 6m0-6l-6 6M432 1224l5 5m0-5l-5 5M433 1188l5 5m0-5l-5 5M432 1171l6 6m0-6l-6 6M433 1243l6 6m0-6l-6 6M434 1214l5 5m0-5l-5 5M434 1228l6 6m0-6l-6 6M434 1127l6 6m0-6l-6 6M434 1206l6 6m0-6l-6 6M436 1130l5 5m0-5l-5 5M436 1111l5 5m0-5l-5 5M436 1104l5 5m0-5l-5 5M436 1222l6 6m0-6l-6 6M436 1163l6 6m0-6l-6 6M438 1193l5 5m0-5l-5 5M437 1162l6 6m0-6l-6 6M439 1110l5 5m0-5l-5 5M439 1157l5 5m0-5l-5 5M438 1222l6 6m0-6l-6 6M440 1260l5 5m0-5l-5 5M439 1227l6 6m0-6l-6 6M441 1131l5 5m0-5l-5 5M440 1212l6 6m0-6l-6 6M440 1169l6 6m0-6l-6 6M442 1127l5 5m0-5l-5 5M441 1204l6 6m0-6l-6 6M443 1110l5 5m0-5l-5 5M443 1235l5 5m0-5l-5 5M442 1170l6 6m0-6l-6 6M443 1138l6 6m0-6l-6 6M443 1265l6 6m0-6l-6 6M444 1177l6 6m0-6l-6 6M445 1206l5 5m0-5l-5 5M445 1242l6 6m0-6l-6 6M445 1127l6 6m0-6l-6 6M445 1232l6 6m0-6l-6 6M446 1120l6 6m0-6l-6 6M447 1191l5 5m0-5l-5 5M447 1089l6 6m0-6l-6 6M447 1124l6 6m0-6l-6 6M447 1145l6 6m0-6l-6 6M448 1167l6 6m0-6l-6 6M449 1068l5 5m0-5l-5 5M449 1136l6 6m0-6l-6 6M450 1229l5 5m0-5l-5 5M450 1193l6 6m0-6l-6 6M451 1114l5 5m0-5l-5 5M451 1165l5 5m0-5l-5 5M452 1061l5 5m0-5l-5 5M452 1074l5 5m0-5l-5 5M453 1238l5 5m0-5l-5 5M452 1115l6 6m0-6l-6 6M453 1238l5 5m0-5l-5 5M453 1174l6 6m0-6l-6 6M453 1221l6 6m0-6l-6 6M455 1127l5 5m0-5l-5 5M454 1210l6 6m0-6l-6 6M455 1201l5 5m0-5l-5 5M455 1213l6 6m0-6l-6 6M455 1226l6 6m0-6l-6 6M457 1162l5 5m0-5l-5 5M457 1157l5 5m0-5l-5 5M458 1257l5 5m0-5l-5 5M458 1152l5 5m0-5l-5 5M457 1103l6 6m0-6l-6 6M458 1279l6 6m0-6l-6 6M459 1178l5 5m0-5l-5 5M460 1222l5 5m0-5l-5 5M460 1103l5 5m0-5l-5 5M459 1230l6 6m0-6l-6 6M461 1176l5 5m0-5l-5 5M460 1241l6 6m0-6l-6 6M462 1199l5 5m0-5l-5 5M461 1104l6 6m0-6l-6 6M462 1170l6 6m0-6l-6 6M463 1209l5 5m0-5l-5 5M462 1158l6 6m0-6l-6 6M463 1188l6 6m0-6l-6 6M463 1183l6 6m0-6l-6 6M464 1195l6 6m0-6l-6 6M465 1194l5 5m0-5l-5 5M464 1173l6 6m0-6l-6 6M465 1215l6 6m0-6l-6 6M465 1120l6 6m0-6l-6 6M466 1140l6 6m0-6l-6 6M466 1081l6 6m0-6l-6 6M466 1166l6 6m0-6l-6 6M468 1120l5 5m0-5l-5 5M468 1137l5 5m0-5l-5 5M469 1267l5 5m0-5l-5 5M468 1222l6 6m0-6l-6 6M468 1205l6 6m0-6l-6 6M469 1203l6 6m0-6l-6 6M470 1194l5 5m0-5l-5 5M471 1154l5 5m0-5l-5 5M470 1153l6 6m0-6l-6 6M470 1232l6 6m0-6l-6 6M471 1148l6 6m0-6l-6 6M471 1077l6 6m0-6l-6 6M473 1241l5 5m0-5l-5 5M472 1136l6 6m0-6l-6 6M474 1254l5 5m0-5l-5 5M474 1219l5 5m0-5l-5 5M473 1158l6 6m0-6l-6 6M475 1180l5 5m0-5l-5 5M474 1239l6 6m0-6l-6 6M476 1169l5 5m0-5l-5 5M475 1242l6 6m0-6l-6 6M475 1259l6 6m0-6l-6 6M477 1271l5 5m0-5l-5 5M476 1266l6 6m0-6l-6 6M477 1236l6 6m0-6l-6 6M478 1183l5 5m0-5l-5 5M477 1092l6 6m0-6l-6 6M479 1152l5 5m0-5l-5 5M479 1225l5 5m0-5l-5 5M480 1129l5 5m0-5l-5 5M480 1136l5 5m0-5l-5 5M480 1187l5 5m0-5l-5 5M480 1123l6 6m0-6l-6 6M480 1228l6 6m0-6l-6 6M481 1210l6 6m0-6l-6 6M481 1219l6 6m0-6l-6 6M483 1175l5 5m0-5l-5 5M483 1106l5 5m0-5l-5 5M483 1091l5 5m0-5l-5 5M484 1179l5 5m0-5l-5 5M483 1206l6 6m0-6l-6 6M485 1140l5 5m0-5l-5 5M485 1227l5 5m0-5l-5 5M486 1115l5 5m0-5l-5 5M486 1266l5 5m0-5l-5 5M486 1143l5 5m0-5l-5 5M486 1161l6 6m0-6l-6 6M487 1168l5 5m0-5l-5 5M487 1101l5 5m0-5l-5 5M487 1221l6 6m0-6l-6 6M488 1156l5 5m0-5l-5 5M488 1212l6 6m0-6l-6 6M488 1189l6 6m0-6l-6 6M489 1193l6 6m0-6l-6 6M490 1228l5 5m0-5l-5 5M489 1171l6 6m0-6l-6 6M491 1141l5 5m0-5l-5 5M491 1188l5 5m0-5l-5 5M492 1138l5 5m0-5l-5 5M491 1079l6 6m0-6l-6 6M491 1236l6 6m0-6l-6 6M492 1128l6 6m0-6l-6 6M492 1087l6 6m0-6l-6 6M493 1159l6 6m0-6l-6 6M493 1210l6 6m0-6l-6 6M493 1185l6 6m0-6l-6 6M495 1167l5 5m0-5l-5 5M494 1246l6 6m0-6l-6 6M496 1176l5 5m0-5l-5 5M495 1209l6 6m0-6l-6 6M497 1313l5 5m0-5l-5 5M496 1290l6 6m0-6l-6 6M496 1253l6 6m0-6l-6 6M497 1219l6 6m0-6l-6 6M497 1198l6 6m0-6l-6 6M499 1200l5 5m0-5l-5 5M498 1147l6 6m0-6l-6 6M499 1234l5 5m0-5l-5 5M499 1186l6 6m0-6l-6 6M499 1205l6 6m0-6l-6 6M501 1157l5 5m0-5l-5 5M501 1152l5 5m0-5l-5 5M500 1165l6 6m0-6l-6 6M502 1085l5 5m0-5l-5 5M501 1168l6 6m0-6l-6 6M502 1206l6 6m0-6l-6 6M502 1175l6 6m0-6l-6 6M504 1119l5 5m0-5l-5 5M503 1118l6 6m0-6l-6 6M503 1145l6 6m0-6l-6 6M505 1161l5 5m0-5l-5 5M505 1174l5 5m0-5l-5 5M505 1172l6 6m0-6l-6 6M506 1135l5 5m0-5l-5 5M506 1241l6 6m0-6l-6 6M506 1194l6 6m0-6l-6 6M507 1173l5 5m0-5l-5 5M507 1127l6 6m0-6l-6 6M507 1204l6 6m0-6l-6 6M507 1209l6 6m0-6l-6 6M509 1171l5 5m0-5l-5 5M508 1196l6 6m0-6l-6 6M509 1156l6 6m0-6l-6 6M510 1151l5 5m0-5l-5 5M511 1191l5 5m0-5l-5 5M510 1100l6 6m0-6l-6 6M511 1157l5 5m0-5l-5 5M512 1139l5 5m0-5l-5 5M511 1166l6 6m0-6l-6 6M513 1122l5 5m0-5l-5 5M512 1243l6 6m0-6l-6 6M514 1187l5 5m0-5l-5 5M513 1102l6 6m0-6l-6 6M513 1161l6 6m0-6l-6 6M515 1197l5 5m0-5l-5 5M515 1190l5 5m0-5l-5 5M516 1124l5 5m0-5l-5 5M515 1165l6 6m0-6l-6 6M516 1206l5 5m0-5l-5 5M517 1288l5 5m0-5l-5 5M516 1179l6 6m0-6l-6 6M517 1133l6 6m0-6l-6 6M517 1184l6 6m0-6l-6 6M517 1101l6 6m0-6l-6 6M519 1125l5 5m0-5l-5 5M519 1206l5 5m0-5l-5 5M520 1140l5 5m0-5l-5 5M520 1163l5 5m0-5l-5 5M520 1206l5 5m0-5l-5 5M521 1164l5 5m0-5l-5 5M520 1173l6 6m0-6l-6 6M521 1193l6 6m0-6l-6 6M522 1156l5 5m0-5l-5 5M522 1128l6 6m0-6l-6 6M522 1197l6 6m0-6l-6 6M523 1156l5 5m0-5l-5 5M523 1184l6 6m0-6l-6 6M523 1281l6 6m0-6l-6 6M525 1297l5 5m0-5l-5 5M525 1230l5 5m0-5l-5 5M525 1188l6 6m0-6l-6 6M526 1127l5 5m0-5l-5 5M525 1070l6 6m0-6l-6 6M527 1160l5 5m0-5l-5 5M526 1157l6 6m0-6l-6 6M528 1175l5 5m0-5l-5 5M528 1222l5 5m0-5l-5 5M527 1149l6 6m0-6l-6 6M529 1165l5 5m0-5l-5 5M528 1164l6 6m0-6l-6 6M529 1106l6 6m0-6l-6 6M529 1131l6 6m0-6l-6 6M529 1184l6 6m0-6l-6 6M531 1178l5 5m0-5l-5 5M530 1239l6 6m0-6l-6 6M532 1127l5 5m0-5l-5 5M532 1220l5 5m0-5l-5 5M533 1164l5 5m0-5l-5 5M532 1215l6 6m0-6l-6 6M532 1122l6 6m0-6l-6 6M533 1224l6 6m0-6l-6 6M534 1151l5 5m0-5l-5 5M535 1143l5 5m0-5l-5 5M535 1040l5 5m0-5l-5 5M535 1161l5 5m0-5l-5 5M536 1127l5 5m0-5l-5 5M536 1124l5 5m0-5l-5 5M537 1100l5 5m0-5l-5 5M537 1113l5 5m0-5l-5 5M537 1182l5 5m0-5l-5 5M537 1168l6 6m0-6l-6 6M537 1183l6 6m0-6l-6 6M538 1223l6 6m0-6l-6 6M538 1166l6 6m0-6l-6 6M538 1173l6 6m0-6l-6 6M540 1255l5 5m0-5l-5 5M539 1230l6 6m0-6l-6 6M540 1206l6 6m0-6l-6 6M541 1193l5 5m0-5l-5 5M541 1152l5 5m0-5l-5 5M541 1158l6 6m0-6l-6 6M541 1185l6 6m0-6l-6 6M542 1129l6 6m0-6l-6 6M542 1212l6 6m0-6l-6 6M543 1165l5 5m0-5l-5 5M544 1131l5 5m0-5l-5 5M544 1212l5 5m0-5l-5 5M544 1212l6 6m0-6l-6 6M545 1175l5 5m0-5l-5 5M545 1147l6 6m0-6l-6 6M546 1176l5 5m0-5l-5 5M545 1253l6 6m0-6l-6 6M547 1175l5 5m0-5l-5 5M546 1234l6 6m0-6l-6 6M548 1124l5 5m0-5l-5 5M548 1233l5 5m0-5l-5 5M549 1251l5 5m0-5l-5 5M549 1102l5 5m0-5l-5 5M548 1137l6 6m0-6l-6 6M550 1147l5 5m0-5l-5 5M549 1206l6 6m0-6l-6 6M551 1190l5 5m0-5l-5 5M550 1199l6 6m0-6l-6 6M550 1184l6 6m0-6l-6 6M552 1192l5 5m0-5l-5 5M552 1237l5 5m0-5l-5 5M553 1167l5 5m0-5l-5 5M552 1190l6 6m0-6l-6 6M552 1163l6 6m0-6l-6 6M553 1155l6 6m0-6l-6 6M553 1064l6 6m0-6l-6 6M554 1172l6 6m0-6l-6 6M555 1163l5 5m0-5l-5 5M555 1214l5 5m0-5l-5 5M555 1134l6 6m0-6l-6 6M555 1185l6 6m0-6l-6 6M557 1115l5 5m0-5l-5 5M557 1238l5 5m0-5l-5 5M558 1250l5 5m0-5l-5 5M558 1161l5 5m0-5l-5 5M557 1114l6 6m0-6l-6 6M559 1230l5 5m0-5l-5 5M558 1161l6 6m0-6l-6 6M559 1167l6 6m0-6l-6 6M560 1218l5 5m0-5l-5 5M559 1139l6 6m0-6l-6 6M561 1133l5 5m0-5l-5 5M560 1134l6 6m0-6l-6 6M562 1176l5 5m0-5l-5 5M562 1223l5 5m0-5l-5 5M563 1169l5 5m0-5l-5 5M563 1212l5 5m0-5l-5 5M563 1229l5 5m0-5l-5 5M564 1177l5 5m0-5l-5 5M563 1096l6 6m0-6l-6 6M564 1200l6 6m0-6l-6 6M565 1107l5 5m0-5l-5 5M565 1180l5 5m0-5l-5 5M565 1168l6 6m0-6l-6 6M566 1173l5 5m0-5l-5 5M566 1121l6 6m0-6l-6 6M567 1214l5 5m0-5l-5 5M567 1231l5 5m0-5l-5 5M568 1117l5 5m0-5l-5 5M568 1142l5 5m0-5l-5 5M569 1204l5 5m0-5l-5 5M569 1119l5 5m0-5l-5 5M568 1298l6 6m0-6l-6 6M570 1178l5 5m0-5l-5 5M569 1147l6 6m0-6l-6 6M570 1197l6 6m0-6l-6 6M570 1176l6 6m0-6l-6 6M570 1303l6 6m0-6l-6 6M571 1207l6 6m0-6l-6 6M572 1224l5 5m0-5l-5 5M573 1182l5 5m0-5l-5 5M573 1169l5 5m0-5l-5 5M574 1199l5 5m0-5l-5 5M574 1196l5 5m0-5l-5 5M574 1343l5 5m0-5l-5 5M574 1207l6 6m0-6l-6 6M575 1106l5 5m0-5l-5 5M575 1128l6 6m0-6l-6 6M575 1171l6 6m0-6l-6 6M577 1277l5 5m0-5l-5 5M576 1104l6 6m0-6l-6 6M576 1211l6 6m0-6l-6 6M577 1179l6 6m0-6l-6 6M577 1130l6 6m0-6l-6 6M578 1192l6 6m0-6l-6 6M579 1131l5 5m0-5l-5 5M579 1174l5 5m0-5l-5 5M580 1152l5 5m0-5l-5 5M580 1227l5 5m0-5l-5 5M581 1209l5 5m0-5l-5 5M581 1220l5 5m0-5l-5 5M581 1137l5 5m0-5l-5 5M582 1165l5 5m0-5l-5 5M582 1152l5 5m0-5l-5 5M582 1120l6 6m0-6l-6 6M583 1143l5 5m0-5l-5 5M583 1142l5 5m0-5l-5 5M583 1192l6 6m0-6l-6 6M583 1193l6 6m0-6l-6 6M585 1083l5 5m0-5l-5 5M584 1272l6 6m0-6l-6 6M584 1171l6 6m0-6l-6 6M585 1169l6 6m0-6l-6 6M586 1238l5 5m0-5l-5 5M586 1156l6 6m0-6l-6 6M587 1143l5 5m0-5l-5 5M587 1171l6 6m0-6l-6 6M587 1210l6 6m0-6l-6 6M588 1231l5 5m0-5l-5 5M588 1189l6 6m0-6l-6 6M589 1124l5 5m0-5l-5 5M589 1178l6 6m0-6l-6 6M590 1171l5 5m0-5l-5 5M591 1167l5 5m0-5l-5 5M591 1200l5 5m0-5l-5 5M590 1235l6 6m0-6l-6 6M592 1191l5 5m0-5l-5 5M592 1228l5 5m0-5l-5 5M591 1141l6 6m0-6l-6 6M592 1163l6 6m0-6l-6 6M592 1254l6 6m0-6l-6 6M593 1152l6 6m0-6l-6 6M593 1257l6 6m0-6l-6 6M595 1173l5 5m0-5l-5 5M594 1334l6 6m0-6l-6 6M595 1181l5 5m0-5l-5 5M595 1179l6 6m0-6l-6 6M596 1204l5 5m0-5l-5 5M597 1082l5 5m0-5l-5 5M597 1117l5 5m0-5l-5 5M597 1172l5 5m0-5l-5 5M597 1092l6 6m0-6l-6 6M598 1191l5 5m0-5l-5 5M598 1171l6 6m0-6l-6 6M598 1176l6 6m0-6l-6 6M600 1160l5 5m0-5l-5 5M599 1161l6 6m0-6l-6 6M599 1158l6 6m0-6l-6 6M600 1096l6 6m0-6l-6 6M600 1171l6 6m0-6l-6 6M601 1263l6 6m0-6l-6 6M602 1232l5 5m0-5l-5 5M602 1186l6 6m0-6l-6 6M603 1167l5 5m0-5l-5 5M602 1146l6 6m0-6l-6 6M604 1246l5 5m0-5l-5 5M603 1137l6 6m0-6l-6 6M604 1175l6 6m0-6l-6 6M605 1156l5 5m0-5l-5 5M604 1211l6 6m0-6l-6 6M605 1203l6 6m0-6l-6 6M606 1096l5 5m0-5l-5 5M607 1204l5 5m0-5l-5 5M606 1143l6 6m0-6l-6 6M607 1154l5 5m0-5l-5 5M607 1232l6 6m0-6l-6 6M607 1193l6 6m0-6l-6 6M609 1073l5 5m0-5l-5 5M608 1152l6 6m0-6l-6 6M610 1184l5 5m0-5l-5 5M610 1091l5 5m0-5l-5 5M610 1212l5 5m0-5l-5 5M610 1144l6 6m0-6l-6 6M611 1145l5 5m0-5l-5 5M612 1191l5 5m0-5l-5 5M611 1144l6 6m0-6l-6 6M611 1171l6 6m0-6l-6 6M612 1185l6 6m0-6l-6 6M612 1256l6 6m0-6l-6 6M614 1170l5 5m0-5l-5 5M614 1219l5 5m0-5l-5 5M614 1178l5 5m0-5l-5 5M615 1294l5 5m0-5l-5 5M615 1095l5 5m0-5l-5 5M615 1191l6 6m0-6l-6 6M615 1100l6 6m0-6l-6 6M616 1174l6 6m0-6l-6 6M617 1145l5 5m0-5l-5 5M617 1192l5 5m0-5l-5 5M618 1278l5 5m0-5l-5 5M617 1119l6 6m0-6l-6 6M618 1164l5 5m0-5l-5 5M619 1210l5 5m0-5l-5 5M619 1335l5 5m0-5l-5 5M620 1139l5 5m0-5l-5 5M619 1228l6 6m0-6l-6 6M620 1175l5 5m0-5l-5 5M621 1165l5 5m0-5l-5 5M621 1192l5 5m0-5l-5 5M621 1200l6 6m0-6l-6 6M621 1183l6 6m0-6l-6 6M623 1121l5 5m0-5l-5 5M622 1168l6 6m0-6l-6 6M622 1199l6 6m0-6l-6 6M623 1157l6 6m0-6l-6 6M624 1164l5 5m0-5l-5 5M625 1172l5 5m0-5l-5 5M624 1045l6 6m0-6l-6 6M625 1229l6 6m0-6l-6 6M625 1108l6 6m0-6l-6 6M625 1089l6 6m0-6l-6 6M626 1113l6 6m0-6l-6 6M627 1072l5 5m0-5l-5 5M627 1057l5 5m0-5l-5 5M628 1115l5 5m0-5l-5 5M628 1188l5 5m0-5l-5 5M628 1188l6 6m0-6l-6 6M629 1145l5 5m0-5l-5 5M629 1157l6 6m0-6l-6 6M629 1174l6 6m0-6l-6 6M629 1173l6 6m0-6l-6 6M631 1039l5 5m0-5l-5 5M630 1144l6 6m0-6l-6 6M632 1148l5 5m0-5l-5 5M632 1049l5 5m0-5l-5 5M632 1159l6 6m0-6l-6 6M633 1072l5 5m0-5l-5 5M632 1127l6 6m0-6l-6 6M634 1145l5 5m0-5l-5 5M633 1020l6 6m0-6l-6 6M634 1126l6 6m0-6l-6 6M634 1197l6 6m0-6l-6 6M635 1068l5 5m0-5l-5 5M636 1110l5 5m0-5l-5 5M636 1163l5 5m0-5l-5 5M636 1149l6 6m0-6l-6 6M637 1188l5 5m0-5l-5 5M637 1206l6 6m0-6l-6 6M637 1271l6 6m0-6l-6 6M637 1138l6 6m0-6l-6 6M639 1102l5 5m0-5l-5 5M639 1141l5 5m0-5l-5 5M639 1254l5 5m0-5l-5 5M639 1160l6 6m0-6l-6 6M640 1153l5 5m0-5l-5 5M640 1121l6 6m0-6l-6 6M640 1136l6 6m0-6l-6 6M641 1118l6 6m0-6l-6 6M641 1135l6 6m0-6l-6 6M642 1202l5 5m0-5l-5 5M642 1152l6 6m0-6l-6 6M643 1203l5 5m0-5l-5 5M644 1237l5 5m0-5l-5 5M643 1116l6 6m0-6l-6 6M644 1199l5 5m0-5l-5 5M644 1161l6 6m0-6l-6 6M644 1138l6 6m0-6l-6 6M646 1170l5 5m0-5l-5 5M645 1153l6 6m0-6l-6 6M647 1189l5 5m0-5l-5 5M647 1166l5 5m0-5l-5 5M646 1131l6 6m0-6l-6 6M648 1161l5 5m0-5l-5 5M648 1126l5 5m0-5l-5 5M649 1164l5 5m0-5l-5 5M649 1183l5 5m0-5l-5 5M649 1134l5 5m0-5l-5 5M649 1056l6 6m0-6l-6 6M650 1149l5 5m0-5l-5 5M651 1193l5 5m0-5l-5 5M651 1240l5 5m0-5l-5 5M650 1197l6 6m0-6l-6 6M651 1059l6 6m0-6l-6 6M651 1122l6 6m0-6l-6 6M652 1150l6 6m0-6l-6 6M652 1159l6 6m0-6l-6 6M652 1150l6 6m0-6l-6 6M653 1070l6 6m0-6l-6 6M653 1065l6 6m0-6l-6 6M655 1079l5 5m0-5l-5 5M654 1140l6 6m0-6l-6 6M655 1228l6 6m0-6l-6 6M655 1165l6 6m0-6l-6 6M655 1154l6 6m0-6l-6 6M656 1190l6 6m0-6l-6 6M656 1215l6 6m0-6l-6 6M657 1145l6 6m0-6l-6 6M658 1214l5 5m0-5l-5 5M658 1211l5 5m0-5l-5 5M659 1219l5 5m0-5l-5 5M659 1230l5 5m0-5l-5 5M660 1206l5 5m0-5l-5 5M660 1157l5 5m0-5l-5 5M661 1185l5 5m0-5l-5 5M661 1274l5 5m0-5l-5 5M660 1099l6 6m0-6l-6 6M661 1211l6 6m0-6l-6 6M661 1048l6 6m0-6l-6 6M662 1144l6 6m0-6l-6 6M662 1111l6 6m0-6l-6 6M662 1172l6 6m0-6l-6 6M664 1196l5 5m0-5l-5 5M663 1105l6 6m0-6l-6 6M665 1203l5 5m0-5l-5 5M664 1208l6 6m0-6l-6 6M664 1073l6 6m0-6l-6 6M665 1203l6 6m0-6l-6 6M666 1220l5 5m0-5l-5 5M666 1222l6 6m0-6l-6 6M667 1183l5 5m0-5l-5 5M667 1205l6 6m0-6l-6 6M667 1130l6 6m0-6l-6 6M668 1071l5 5m0-5l-5 5M668 1109l6 6m0-6l-6 6M669 1258l5 5m0-5l-5 5M670 1176l5 5m0-5l-5 5M670 1155l5 5m0-5l-5 5M669 1162l6 6m0-6l-6 6M671 1194l5 5m0-5l-5 5M670 1151l6 6m0-6l-6 6M671 1145l6 6m0-6l-6 6M671 1168l6 6m0-6l-6 6M671 1133l6 6m0-6l-6 6M672 1171l6 6m0-6l-6 6M672 1236l6 6m0-6l-6 6M673 1218l6 6m0-6l-6 6M674 1159l5 5m0-5l-5 5M675 1211l5 5m0-5l-5 5M674 1220l6 6m0-6l-6 6M675 1147l5 5m0-5l-5 5M676 1213l5 5m0-5l-5 5M675 1162l6 6m0-6l-6 6M676 1162l6 6m0-6l-6 6M677 1285l5 5m0-5l-5 5M677 1126l5 5m0-5l-5 5M677 1130l6 6m0-6l-6 6M677 1179l6 6m0-6l-6 6M678 1261l6 6m0-6l-6 6M678 1110l6 6m0-6l-6 6M678 1141l6 6m0-6l-6 6M679 1069l6 6m0-6l-6 6M680 1170l5 5m0-5l-5 5M680 1208l6 6m0-6l-6 6M680 1115l6 6m0-6l-6 6M680 1204l6 6m0-6l-6 6M682 1090l5 5m0-5l-5 5M681 1131l6 6m0-6l-6 6M682 1053l6 6m0-6l-6 6M683 1118l5 5m0-5l-5 5M683 1145l5 5m0-5l-5 5M684 1183l5 5m0-5l-5 5M683 1180l6 6m0-6l-6 6M684 1246l6 6m0-6l-6 6M684 1201l6 6m0-6l-6 6M686 1265l5 5m0-5l-5 5M686 1194l5 5m0-5l-5 5M685 1127l6 6m0-6l-6 6M686 1199l6 6m0-6l-6 6M687 1182l5 5m0-5l-5 5M688 1246l5 5m0-5l-5 5M687 1215l6 6m0-6l-6 6M688 1343l6 6m0-6l-6 6M688 1194l6 6m0-6l-6 6M689 1127l5 5m0-5l-5 5M690 1159l5 5m0-5l-5 5M689 1162l6 6m0-6l-6 6M691 1154l5 5m0-5l-5 5M691 1157l5 5m0-5l-5 5M691 1246l5 5m0-5l-5 5M692 1140l5 5m0-5l-5 5M692 1227l5 5m0-5l-5 5M693 1113l5 5m0-5l-5 5M693 1124l5 5m0-5l-5 5M693 1148l6 6m0-6l-6 6M693 1201l6 6m0-6l-6 6M694 1038l5 5m0-5l-5 5M694 1150l6 6m0-6l-6 6M694 1239l6 6m0-6l-6 6M695 1203l6 6m0-6l-6 6M696 1242l5 5m0-5l-5 5M695 1165l6 6m0-6l-6 6M696 1117l6 6m0-6l-6 6M697 1130l5 5m0-5l-5 5M697 1186l6 6m0-6l-6 6M698 1269l5 5m0-5l-5 5M698 1148l5 5m0-5l-5 5M698 1296l6 6m0-6l-6 6M698 1163l6 6m0-6l-6 6M699 1111l6 6m0-6l-6 6M700 1150l5 5m0-5l-5 5M700 1145l5 5m0-5l-5 5M700 1189l6 6m0-6l-6 6M701 1140l5 5m0-5l-5 5M702 1110l5 5m0-5l-5 5M702 1115l5 5m0-5l-5 5M703 1173l5 5m0-5l-5 5M702 1110l6 6m0-6l-6 6M702 1143l6 6m0-6l-6 6M704 1101l5 5m0-5l-5 5M704 1124l5 5m0-5l-5 5M705 1210l5 5m0-5l-5 5M704 1253l6 6m0-6l-6 6M704 1162l6 6m0-6l-6 6M705 1160l6 6m0-6l-6 6M706 1077l5 5m0-5l-5 5M706 1181l6 6m0-6l-6 6M706 1218l6 6m0-6l-6 6M707 1147l5 5m0-5l-5 5M707 1193l6 6m0-6l-6 6M707 1114l6 6m0-6l-6 6M709 1198l5 5m0-5l-5 5M708 1223l6 6m0-6l-6 6M709 1171l6 6m0-6l-6 6M710 1144l5 5m0-5l-5 5M710 1207l5 5m0-5l-5 5M710 1155l6 6m0-6l-6 6M710 1174l6 6m0-6l-6 6M712 1182l5 5m0-5l-5 5M712 1259l5 5m0-5l-5 5M711 1168l6 6m0-6l-6 6M713 1196l5 5m0-5l-5 5M713 1109l5 5m0-5l-5 5M713 1155l6 6m0-6l-6 6M714 1164l5 5m0-5l-5 5M713 1077l6 6m0-6l-6 6M715 1189l5 5m0-5l-5 5M714 1152l6 6m0-6l-6 6M716 1192l5 5m0-5l-5 5M716 1135l5 5m0-5l-5 5M716 1197l6 6m0-6l-6 6M716 1048l6 6m0-6l-6 6M716 1163l6 6m0-6l-6 6M718 1181l5 5m0-5l-5 5M718 1182l5 5m0-5l-5 5M719 1100l5 5m0-5l-5 5M719 1147l5 5m0-5l-5 5M718 1206l6 6m0-6l-6 6M720 1216l5 5m0-5l-5 5M720 1181l5 5m0-5l-5 5M721 1193l5 5m0-5l-5 5M721 1100l5 5m0-5l-5 5M721 1133l5 5m0-5l-5 5M721 1157l6 6m0-6l-6 6M722 1240l5 5m0-5l-5 5M723 1180l5 5m0-5l-5 5M722 1101l6 6m0-6l-6 6M722 1102l6 6m0-6l-6 6M724 1172l5 5m0-5l-5 5M724 1177l5 5m0-5l-5 5M725 1199l5 5m0-5l-5 5M725 1202l5 5m0-5l-5 5M726 1152l5 5m0-5l-5 5M725 1121l6 6m0-6l-6 6M725 1142l6 6m0-6l-6 6M727 1176l5 5m0-5l-5 5M726 1177l6 6m0-6l-6 6M728 1215l5 5m0-5l-5 5M727 1144l6 6m0-6l-6 6M728 1226l6 6m0-6l-6 6M728 1141l6 6m0-6l-6 6M728 1242l6 6m0-6l-6 6M730 1234l5 5m0-5l-5 5M729 1243l6 6m0-6l-6 6M729 1140l6 6m0-6l-6 6M730 1068l6 6m0-6l-6 6M730 1181l6 6m0-6l-6 6M731 1127l6 6m0-6l-6 6M732 1156l5 5m0-5l-5 5M731 1183l6 6m0-6l-6 6M733 1219l5 5m0-5l-5 5M732 1186l6 6m0-6l-6 6M734 1232l5 5m0-5l-5 5M734 1237l5 5m0-5l-5 5M735 1151l5 5m0-5l-5 5M734 1102l6 6m0-6l-6 6M735 1131l5 5m0-5l-5 5M736 1235l5 5m0-5l-5 5M735 1144l6 6m0-6l-6 6M737 1174l5 5m0-5l-5 5M737 1223l5 5m0-5l-5 5M738 1193l5 5m0-5l-5 5M737 1086l6 6m0-6l-6 6M738 1121l5 5m0-5l-5 5M738 1187l6 6m0-6l-6 6M739 1262l5 5m0-5l-5 5M738 1139l6 6m0-6l-6 6M739 1167l6 6m0-6l-6 6M740 1062l5 5m0-5l-5 5M741 1234l5 5m0-5l-5 5M741 1145l5 5m0-5l-5 5M741 1075l6 6m0-6l-6 6M741 1100l6 6m0-6l-6 6M742 1147l5 5m0-5l-5 5M743 1223l5 5m0-5l-5 5M743 1136l5 5m0-5l-5 5M743 1152l6 6m0-6l-6 6M744 1243l5 5m0-5l-5 5M745 1203l5 5m0-5l-5 5M744 1112l6 6m0-6l-6 6M744 1287l6 6m0-6l-6 6M746 1209l5 5m0-5l-5 5M746 1142l5 5m0-5l-5 5M746 1177l5 5m0-5l-5 5M747 1253l5 5m0-5l-5 5M746 1254l6 6m0-6l-6 6M748 1228l5 5m0-5l-5 5M747 1217l6 6m0-6l-6 6M749 1129l5 5m0-5l-5 5M748 1200l6 6m0-6l-6 6M749 1186l6 6m0-6l-6 6M749 1193l6 6m0-6l-6 6M749 1224l6 6m0-6l-6 6M751 1172l5 5m0-5l-5 5M750 1153l6 6m0-6l-6 6M751 1186l5 5m0-5l-5 5M751 1132l6 6m0-6l-6 6M751 1175l6 6m0-6l-6 6M752 1193l6 6m0-6l-6 6M753 1198l5 5m0-5l-5 5M753 1212l6 6m0-6l-6 6M753 1113l6 6m0-6l-6 6M754 1188l5 5m0-5l-5 5M754 1130l6 6m0-6l-6 6M754 1177l6 6m0-6l-6 6M755 1231l6 6m0-6l-6 6M756 1112l5 5m0-5l-5 5M755 1263l6 6m0-6l-6 6M756 1237l6 6m0-6l-6 6M756 1176l6 6m0-6l-6 6M757 1170l6 6m0-6l-6 6M758 1241l5 5m0-5l-5 5M758 1156l5 5m0-5l-5 5M758 1096l6 6m0-6l-6 6M758 1207l6 6m0-6l-6 6M760 1193l5 5m0-5l-5 5M760 1262l5 5m0-5l-5 5M761 1154l5 5m0-5l-5 5M761 1185l5 5m0-5l-5 5M761 1180l5 5m0-5l-5 5M761 1212l6 6m0-6l-6 6M761 1245l6 6m0-6l-6 6M763 1227l5 5m0-5l-5 5M763 1154l5 5m0-5l-5 5M763 1108l6 6m0-6l-6 6M763 1187l6 6m0-6l-6 6M764 1168l5 5m0-5l-5 5M764 1138l6 6m0-6l-6 6M765 1273l5 5m0-5l-5 5M764 1176l6 6m0-6l-6 6M766 1144l5 5m0-5l-5 5M766 1167l5 5m0-5l-5 5M766 1189l6 6m0-6l-6 6M767 1156l5 5m0-5l-5 5M767 1175l5 5m0-5l-5 5M767 1201l6 6m0-6l-6 6M768 1188l5 5m0-5l-5 5M769 1108l5 5m0-5l-5 5M769 1197l5 5m0-5l-5 5M770 1225l5 5m0-5l-5 5M769 1206l6 6m0-6l-6 6M770 1167l5 5m0-5l-5 5M771 1245l5 5m0-5l-5 5M770 1260l6 6m0-6l-6 6M772 1194l5 5m0-5l-5 5M772 1149l5 5m0-5l-5 5M771 1148l6 6m0-6l-6 6M773 1078l5 5m0-5l-5 5M772 1141l6 6m0-6l-6 6M773 1249l6 6m0-6l-6 6M774 1130l5 5m0-5l-5 5M775 1176l5 5m0-5l-5 5M774 1149l6 6m0-6l-6 6M774 1170l6 6m0-6l-6 6M775 1162l6 6m0-6l-6 6M776 1145l5 5m0-5l-5 5M776 1121l6 6m0-6l-6 6M777 1124l5 5m0-5l-5 5M776 1205l6 6m0-6l-6 6M777 1179l6 6m0-6l-6 6M778 1204l5 5m0-5l-5 5M778 1100l6 6m0-6l-6 6M778 1185l6 6m0-6l-6 6M778 1192l6 6m0-6l-6 6M779 1122l6 6m0-6l-6 6M780 1175l5 5m0-5l-5 5M780 1201l6 6m0-6l-6 6M780 1212l6 6m0-6l-6 6M781 1216l6 6m0-6l-6 6M782 1213l5 5m0-5l-5 5M782 1140l5 5m0-5l-5 5M782 1132l6 6m0-6l-6 6M782 1257l6 6m0-6l-6 6M783 1217l6 6m0-6l-6 6M784 1242l5 5m0-5l-5 5M783 1189l6 6m0-6l-6 6M785 1207l5 5m0-5l-5 5M784 1238l6 6m0-6l-6 6M785 1136l6 6m0-6l-6 6M785 1229l6 6m0-6l-6 6M786 1077l6 6m0-6l-6 6M787 1248l5 5m0-5l-5 5M786 1297l6 6m0-6l-6 6M787 1207l6 6m0-6l-6 6M787 1172l6 6m0-6l-6 6M788 1116l6 6m0-6l-6 6M789 1201l5 5m0-5l-5 5M788 1132l6 6m0-6l-6 6M790 1160l5 5m0-5l-5 5M789 1239l6 6m0-6l-6 6M790 1073l6 6m0-6l-6 6M791 1204l5 5m0-5l-5 5M791 1147l5 5m0-5l-5 5M792 1147l5 5m0-5l-5 5M792 1208l5 5m0-5l-5 5M793 1206l5 5m0-5l-5 5M793 1269l5 5m0-5l-5 5M794 1199l5 5m0-5l-5 5M793 1232l6 6m0-6l-6 6M794 1203l5 5m0-5l-5 5M794 1183l6 6m0-6l-6 6M795 1168l5 5m0-5l-5 5M796 1212l5 5m0-5l-5 5M796 1131l5 5m0-5l-5 5M795 1098l6 6m0-6l-6 6M796 1186l6 6m0-6l-6 6M797 1195l5 5m0-5l-5 5M797 1173l6 6m0-6l-6 6M797 1198l6 6m0-6l-6 6M798 1190l6 6m0-6l-6 6M799 1131l5 5m0-5l-5 5M799 1190l5 5m0-5l-5 5M800 1186l5 5m0-5l-5 5M800 1173l5 5m0-5l-5 5M800 1225l6 6m0-6l-6 6M800 1188l6 6m0-6l-6 6M801 1193l5 5m0-5l-5 5M802 1115l5 5m0-5l-5 5M802 1174l5 5m0-5l-5 5M802 1113l5 5m0-5l-5 5M803 1111l5 5m0-5l-5 5M802 1086l6 6m0-6l-6 6M803 1146l6 6m0-6l-6 6M803 1187l6 6m0-6l-6 6M805 1177l5 5m0-5l-5 5M804 1094l6 6m0-6l-6 6M804 1193l6 6m0-6l-6 6M806 1143l5 5m0-5l-5 5M805 1088l6 6m0-6l-6 6M807 1210l5 5m0-5l-5 5M807 1121l5 5m0-5l-5 5M807 1135l6 6m0-6l-6 6M808 1218l5 5m0-5l-5 5M807 1335l6 6m0-6l-6 6M809 1133l5 5m0-5l-5 5M808 1212l6 6m0-6l-6 6M810 1090l5 5m0-5l-5 5M809 1131l6 6m0-6l-6 6M810 1120l5 5m0-5l-5 5M810 1080l6 6m0-6l-6 6M811 1195l5 5m0-5l-5 5M812 1171l5 5m0-5l-5 5M811 1184l6 6m0-6l-6 6M811 1129l6 6m0-6l-6 6M812 1203l6 6m0-6l-6 6M813 1152l5 5m0-5l-5 5M813 1222l6 6m0-6l-6 6M813 1133l6 6m0-6l-6 6M813 1122l6 6m0-6l-6 6M815 1264l5 5m0-5l-5 5M814 1215l6 6m0-6l-6 6M816 1151l5 5m0-5l-5 5M816 1160l5 5m0-5l-5 5M816 1176l6 6m0-6l-6 6M817 1133l5 5m0-5l-5 5M816 1220l6 6m0-6l-6 6M818 1084l5 5m0-5l-5 5M818 1135l5 5m0-5l-5 5M818 1145l6 6m0-6l-6 6M818 1148l6 6m0-6l-6 6M818 1183l6 6m0-6l-6 6M820 1151l5 5m0-5l-5 5M820 1146l5 5m0-5l-5 5M820 1102l6 6m0-6l-6 6M821 1179l5 5m0-5l-5 5M821 1245l6 6m0-6l-6 6M821 1226l6 6m0-6l-6 6M822 1089l5 5m0-5l-5 5M822 1169l6 6m0-6l-6 6M822 1188l6 6m0-6l-6 6M823 1164l6 6m0-6l-6 6M824 1121l5 5m0-5l-5 5M824 1206l5 5m0-5l-5 5M825 1150l5 5m0-5l-5 5M825 1221l5 5m0-5l-5 5M826 1135l5 5m0-5l-5 5M826 1124l5 5m0-5l-5 5M826 1159l5 5m0-5l-5 5M826 1151l6 6m0-6l-6 6M827 1272l5 5m0-5l-5 5M828 1206l5 5m0-5l-5 5M827 1123l6 6m0-6l-6 6M828 1096l5 5m0-5l-5 5M829 1164l5 5m0-5l-5 5M828 1121l6 6m0-6l-6 6M830 1199l5 5m0-5l-5 5M830 1180l5 5m0-5l-5 5M831 1132l5 5m0-5l-5 5M831 1195l5 5m0-5l-5 5M831 1146l5 5m0-5l-5 5M831 1210l6 6m0-6l-6 6M832 1209l5 5m0-5l-5 5M833 1147l5 5m0-5l-5 5M832 1192l6 6m0-6l-6 6M833 1153l5 5m0-5l-5 5M834 1089l5 5m0-5l-5 5M833 1222l6 6m0-6l-6 6M835 1140l5 5m0-5l-5 5M834 1233l6 6m0-6l-6 6M836 1197l5 5m0-5l-5 5M836 1280l5 5m0-5l-5 5M835 1073l6 6m0-6l-6 6M836 1103l6 6m0-6l-6 6M837 1168l5 5m0-5l-5 5M836 1133l6 6m0-6l-6 6M838 1255l5 5m0-5l-5 5M837 1236l6 6m0-6l-6 6M839 1122l5 5m0-5l-5 5M838 1179l6 6m0-6l-6 6M839 1185l6 6m0-6l-6 6M840 1106l5 5m0-5l-5 5M839 1079l6 6m0-6l-6 6M840 1109l6 6m0-6l-6 6M840 1146l6 6m0-6l-6 6M841 1216l6 6m0-6l-6 6M841 1159l6 6m0-6l-6 6M841 1196l6 6m0-6l-6 6M842 1196l6 6m0-6l-6 6M843 1139l5 5m0-5l-5 5M844 1093l5 5m0-5l-5 5M844 1224l5 5m0-5l-5 5M844 1148l6 6m0-6l-6 6M845 1127l5 5m0-5l-5 5M845 1248l5 5m0-5l-5 5M845 1262l6 6m0-6l-6 6M845 1191l6 6m0-6l-6 6M846 1207l6 6m0-6l-6 6M846 1196l6 6m0-6l-6 6M846 1175l6 6m0-6l-6 6M848 1151l5 5m0-5l-5 5M848 1076l5 5m0-5l-5 5M848 1106l6 6m0-6l-6 6M849 1141l5 5m0-5l-5 5M848 1126l6 6m0-6l-6 6M850 1164l5 5m0-5l-5 5M849 1245l6 6m0-6l-6 6M850 1177l6 6m0-6l-6 6M850 1118l6 6m0-6l-6 6M852 1182l5 5m0-5l-5 5M851 1113l6 6m0-6l-6 6M851 1086l6 6m0-6l-6 6M853 1150l5 5m0-5l-5 5M852 1225l6 6m0-6l-6 6M854 1119l5 5m0-5l-5 5M853 1156l6 6m0-6l-6 6M854 1165l5 5m0-5l-5 5M855 1081l5 5m0-5l-5 5M854 1148l6 6m0-6l-6 6M856 1238l5 5m0-5l-5 5M855 1195l6 6m0-6l-6 6M856 1009l6 6m0-6l-6 6M856 1160l6 6m0-6l-6 6M857 1181l5 5m0-5l-5 5M858 1233l5 5m0-5l-5 5M858 1180l5 5m0-5l-5 5M858 1010l6 6m0-6l-6 6M859 1141l5 5m0-5l-5 5M859 1118l5 5m0-5l-5 5M860 1096l5 5m0-5l-5 5M859 1107l6 6m0-6l-6 6M860 1151l6 6m0-6l-6 6M860 1122l6 6m0-6l-6 6M860 1161l6 6m0-6l-6 6M862 1153l5 5m0-5l-5 5M862 1168l5 5m0-5l-5 5M862 1196l6 6m0-6l-6 6M862 1261l6 6m0-6l-6 6M863 1252l5 5m0-5l-5 5M863 1090l6 6m0-6l-6 6M863 1255l6 6m0-6l-6 6M865 1171l5 5m0-5l-5 5M865 1270l5 5m0-5l-5 5M866 1222l5 5m0-5l-5 5M866 1191l5 5m0-5l-5 5M865 1240l6 6m0-6l-6 6M867 1238l5 5m0-5l-5 5M867 1169l5 5m0-5l-5 5M868 1293l5 5m0-5l-5 5M867 1138l6 6m0-6l-6 6M868 1167l5 5m0-5l-5 5M868 1157l6 6m0-6l-6 6M869 1196l5 5m0-5l-5 5M869 1214l6 6m0-6l-6 6M869 1295l6 6m0-6l-6 6M871 1157l5 5m0-5l-5 5M871 1156l5 5m0-5l-5 5M871 1195l5 5m0-5l-5 5M871 1231l6 6m0-6l-6 6M871 1208l6 6m0-6l-6 6M872 1179l5 5m0-5l-5 5M872 1193l6 6m0-6l-6 6M873 1146l5 5m0-5l-5 5M873 1200l6 6m0-6l-6 6M873 1247l6 6m0-6l-6 6M875 1121l5 5m0-5l-5 5M874 1198l6 6m0-6l-6 6M875 1214l6 6m0-6l-6 6M876 1271l5 5m0-5l-5 5M875 1178l6 6m0-6l-6 6M876 1140l6 6m0-6l-6 6M876 1215l6 6m0-6l-6 6M878 1149l5 5m0-5l-5 5M878 1204l5 5m0-5l-5 5M877 1153l6 6m0-6l-6 6M878 1121l6 6m0-6l-6 6M879 1172l5 5m0-5l-5 5M880 1276l5 5m0-5l-5 5M880 1227l5 5m0-5l-5 5M880 1178l5 5m0-5l-5 5M880 1160l6 6m0-6l-6 6M881 1095l5 5m0-5l-5 5M881 1185l6 6m0-6l-6 6M881 1174l6 6m0-6l-6 6M882 1163l5 5m0-5l-5 5M883 1273l5 5m0-5l-5 5M883 1218l5 5m0-5l-5 5M884 1248l5 5m0-5l-5 5M883 1147l6 6m0-6l-6 6M883 1174l6 6m0-6l-6 6M884 1300l6 6m0-6l-6 6M885 1205l5 5m0-5l-5 5M885 1217l6 6m0-6l-6 6M885 1160l6 6m0-6l-6 6M887 1278l5 5m0-5l-5 5M886 1255l6 6m0-6l-6 6M886 1236l6 6m0-6l-6 6M888 1222l5 5m0-5l-5 5M887 1163l6 6m0-6l-6 6M889 1211l5 5m0-5l-5 5M888 1134l6 6m0-6l-6 6M889 1157l5 5m0-5l-5 5M889 1179l6 6m0-6l-6 6M889 1280l6 6m0-6l-6 6M891 1170l5 5m0-5l-5 5M890 1117l6 6m0-6l-6 6M891 1161l6 6m0-6l-6 6M892 1258l5 5m0-5l-5 5M892 1177l5 5m0-5l-5 5M892 1183l6 6m0-6l-6 6M893 1146l5 5m0-5l-5 5M894 1254l5 5m0-5l-5 5M893 1255l6 6m0-6l-6 6M893 1180l6 6m0-6l-6 6M895 1210l5 5m0-5l-5 5M894 1239l6 6m0-6l-6 6M895 1179l6 6m0-6l-6 6M896 1188l5 5m0-5l-5 5M896 1184l6 6m0-6l-6 6M896 1205l6 6m0-6l-6 6M897 1206l5 5m0-5l-5 5M898 1146l5 5m0-5l-5 5M897 1221l6 6m0-6l-6 6M898 1164l5 5m0-5l-5 5M899 1116l5 5m0-5l-5 5M898 1069l6 6m0-6l-6 6M900 1247l5 5m0-5l-5 5M900 1182l5 5m0-5l-5 5M900 1202l6 6m0-6l-6 6M901 1299l5 5m0-5l-5 5M900 1192l6 6m0-6l-6 6M901 1198l6 6m0-6l-6 6M901 1119l6 6m0-6l-6 6M902 1143l6 6m0-6l-6 6M902 1086l6 6m0-6l-6 6M904 1124l5 5m0-5l-5 5M904 1139l5 5m0-5l-5 5M904 1182l5 5m0-5l-5 5M905 1118l5 5m0-5l-5 5M905 1163l5 5m0-5l-5 5M904 1120l6 6m0-6l-6 6M906 1178l5 5m0-5l-5 5M906 1173l5 5m0-5l-5 5M906 1155l6 6m0-6l-6 6M906 1196l6 6m0-6l-6 6M907 1162l6 6m0-6l-6 6M908 1191l5 5m0-5l-5 5M908 1240l5 5m0-5l-5 5M908 1152l6 6m0-6l-6 6M908 1261l6 6m0-6l-6 6M910 1167l5 5m0-5l-5 5M909 1186l6 6m0-6l-6 6M911 1212l5 5m0-5l-5 5M910 1201l6 6m0-6l-6 6M911 1244l5 5m0-5l-5 5M911 1232l6 6m0-6l-6 6M912 1257l5 5m0-5l-5 5M912 1238l5 5m0-5l-5 5M913 1202l5 5m0-5l-5 5M913 1185l5 5m0-5l-5 5M914 1191l5 5m0-5l-5 5M914 1206l5 5m0-5l-5 5M914 1276l6 6m0-6l-6 6M915 1221l5 5m0-5l-5 5M915 1048l5 5m0-5l-5 5M916 1212l5 5m0-5l-5 5M915 1263l6 6m0-6l-6 6M916 1181l6 6m0-6l-6 6M916 1308l6 6m0-6l-6 6M916 1097l6 6m0-6l-6 6M918 1187l5 5m0-5l-5 5M918 1202l5 5m0-5l-5 5M919 1118l5 5m0-5l-5 5M918 1209l6 6m0-6l-6 6M919 1214l5 5m0-5l-5 5M919 1302l6 6m0-6l-6 6M920 1051l5 5m0-5l-5 5M921 1243l5 5m0-5l-5 5M920 1096l6 6m0-6l-6 6M922 1184l5 5m0-5l-5 5M921 1143l6 6m0-6l-6 6M921 1188l6 6m0-6l-6 6M923 1192l5 5m0-5l-5 5M922 1201l6 6m0-6l-6 6M924 1137l5 5m0-5l-5 5M924 1202l5 5m0-5l-5 5M925 1234l5 5m0-5l-5 5M925 1229l5 5m0-5l-5 5M925 1164l5 5m0-5l-5 5M926 1252l5 5m0-5l-5 5M926 1129l5 5m0-5l-5 5M927 1221l5 5m0-5l-5 5M927 1100l5 5m0-5l-5 5M927 1173l5 5m0-5l-5 5M928 1141l5 5m0-5l-5 5M928 1130l5 5m0-5l-5 5M927 1235l6 6m0-6l-6 6M929 1239l5 5m0-5l-5 5M929 1214l5 5m0-5l-5 5M929 1296l6 6m0-6l-6 6M929 1177l6 6m0-6l-6 6M931 1187l5 5m0-5l-5 5M931 1160l5 5m0-5l-5 5M930 1287l6 6m0-6l-6 6M931 1195l6 6m0-6l-6 6M932 1116l5 5m0-5l-5 5M933 1246l5 5m0-5l-5 5M932 1113l6 6m0-6l-6 6M933 1113l6 6m0-6l-6 6M933 1182l6 6m0-6l-6 6M934 1185l5 5m0-5l-5 5M934 1273l6 6m0-6l-6 6M934 1258l6 6m0-6l-6 6M935 1199l5 5m0-5l-5 5M936 1155l5 5m0-5l-5 5M935 1156l6 6m0-6l-6 6M936 1176l6 6m0-6l-6 6M936 1213l6 6m0-6l-6 6M937 1043l6 6m0-6l-6 6M938 1272l5 5m0-5l-5 5M937 1279l6 6m0-6l-6 6M938 1111l6 6m0-6l-6 6M939 1142l5 5m0-5l-5 5M940 1208l5 5m0-5l-5 5M940 1183l5 5m0-5l-5 5M939 1216l6 6m0-6l-6 6M941 1216l5 5m0-5l-5 5M940 1161l6 6m0-6l-6 6M942 1137l5 5m0-5l-5 5M942 1330l5 5m0-5l-5 5M943 1102l5 5m0-5l-5 5M942 1093l6 6m0-6l-6 6M942 1192l6 6m0-6l-6 6M943 1120l6 6m0-6l-6 6M944 1293l5 5m0-5l-5 5M945 1223l5 5m0-5l-5 5M945 1232l5 5m0-5l-5 5M945 1233l5 5m0-5l-5 5M946 1179l5 5m0-5l-5 5M945 1190l6 6m0-6l-6 6M946 1160l6 6m0-6l-6 6M946 1111l6 6m0-6l-6 6M946 1216l6 6m0-6l-6 6M948 1242l5 5m0-5l-5 5M947 1243l6 6m0-6l-6 6M948 1197l6 6m0-6l-6 6M948 1204l6 6m0-6l-6 6M950 1194l5 5m0-5l-5 5M949 1311l6 6m0-6l-6 6M950 1188l5 5m0-5l-5 5M951 1136l5 5m0-5l-5 5M951 1119l5 5m0-5l-5 5M951 1237l6 6m0-6l-6 6M952 1204l5 5m0-5l-5 5M951 1197l6 6m0-6l-6 6M952 1161l6 6m0-6l-6 6M953 1152l5 5m0-5l-5 5M954 1230l5 5m0-5l-5 5M954 1209l5 5m0-5l-5 5M953 1128l6 6m0-6l-6 6M954 1198l6 6m0-6l-6 6M954 1105l6 6m0-6l-6 6M955 1227l6 6m0-6l-6 6M955 1146l6 6m0-6l-6 6M956 1170l6 6m0-6l-6 6M957 1205l5 5m0-5l-5 5M957 1250l5 5m0-5l-5 5M958 1072l5 5m0-5l-5 5M958 1145l5 5m0-5l-5 5M958 1157l6 6m0-6l-6 6M959 1084l5 5m0-5l-5 5M960 1196l5 5m0-5l-5 5M960 1279l5 5m0-5l-5 5M960 1090l5 5m0-5l-5 5M960 1174l6 6m0-6l-6 6M961 1101l5 5m0-5l-5 5M961 1170l5 5m0-5l-5 5M962 1206l5 5m0-5l-5 5M961 1149l6 6m0-6l-6 6M962 1051l6 6m0-6l-6 6M963 1160l5 5m0-5l-5 5M964 1122l5 5m0-5l-5 5M963 1155l6 6m0-6l-6 6M963 1292l6 6m0-6l-6 6M965 1206l5 5m0-5l-5 5M964 1119l6 6m0-6l-6 6M965 1183l6 6m0-6l-6 6M965 1030l6 6m0-6l-6 6M965 1283l6 6m0-6l-6 6M967 1089l5 5m0-5l-5 5M967 1124l5 5m0-5l-5 5M967 1194l6 6m0-6l-6 6M968 1161l5 5m0-5l-5 5M969 1179l5 5m0-5l-5 5M968 1172l6 6m0-6l-6 6M969 1189l5 5m0-5l-5 5M970 1201l5 5m0-5l-5 5M970 1136l5 5m0-5l-5 5M970 1197l5 5m0-5l-5 5M971 1247l5 5m0-5l-5 5M971 1176l5 5m0-5l-5 5M972 1126l5 5m0-5l-5 5M971 1085l6 6m0-6l-6 6M972 1187l6 6m0-6l-6 6M973 1298l5 5m0-5l-5 5M973 1191l5 5m0-5l-5 5M973 1065l6 6m0-6l-6 6M974 1162l5 5m0-5l-5 5M975 1262l5 5m0-5l-5 5M974 1179l6 6m0-6l-6 6M975 1201l6 6m0-6l-6 6M976 1114l5 5m0-5l-5 5M976 1221l5 5m0-5l-5 5M977 1219l5 5m0-5l-5 5M976 1168l6 6m0-6l-6 6M977 1164l6 6m0-6l-6 6M977 1171l6 6m0-6l-6 6M978 1160l5 5m0-5l-5 5M978 1182l6 6m0-6l-6 6M978 1219l6 6m0-6l-6 6M980 1271l5 5m0-5l-5 5M979 1228l6 6m0-6l-6 6M979 1187l6 6m0-6l-6 6M981 1337l5 5m0-5l-5 5M981 1148l5 5m0-5l-5 5M982 1224l5 5m0-5l-5 5M981 1001l6 6m0-6l-6 6M982 1219l6 6m0-6l-6 6M983 1178l5 5m0-5l-5 5M983 1309l5 5m0-5l-5 5M983 1319l6 6m0-6l-6 6M984 1206l5 5m0-5l-5 5M985 1200l5 5m0-5l-5 5M984 1103l6 6m0-6l-6 6M984 1108l6 6m0-6l-6 6M986 1228l5 5m0-5l-5 5M985 1149l6 6m0-6l-6 6M986 1199l6 6m0-6l-6 6M987 1206l5 5m0-5l-5 5M987 1215l5 5m0-5l-5 5M987 1191l6 6m0-6l-6 6M988 1238l5 5m0-5l-5 5M989 1150l5 5m0-5l-5 5M988 1089l6 6m0-6l-6 6M989 1214l5 5m0-5l-5 5M990 1168l5 5m0-5l-5 5M989 1219l6 6m0-6l-6 6M991 1187l5 5m0-5l-5 5M990 1222l6 6m0-6l-6 6M991 1100l6 6m0-6l-6 6M991 1153l6 6m0-6l-6 6M992 1258l5 5m0-5l-5 5M993 1192l5 5m0-5l-5 5M993 1131l5 5m0-5l-5 5M993 1119l6 6m0-6l-6 6M994 1106l5 5m0-5l-5 5M993 1283l6 6m0-6l-6 6M995 1141l5 5m0-5l-5 5M995 1152l5 5m0-5l-5 5M995 1192l6 6m0-6l-6 6M995 1183l6 6m0-6l-6 6M995 1192l6 6m0-6l-6 6M996 1150l6 6m0-6l-6 6M997 1247l5 5m0-5l-5 5M998 1243l5 5m0-5l-5 5M998 1152l5 5m0-5l-5 5M998 1177l5 5m0-5l-5 5M998 1211l6 6m0-6l-6 6M998 1220l6 6m0-6l-6 6M999 1098l6 6m0-6l-6 6M999 1185l6 6m0-6l-6 6M1000 1225l6 6m0-6l-6 6M1001 1156l5 5m0-5l-5 5M1001 1199l5 5m0-5l-5 5M1002 1247l5 5m0-5l-5 5M1001 1250l6 6m0-6l-6 6M1002 1210l6 6m0-6l-6 6M1002 1273l6 6m0-6l-6 6M1003 1208l5 5m0-5l-5 5M1003 1262l6 6m0-6l-6 6M1003 1141l6 6m0-6l-6 6M1004 1187l6 6m0-6l-6 6M1004 1184l6 6m0-6l-6 6M1006 1236l5 5m0-5l-5 5M1006 1189l5 5m0-5l-5 5M1006 1218l5 5m0-5l-5 5M1007 1208l5 5m0-5l-5 5M1006 1203l6 6m0-6l-6 6M1008 1235l5 5m0-5l-5 5M1007 1198l6 6m0-6l-6 6M1007 1259l6 6m0-6l-6 6M1009 1289l5 5m0-5l-5 5M1008 1174l6 6m0-6l-6 6M1009 1190l6 6m0-6l-6 6M1009 1285l6 6m0-6l-6 6M1010 1191l6 6m0-6l-6 6M1011 1182l5 5m0-5l-5 5M1011 1137l5 5m0-5l-5 5M1011 1211l6 6m0-6l-6 6M1011 1208l6 6m0-6l-6 6M1012 1223l5 5m0-5l-5 5M1012 1199l6 6m0-6l-6 6M1012 1060l6 6m0-6l-6 6M1014 1200l5 5m0-5l-5 5M1014 1129l5 5m0-5l-5 5M1014 1119l6 6m0-6l-6 6M1014 1160l6 6m0-6l-6 6M1014 1175l6 6m0-6l-6 6M1016 1157l5 5m0-5l-5 5M1015 1214l6 6m0-6l-6 6M1016 1108l6 6m0-6l-6 6M1016 1209l6 6m0-6l-6 6M1017 1111l6 6m0-6l-6 6M1017 1126l6 6m0-6l-6 6M1018 1217l5 5m0-5l-5 5M1019 1189l5 5m0-5l-5 5M1019 1146l5 5m0-5l-5 5M1019 1156l6 6m0-6l-6 6M1020 1109l5 5m0-5l-5 5M1020 1184l5 5m0-5l-5 5M1020 1186l6 6m0-6l-6 6M1021 1203l5 5m0-5l-5 5M1021 1249l6 6m0-6l-6 6M1022 1140l5 5m0-5l-5 5M1022 1151l5 5m0-5l-5 5M1022 1177l6 6m0-6l-6 6M1023 1202l5 5m0-5l-5 5M1023 1228l6 6m0-6l-6 6M1023 1105l6 6m0-6l-6 6M1025 1195l5 5m0-5l-5 5M1024 1208l6 6m0-6l-6 6M1024 1129l6 6m0-6l-6 6M1026 1197l5 5m0-5l-5 5M1026 1266l5 5m0-5l-5 5M1025 1127l6 6m0-6l-6 6M1026 1161l6 6m0-6l-6 6M1026 1148l6 6m0-6l-6 6M1027 1138l6 6m0-6l-6 6M1028 1157l5 5m0-5l-5 5M1029 1151l5 5m0-5l-5 5M1028 1206l6 6m0-6l-6 6M1028 1211l6 6m0-6l-6 6M1030 1157l5 5m0-5l-5 5M1029 1248l6 6m0-6l-6 6M1030 1134l6 6m0-6l-6 6M1031 1207l5 5m0-5l-5 5M1031 1227l6 6m0-6l-6 6M1032 1122l5 5m0-5l-5 5M1032 1153l5 5m0-5l-5 5M1032 1175l6 6m0-6l-6 6M1033 1112l5 5m0-5l-5 5M1033 1147l5 5m0-5l-5 5M1033 1129l6 6m0-6l-6 6M1034 1170l5 5m0-5l-5 5M1035 1134l5 5m0-5l-5 5M1035 1117l5 5m0-5l-5 5M1036 1193l5 5m0-5l-5 5M1035 1252l6 6m0-6l-6 6M1036 1147l5 5m0-5l-5 5M1037 1227l5 5m0-5l-5 5M1036 1210l6 6m0-6l-6 6M1037 1202l6 6m0-6l-6 6M1037 1165l6 6m0-6l-6 6M1039 1161l5 5m0-5l-5 5M1038 1176l6 6m0-6l-6 6M1039 1229l5 5m0-5l-5 5M1040 1231l5 5m0-5l-5 5M1039 1222l6 6m0-6l-6 6M1041 1204l5 5m0-5l-5 5M1041 1227l5 5m0-5l-5 5M1041 1194l5 5m0-5l-5 5M1041 1136l6 6m0-6l-6 6M1042 1257l5 5m0-5l-5 5M1042 1155l6 6m0-6l-6 6M1042 1210l6 6m0-6l-6 6M1043 1173l5 5m0-5l-5 5M1043 1147l6 6m0-6l-6 6M1044 1210l5 5m0-5l-5 5M1044 1166l6 6m0-6l-6 6M1044 1193l6 6m0-6l-6 6M1044 1208l6 6m0-6l-6 6M1046 1136l5 5m0-5l-5 5M1045 1157l6 6m0-6l-6 6M1046 1135l6 6m0-6l-6 6M1046 1130l6 6m0-6l-6 6M1046 1137l6 6m0-6l-6 6M1048 1157l5 5m0-5l-5 5M1048 1182l5 5m0-5l-5 5M1048 1234l6 6m0-6l-6 6M1049 1315l5 5m0-5l-5 5M1049 1105l6 6m0-6l-6 6M1049 1212l6 6m0-6l-6 6M1049 1165l6 6m0-6l-6 6M1051 1171l5 5m0-5l-5 5M1051 1226l5 5m0-5l-5 5M1052 1110l5 5m0-5l-5 5M1051 1109l6 6m0-6l-6 6M1051 1216l6 6m0-6l-6 6M1053 1198l5 5m0-5l-5 5M1053 1161l5 5m0-5l-5 5M1053 1099l6 6m0-6l-6 6M1053 1150l6 6m0-6l-6 6M1054 1216l6 6m0-6l-6 6M1054 1177l6 6m0-6l-6 6M1054 1220l6 6m0-6l-6 6M1055 1110l6 6m0-6l-6 6M1055 1153l6 6m0-6l-6 6M1056 1241l6 6m0-6l-6 6M1057 1226l5 5m0-5l-5 5M1057 1153l5 5m0-5l-5 5M1058 1263l5 5m0-5l-5 5M1058 1216l5 5m0-5l-5 5M1058 1124l6 6m0-6l-6 6M1058 1163l6 6m0-6l-6 6M1059 1215l6 6m0-6l-6 6M1059 1190l6 6m0-6l-6 6M1059 1171l6 6m0-6l-6 6M1061 1173l5 5m0-5l-5 5M1061 1170l5 5m0-5l-5 5M1060 1157l6 6m0-6l-6 6M1061 1143l6 6m0-6l-6 6M1061 1186l6 6m0-6l-6 6M1063 1090l5 5m0-5l-5 5M1063 1147l5 5m0-5l-5 5M1063 1251l6 6m0-6l-6 6M1063 1266l6 6m0-6l-6 6M1065 1152l5 5m0-5l-5 5M1065 1303l5 5m0-5l-5 5M1065 1180l5 5m0-5l-5 5M1066 1266l5 5m0-5l-5 5M1066 1145l5 5m0-5l-5 5M1067 1117l5 5m0-5l-5 5M1066 1134l6 6m0-6l-6 6M1067 1103l5 5m0-5l-5 5M1068 1259l5 5m0-5l-5 5M1068 1202l5 5m0-5l-5 5M1069 1132l5 5m0-5l-5 5M1069 1221l5 5m0-5l-5 5M1068 1228l6 6m0-6l-6 6M1069 1226l6 6m0-6l-6 6M1070 1205l5 5m0-5l-5 5M1070 1147l6 6m0-6l-6 6M1070 1214l6 6m0-6l-6 6M1070 1177l6 6m0-6l-6 6M1072 1167l5 5m0-5l-5 5M1071 1172l6 6m0-6l-6 6M1072 1176l6 6m0-6l-6 6M1073 1105l5 5m0-5l-5 5M1072 1182l6 6m0-6l-6 6M1073 1208l6 6m0-6l-6 6M1073 1171l6 6m0-6l-6 6M1074 1247l6 6m0-6l-6 6M1075 1190l5 5m0-5l-5 5M1075 1245l5 5m0-5l-5 5M1075 1211l6 6m0-6l-6 6M1076 1152l5 5m0-5l-5 5M1077 1104l5 5m0-5l-5 5M1077 1173l5 5m0-5l-5 5M1078 1201l5 5m0-5l-5 5M1078 1182l5 5m0-5l-5 5M1077 1201l6 6m0-6l-6 6M1078 1137l6 6m0-6l-6 6M1078 1216l6 6m0-6l-6 6M1079 1230l6 6m0-6l-6 6M1080 1279l5 5m0-5l-5 5M1081 1101l5 5m0-5l-5 5M1080 1164l6 6m0-6l-6 6M1081 1123l5 5m0-5l-5 5M1082 1167l5 5m0-5l-5 5M1081 1122l6 6m0-6l-6 6M1082 1198l6 6m0-6l-6 6M1082 1179l6 6m0-6l-6 6M1082 1236l6 6m0-6l-6 6M1084 1146l5 5m0-5l-5 5M1083 1133l6 6m0-6l-6 6M1085 1251l5 5m0-5l-5 5M1084 1236l6 6m0-6l-6 6M1084 1153l6 6m0-6l-6 6M1086 1263l5 5m0-5l-5 5M1085 1034l6 6m0-6l-6 6M1086 1234l6 6m0-6l-6 6M1086 1201l6 6m0-6l-6 6M1087 1245l6 6m0-6l-6 6M1088 1098l5 5m0-5l-5 5M1088 1191l5 5m0-5l-5 5M1089 1163l5 5m0-5l-5 5M1089 1174l5 5m0-5l-5 5M1090 1204l5 5m0-5l-5 5M1090 1223l5 5m0-5l-5 5M1089 1100l6 6m0-6l-6 6M1091 1166l5 5m0-5l-5 5M1090 1195l6 6m0-6l-6 6M1092 1109l5 5m0-5l-5 5M1092 1174l5 5m0-5l-5 5M1092 1166l6 6m0-6l-6 6M1093 1169l5 5m0-5l-5 5M1092 1110l6 6m0-6l-6 6M1093 1194l6 6m0-6l-6 6M1094 1173l5 5m0-5l-5 5M1094 1146l5 5m0-5l-5 5M1094 1156l6 6m0-6l-6 6M1094 1139l6 6m0-6l-6 6M1095 1073l6 6m0-6l-6 6M1095 1144l6 6m0-6l-6 6M1097 1166l5 5m0-5l-5 5M1096 1111l6 6m0-6l-6 6M1097 1216l5 5m0-5l-5 5M1097 1198l6 6m0-6l-6 6M1097 1133l6 6m0-6l-6 6M1099 1161l5 5m0-5l-5 5M1098 1206l6 6m0-6l-6 6M1099 1168l6 6m0-6l-6 6M1099 1203l6 6m0-6l-6 6M1100 1108l5 5m0-5l-5 5M1100 1206l6 6m0-6l-6 6M1100 1181l6 6m0-6l-6 6M1100 1172l6 6m0-6l-6 6M1101 1190l6 6m0-6l-6 6M1102 1201l5 5m0-5l-5 5M1103 1155l5 5m0-5l-5 5M1103 1160l5 5m0-5l-5 5M1104 1046l5 5m0-5l-5 5M1103 1257l6 6m0-6l-6 6M1104 1124l5 5m0-5l-5 5M1105 1100l5 5m0-5l-5 5M1104 1203l6 6m0-6l-6 6M1105 1117l6 6m0-6l-6 6M1105 1116l6 6m0-6l-6 6M1107 1194l5 5m0-5l-5 5M1107 1129l5 5m0-5l-5 5M1107 1230l5 5m0-5l-5 5M1107 1136l6 6m0-6l-6 6M1108 1161l5 5m0-5l-5 5M1108 1174l5 5m0-5l-5 5M1108 1202l6 6m0-6l-6 6M1109 1161l5 5m0-5l-5 5M1110 1207l5 5m0-5l-5 5M1109 1172l6 6m0-6l-6 6M1111 1088l5 5m0-5l-5 5M1110 1157l6 6m0-6l-6 6M1111 1168l5 5m0-5l-5 5M1112 1132l5 5m0-5l-5 5M1111 1189l6 6m0-6l-6 6M1113 1269l5 5m0-5l-5 5M1112 1136l6 6m0-6l-6 6M1112 1255l6 6m0-6l-6 6M1113 1143l6 6m0-6l-6 6M1113 1210l6 6m0-6l-6 6M1115 1176l5 5m0-5l-5 5M1114 1303l6 6m0-6l-6 6M1114 1128l6 6m0-6l-6 6M1115 1220l6 6m0-6l-6 6M1116 1173l5 5m0-5l-5 5M1117 1185l5 5m0-5l-5 5M1116 1176l6 6m0-6l-6 6M1117 1333l5 5m0-5l-5 5M1117 1199l6 6m0-6l-6 6M1118 1194l5 5m0-5l-5 5M1119 1228l5 5m0-5l-5 5M1119 1249l5 5m0-5l-5 5M1120 1269l5 5m0-5l-5 5M1120 1172l5 5m0-5l-5 5M1120 1063l5 5m0-5l-5 5M1121 1167l5 5m0-5l-5 5M1121 1346l5 5m0-5l-5 5M1121 1182l6 6m0-6l-6 6M1122 1167l5 5m0-5l-5 5M1122 1201l6 6m0-6l-6 6M1123 1194l5 5m0-5l-5 5M1123 1259l5 5m0-5l-5 5M1123 1331l6 6m0-6l-6 6M1123 1146l6 6m0-6l-6 6M1124 1178l6 6m0-6l-6 6M1125 1139l5 5m0-5l-5 5M1124 1184l6 6m0-6l-6 6M1125 1160l6 6m0-6l-6 6M1125 1181l6 6m0-6l-6 6M1127 1225l5 5m0-5l-5 5M1126 1186l6 6m0-6l-6 6M1127 1218l6 6m0-6l-6 6M1127 1149l6 6m0-6l-6 6M1127 1248l6 6m0-6l-6 6M1128 1068l6 6m0-6l-6 6M1129 1159l5 5m0-5l-5 5M1128 1264l6 6m0-6l-6 6M1129 1152l6 6m0-6l-6 6M1129 1197l6 6m0-6l-6 6M1131 1245l5 5m0-5l-5 5M1131 1170l5 5m0-5l-5 5M1131 1200l6 6m0-6l-6 6M1132 1257l5 5m0-5l-5 5M1132 1172l5 5m0-5l-5 5M1133 1156l5 5m0-5l-5 5M1133 1191l5 5m0-5l-5 5M1133 1233l6 6m0-6l-6 6M1134 1036l5 5m0-5l-5 5M1134 1191l5 5m0-5l-5 5M1135 1187l5 5m0-5l-5 5M1135 1140l5 5m0-5l-5 5M1135 1170l6 6m0-6l-6 6M1135 1155l6 6m0-6l-6 6M1136 1035l6 6m0-6l-6 6M1136 1160l6 6m0-6l-6 6M1137 1051l5 5m0-5l-5 5M1138 1157l5 5m0-5l-5 5M1137 1204l6 6m0-6l-6 6M1139 1134l5 5m0-5l-5 5M1139 1177l5 5m0-5l-5 5M1138 1132l6 6m0-6l-6 6M1139 1144l6 6m0-6l-6 6M1139 1151l6 6m0-6l-6 6M1141 1207l5 5m0-5l-5 5M1141 1230l5 5m0-5l-5 5M1141 1193l5 5m0-5l-5 5M1141 1159l6 6m0-6l-6 6M1141 1160l6 6m0-6l-6 6M1143 1156l5 5m0-5l-5 5M1142 1171l6 6m0-6l-6 6M1142 1184l6 6m0-6l-6 6M1143 1208l6 6m0-6l-6 6M1144 1193l5 5m0-5l-5 5M1145 1263l5 5m0-5l-5 5M1144 1086l6 6m0-6l-6 6M1145 1204l6 6m0-6l-6 6M1145 1217l6 6m0-6l-6 6M1145 1184l6 6m0-6l-6 6M1147 1318l5 5m0-5l-5 5M1147 1217l5 5m0-5l-5 5M1148 1211l5 5m0-5l-5 5M1148 1132l5 5m0-5l-5 5M1147 1295l6 6m0-6l-6 6M1148 1235l6 6m0-6l-6 6M1149 1168l5 5m0-5l-5 5M1150 1198l5 5m0-5l-5 5M1150 1233l5 5m0-5l-5 5M1150 1082l5 5m0-5l-5 5M1151 1114l5 5m0-5l-5 5M1150 1165l6 6m0-6l-6 6M1151 1199l6 6m0-6l-6 6M1151 1096l6 6m0-6l-6 6M1153 1186l5 5m0-5l-5 5M1153 1147l5 5m0-5l-5 5M1152 1314l6 6m0-6l-6 6M1154 1138l5 5m0-5l-5 5M1154 1139l5 5m0-5l-5 5M1155 1205l5 5m0-5l-5 5M1155 1016l5 5m0-5l-5 5M1154 1103l6 6m0-6l-6 6M1156 1203l5 5m0-5l-5 5M1155 1322l6 6m0-6l-6 6M1157 1166l5 5m0-5l-5 5M1157 1089l5 5m0-5l-5 5M1157 1126l5 5m0-5l-5 5M1157 1230l6 6m0-6l-6 6M1158 1183l5 5m0-5l-5 5M1159 1073l5 5m0-5l-5 5M1159 1256l5 5m0-5l-5 5M1160 1074l5 5m0-5l-5 5M1160 1145l5 5m0-5l-5 5M1159 1202l6 6m0-6l-6 6M1160 1134l6 6m0-6l-6 6M1161 1115l5 5m0-5l-5 5M1162 1259l5 5m0-5l-5 5M1162 1242l5 5m0-5l-5 5M1162 1261l5 5m0-5l-5 5M1162 1155l6 6m0-6l-6 6M1162 1182l6 6m0-6l-6 6M1163 1272l6 6m0-6l-6 6M1163 1167l6 6m0-6l-6 6M1164 1172l5 5m0-5l-5 5M1165 1142l5 5m0-5l-5 5M1164 1207l6 6m0-6l-6 6M1165 1143l6 6m0-6l-6 6M1166 1206l5 5m0-5l-5 5M1167 1170l5 5m0-5l-5 5M1166 1197l6 6m0-6l-6 6M1167 1142l5 5m0-5l-5 5M1167 1182l6 6m0-6l-6 6M1168 1111l5 5m0-5l-5 5M1168 1193l6 6m0-6l-6 6M1169 1212l5 5m0-5l-5 5M1169 1149l5 5m0-5l-5 5M1169 1305l6 6m0-6l-6 6M1170 1172l5 5m0-5l-5 5M1170 1168l6 6m0-6l-6 6M1171 1187l5 5m0-5l-5 5M1171 1177l6 6m0-6l-6 6M1172 1162l5 5m0-5l-5 5M1171 1223l6 6m0-6l-6 6M1173 1181l5 5m0-5l-5 5M1172 1130l6 6m0-6l-6 6M1173 1196l6 6m0-6l-6 6M1173 1265l6 6m0-6l-6 6M1174 1270l5 5m0-5l-5 5M1174 1202l6 6m0-6l-6 6M1175 1261l5 5m0-5l-5 5M1175 1223l6 6m0-6l-6 6M1175 1100l6 6m0-6l-6 6M1176 1219l5 5m0-5l-5 5M1176 1185l6 6m0-6l-6 6M1177 1246l5 5m0-5l-5 5M1178 1240l5 5m0-5l-5 5M1177 1251l6 6m0-6l-6 6M1179 1193l5 5m0-5l-5 5M1179 1206l5 5m0-5l-5 5M1178 1215l6 6m0-6l-6 6M1180 1237l5 5m0-5l-5 5M1180 1158l5 5m0-5l-5 5M1180 1298l6 6m0-6l-6 6M1180 1087l6 6m0-6l-6 6M1181 1266l5 5m0-5l-5 5M1182 1216l5 5m0-5l-5 5M1182 1211l5 5m0-5l-5 5M1183 1137l5 5m0-5l-5 5M1182 1158l6 6m0-6l-6 6M1183 1151l5 5m0-5l-5 5M1183 1123l6 6m0-6l-6 6M1184 1242l5 5m0-5l-5 5M1184 1264l6 6m0-6l-6 6M1184 1203l6 6m0-6l-6 6M1185 1185l6 6m0-6l-6 6M1185 1224l6 6m0-6l-6 6M1185 1243l6 6m0-6l-6 6M1186 1127l6 6m0-6l-6 6M1187 1154l5 5m0-5l-5 5M1187 1189l5 5m0-5l-5 5M1187 1193l6 6m0-6l-6 6M1187 1176l6 6m0-6l-6 6M1188 1198l6 6m0-6l-6 6M1188 1187l6 6m0-6l-6 6M1189 1183l6 6m0-6l-6 6M1189 1164l6 6m0-6l-6 6M1190 1140l6 6m0-6l-6 6M1190 1129l6 6m0-6l-6 6M1191 1230l5 5m0-5l-5 5M1191 1186l6 6m0-6l-6 6M1191 1055l6 6m0-6l-6 6M1192 1200l5 5m0-5l-5 5M1193 1190l5 5m0-5l-5 5M1193 1115l5 5m0-5l-5 5M1194 1297l5 5m0-5l-5 5M1194 1172l5 5m0-5l-5 5M1193 1193l6 6m0-6l-6 6M1195 1031l5 5m0-5l-5 5M1195 1242l5 5m0-5l-5 5M1195 1214l6 6m0-6l-6 6M1195 1201l6 6m0-6l-6 6M1196 1203l6 6m0-6l-6 6M1197 1222l5 5m0-5l-5 5M1197 1157l5 5m0-5l-5 5M1198 1133l5 5m0-5l-5 5M1197 1258l6 6m0-6l-6 6M1198 1126l6 6m0-6l-6 6M1198 1129l6 6m0-6l-6 6M1198 1168l6 6m0-6l-6 6M1200 1112l5 5m0-5l-5 5M1200 1195l5 5m0-5l-5 5M1200 1171l6 6m0-6l-6 6M1200 1190l6 6m0-6l-6 6M1201 1130l6 6m0-6l-6 6M1202 1145l5 5m0-5l-5 5M1202 1134l5 5m0-5l-5 5M1203 1052l5 5m0-5l-5 5M1203 1235l5 5m0-5l-5 5M1204 1147l5 5m0-5l-5 5M1204 1134l5 5m0-5l-5 5M1204 1099l5 5m0-5l-5 5M1204 1175l6 6m0-6l-6 6M1204 1238l6 6m0-6l-6 6M1206 1170l5 5m0-5l-5 5M1205 1147l6 6m0-6l-6 6M1206 1158l5 5m0-5l-5 5M1206 1126l6 6m0-6l-6 6M1206 1147l6 6m0-6l-6 6M1207 1151l6 6m0-6l-6 6M1208 1198l5 5m0-5l-5 5M1209 1216l5 5m0-5l-5 5M1208 1247l6 6m0-6l-6 6M1208 1230l6 6m0-6l-6 6M1209 1154l6 6m0-6l-6 6M1210 1331l5 5m0-5l-5 5M1211 1239l5 5m0-5l-5 5M1210 1258l6 6m0-6l-6 6M1211 1239l5 5m0-5l-5 5M1212 1127l5 5m0-5l-5 5M1212 1250l5 5m0-5l-5 5M1213 1144l5 5m0-5l-5 5M1212 1187l6 6m0-6l-6 6M1214 1209l5 5m0-5l-5 5M1213 1196l6 6m0-6l-6 6M1214 1151l5 5m0-5l-5 5M1215 1129l5 5m0-5l-5 5M1214 1178l6 6m0-6l-6 6M1215 1134l6 6m0-6l-6 6M1215 1159l6 6m0-6l-6 6M1215 1152l6 6m0-6l-6 6M1217 1198l5 5m0-5l-5 5M1217 1169l5 5m0-5l-5 5M1217 1153l6 6m0-6l-6 6M1217 1152l6 6m0-6l-6 6M1218 1129l5 5m0-5l-5 5M1219 1137l5 5m0-5l-5 5M1218 1208l6 6m0-6l-6 6M1220 1086l5 5m0-5l-5 5M1220 1157l5 5m0-5l-5 5M1220 1258l5 5m0-5l-5 5M1220 1132l6 6m0-6l-6 6M1220 1199l6 6m0-6l-6 6M1221 1091l6 6m0-6l-6 6M1222 1202l5 5m0-5l-5 5M1222 1130l6 6m0-6l-6 6M1222 1157l6 6m0-6l-6 6M1223 1172l5 5m0-5l-5 5M1224 1010l5 5m0-5l-5 5M1223 1275l6 6m0-6l-6 6M1225 1227l5 5m0-5l-5 5M1225 1264l5 5m0-5l-5 5M1225 1087l5 5m0-5l-5 5M1226 1249l5 5m0-5l-5 5M1226 1236l5 5m0-5l-5 5M1227 1174l5 5m0-5l-5 5M1227 1195l5 5m0-5l-5 5M1227 1038l5 5m0-5l-5 5M1228 1158l5 5m0-5l-5 5M1227 1201l6 6m0-6l-6 6M1228 1249l6 6m0-6l-6 6M1229 1202l5 5m0-5l-5 5M1230 1188l5 5m0-5l-5 5M1230 1165l5 5m0-5l-5 5M1229 1178l6 6m0-6l-6 6M1230 1220l6 6m0-6l-6 6M1230 1199l6 6m0-6l-6 6M1232 1173l5 5m0-5l-5 5M1232 1164l5 5m0-5l-5 5M1233 1226l5 5m0-5l-5 5M1233 1149l5 5m0-5l-5 5M1233 1116l5 5m0-5l-5 5M1234 1126l5 5m0-5l-5 5M1233 1165l6 6m0-6l-6 6M1234 1141l6 6m0-6l-6 6M1235 1174l5 5m0-5l-5 5M1234 1165l6 6m0-6l-6 6M1236 1145l5 5m0-5l-5 5M1235 1238l6 6m0-6l-6 6M1236 1180l6 6m0-6l-6 6M1236 1137l6 6m0-6l-6 6M1237 1132l5 5m0-5l-5 5M1238 1164l5 5m0-5l-5 5M1237 1171l6 6m0-6l-6 6M1239 1221l5 5m0-5l-5 5M1239 1214l5 5m0-5l-5 5M1239 1153l5 5m0-5l-5 5M1239 1169l6 6m0-6l-6 6M1239 1160l6 6m0-6l-6 6M1241 1172l5 5m0-5l-5 5M1240 1105l6 6m0-6l-6 6M1240 1150l6 6m0-6l-6 6M1241 1208l6 6m0-6l-6 6M1241 1155l6 6m0-6l-6 6M1243 1123l5 5m0-5l-5 5M1242 1168l6 6m0-6l-6 6M1243 1166l6 6m0-6l-6 6M1244 1207l5 5m0-5l-5 5M1244 1210l5 5m0-5l-5 5M1245 1132l5 5m0-5l-5 5M1245 1223l5 5m0-5l-5 5M1245 1173l6 6m0-6l-6 6M1246 1178l5 5m0-5l-5 5M1246 1129l5 5m0-5l-5 5M1247 1195l5 5m0-5l-5 5M1247 1206l5 5m0-5l-5 5M1247 1228l6 6m0-6l-6 6M1248 1287l5 5m0-5l-5 5M1249 1229l5 5m0-5l-5 5M1249 1212l5 5m0-5l-5 5M1248 1165l6 6m0-6l-6 6M1249 1221l6 6m0-6l-6 6M1249 1222l6 6m0-6l-6 6M1251 1200l5 5m0-5l-5 5M1251 1211l5 5m0-5l-5 5M1250 1186l6 6m0-6l-6 6M1252 1162l5 5m0-5l-5 5M1251 1193l6 6m0-6l-6 6M1252 1209l6 6m0-6l-6 6M1253 1180l5 5m0-5l-5 5M1252 1117l6 6m0-6l-6 6M1254 1149l5 5m0-5l-5 5M1253 1128l6 6m0-6l-6 6M1254 1228l6 6m0-6l-6 6M1255 1225l5 5m0-5l-5 5M1254 1182l6 6m0-6l-6 6M1256 1246l5 5m0-5l-5 5M1255 1237l6 6m0-6l-6 6M1256 1111l6 6m0-6l-6 6M1256 1176l6 6m0-6l-6 6M1258 1112l5 5m0-5l-5 5M1257 1263l6 6m0-6l-6 6M1257 1114l6 6m0-6l-6 6M1259 1202l5 5m0-5l-5 5M1259 1153l5 5m0-5l-5 5M1259 1145l6 6m0-6l-6 6M1260 1142l5 5m0-5l-5 5M1259 1209l6 6m0-6l-6 6M1260 1211l6 6m0-6l-6 6M1260 1160l6 6m0-6l-6 6M1261 1226l6 6m0-6l-6 6M1261 1243l6 6m0-6l-6 6M1262 1189l6 6m0-6l-6 6M1262 1230l6 6m0-6l-6 6M1263 1169l5 5m0-5l-5 5M1263 1237l6 6m0-6l-6 6M1263 1228l6 6m0-6l-6 6M1265 1226l5 5m0-5l-5 5M1265 1279l5 5m0-5l-5 5M1264 1124l6 6m0-6l-6 6M1266 1168l5 5m0-5l-5 5M1266 1159l5 5m0-5l-5 5M1266 1169l6 6m0-6l-6 6M1266 1146l6 6m0-6l-6 6M1266 1221l6 6m0-6l-6 6M1267 1223l6 6m0-6l-6 6M1268 1116l5 5m0-5l-5 5M1269 1042l5 5m0-5l-5 5M1269 1281l5 5m0-5l-5 5M1270 1185l5 5m0-5l-5 5M1270 1160l5 5m0-5l-5 5M1270 1169l5 5m0-5l-5 5M1270 1201l6 6m0-6l-6 6M1271 1176l5 5m0-5l-5 5M1271 1130l6 6m0-6l-6 6M1271 1181l6 6m0-6l-6 6M1271 1180l6 6m0-6l-6 6M1273 1172l5 5m0-5l-5 5M1272 1219l6 6m0-6l-6 6M1273 1257l6 6m0-6l-6 6M1273 1164l6 6m0-6l-6 6M1274 1135l5 5m0-5l-5 5M1274 1177l6 6m0-6l-6 6M1274 1168l6 6m0-6l-6 6M1276 1220l5 5m0-5l-5 5M1275 1077l6 6m0-6l-6 6M1276 1155l6 6m0-6l-6 6M1276 1226l6 6m0-6l-6 6M1277 1145l5 5m0-5l-5 5M1277 1169l6 6m0-6l-6 6M1277 1162l6 6m0-6l-6 6M1279 1194l5 5m0-5l-5 5M1278 1243l6 6m0-6l-6 6M1278 1278l6 6m0-6l-6 6M1280 1158l5 5m0-5l-5 5M1280 1147l5 5m0-5l-5 5M1280 1075l6 6m0-6l-6 6M1281 1256l5 5m0-5l-5 5M1280 1165l6 6m0-6l-6 6M1281 1105l6 6m0-6l-6 6M1282 1230l5 5m0-5l-5 5M1283 1136l5 5m0-5l-5 5M1283 1135l5 5m0-5l-5 5M1283 1216l5 5m0-5l-5 5M1284 1132l5 5m0-5l-5 5M1283 1253l6 6m0-6l-6 6M1284 1073l6 6m0-6l-6 6M1285 1088l5 5m0-5l-5 5M1286 1104l5 5m0-5l-5 5M1285 1151l6 6m0-6l-6 6M1286 1154l5 5m0-5l-5 5M1287 1194l5 5m0-5l-5 5M1287 1117l5 5m0-5l-5 5M1288 1101l5 5m0-5l-5 5M1287 1232l6 6m0-6l-6 6M1288 1071l5 5m0-5l-5 5M1288 1199l6 6m0-6l-6 6M1289 1176l5 5m0-5l-5 5M1290 1186l5 5m0-5l-5 5M1289 1137l6 6m0-6l-6 6M1290 1268l5 5m0-5l-5 5M1291 1136l5 5m0-5l-5 5M1290 1077l6 6m0-6l-6 6M1292 1231l5 5m0-5l-5 5M1292 1206l5 5m0-5l-5 5M1293 1120l5 5m0-5l-5 5M1292 1219l6 6m0-6l-6 6M1293 1134l5 5m0-5l-5 5M1294 1194l5 5m0-5l-5 5M1294 1165l5 5m0-5l-5 5M1294 1169l6 6m0-6l-6 6M1295 1142l5 5m0-5l-5 5M1295 1135l5 5m0-5l-5 5M1296 1083l5 5m0-5l-5 5M1296 1198l5 5m0-5l-5 5M1296 1206l6 6m0-6l-6 6M1297 1173l5 5m0-5l-5 5M1297 1197l6 6m0-6l-6 6M1297 1174l6 6m0-6l-6 6M1298 1123l5 5m0-5l-5 5M1299 1295l5 5m0-5l-5 5M1298 1168l6 6m0-6l-6 6M1299 1184l6 6m0-6l-6 6M1299 1171l6 6m0-6l-6 6M1300 1172l5 5m0-5l-5 5M1300 1184l6 6m0-6l-6 6M1300 1153l6 6m0-6l-6 6M1301 1177l6 6m0-6l-6 6M1302 1126l5 5m0-5l-5 5M1302 1148l6 6m0-6l-6 6M1302 1093l6 6m0-6l-6 6M1303 1204l5 5m0-5l-5 5M1304 1112l5 5m0-5l-5 5M1304 1201l5 5m0-5l-5 5M1304 1217l6 6m0-6l-6 6M1304 1158l6 6m0-6l-6 6M1305 1103l5 5m0-5l-5 5M1306 1171l5 5m0-5l-5 5M1305 1218l6 6m0-6l-6 6M1305 1147l6 6m0-6l-6 6M1306 1211l6 6m0-6l-6 6M1306 1164l6 6m0-6l-6 6M1308 1302l5 5m0-5l-5 5M1308 1309l5 5m0-5l-5 5M1308 1171l6 6m0-6l-6 6M1309 1220l5 5m0-5l-5 5M1310 1220l5 5m0-5l-5 5M1309 1109l6 6m0-6l-6 6M1310 1182l5 5m0-5l-5 5M1311 1162l5 5m0-5l-5 5M1311 1247l5 5m0-5l-5 5M1312 1157l5 5m0-5l-5 5M1311 1074l6 6m0-6l-6 6M1311 1259l6 6m0-6l-6 6M1312 1155l6 6m0-6l-6 6M1312 1238l6 6m0-6l-6 6M1313 1218l6 6m0-6l-6 6M1313 1093l6 6m0-6l-6 6M1313 1066l6 6m0-6l-6 6M1314 1154l6 6m0-6l-6 6M1315 1183l5 5m0-5l-5 5M1315 1191l6 6m0-6l-6 6M1316 1194l5 5m0-5l-5 5M1316 1215l5 5m0-5l-5 5M1317 1183l5 5m0-5l-5 5M1316 1202l6 6m0-6l-6 6M1318 1188l5 5m0-5l-5 5M1318 1207l5 5m0-5l-5 5M1318 1205l6 6m0-6l-6 6M1318 1118l6 6m0-6l-6 6M1318 1195l6 6m0-6l-6 6M1320 1167l5 5m0-5l-5 5M1320 1162l5 5m0-5l-5 5M1320 1110l6 6m0-6l-6 6M1321 1205l5 5m0-5l-5 5M1320 1208l6 6m0-6l-6 6M1321 1158l6 6m0-6l-6 6M1321 1281l6 6m0-6l-6 6M1322 1285l6 6m0-6l-6 6M1323 1230l5 5m0-5l-5 5M1323 1188l6 6m0-6l-6 6M1324 1153l5 5m0-5l-5 5M1323 1212l6 6m0-6l-6 6M1325 1206l5 5m0-5l-5 5M1324 1199l6 6m0-6l-6 6M1325 1154l5 5m0-5l-5 5M1326 1168l5 5m0-5l-5 5M1326 1299l5 5m0-5l-5 5M1326 1181l6 6m0-6l-6 6M1326 1150l6 6m0-6l-6 6M1328 1128l5 5m0-5l-5 5M1327 1155l6 6m0-6l-6 6M1328 1222l5 5m0-5l-5 5M1328 1102l6 6m0-6l-6 6M1329 1305l5 5m0-5l-5 5M1330 1183l5 5m0-5l-5 5M1330 1184l5 5m0-5l-5 5M1329 1217l6 6m0-6l-6 6M1331 1145l5 5m0-5l-5 5M1330 1180l6 6m0-6l-6 6M1332 1170l5 5m0-5l-5 5M1331 1157l6 6m0-6l-6 6M1333 1155l5 5m0-5l-5 5M1332 1192l6 6m0-6l-6 6M1332 1185l6 6m0-6l-6 6M1333 1177l6 6m0-6l-6 6M1334 1136l5 5m0-5l-5 5M1333 1129l6 6m0-6l-6 6M1334 1225l6 6m0-6l-6 6M1335 1140l5 5m0-5l-5 5M1336 1192l5 5m0-5l-5 5M1336 1167l5 5m0-5l-5 5M1336 1243l6 6m0-6l-6 6M1337 1190l5 5m0-5l-5 5M1336 1177l6 6m0-6l-6 6M1337 1189l6 6m0-6l-6 6M1338 1188l5 5m0-5l-5 5M1338 1136l6 6m0-6l-6 6M1338 1117l6 6m0-6l-6 6M1339 1166l5 5m0-5l-5 5M1339 1178l6 6m0-6l-6 6M1339 1201l6 6m0-6l-6 6M1341 1213l5 5m0-5l-5 5M1340 1188l6 6m0-6l-6 6M1342 1178l5 5m0-5l-5 5M1342 1141l5 5m0-5l-5 5M1341 1232l6 6m0-6l-6 6M1343 1214l5 5m0-5l-5 5M1343 1161l5 5m0-5l-5 5M1343 1217l6 6m0-6l-6 6M1343 1188l6 6m0-6l-6 6M1345 1192l5 5m0-5l-5 5M1345 1239l5 5m0-5l-5 5M1345 1246l5 5m0-5l-5 5M1345 1110l6 6m0-6l-6 6M1346 1229l5 5m0-5l-5 5M1345 1114l6 6m0-6l-6 6M1346 1232l6 6m0-6l-6 6M1346 1201l6 6m0-6l-6 6M1348 1151l5 5m0-5l-5 5M1347 1176l6 6m0-6l-6 6M1348 1223l5 5m0-5l-5 5M1349 1189l5 5m0-5l-5 5M1348 1144l6 6m0-6l-6 6M1349 1168l6 6m0-6l-6 6M1350 1149l5 5m0-5l-5 5M1351 1201l5 5m0-5l-5 5M1350 1222l6 6m0-6l-6 6M1350 1147l6 6m0-6l-6 6M1352 1135l5 5m0-5l-5 5M1351 1152l6 6m0-6l-6 6M1352 1202l6 6m0-6l-6 6M1352 1281l6 6m0-6l-6 6M1353 1175l6 6m0-6l-6 6M1354 1196l5 5m0-5l-5 5M1354 1137l5 5m0-5l-5 5M1355 1259l5 5m0-5l-5 5M1354 1210l6 6m0-6l-6 6M1354 1113l6 6m0-6l-6 6M1355 1253l6 6m0-6l-6 6M1355 1236l6 6m0-6l-6 6M1356 1238l6 6m0-6l-6 6M1356 1207l6 6m0-6l-6 6M1358 1141l5 5m0-5l-5 5M1358 1122l5 5m0-5l-5 5M1358 1239l5 5m0-5l-5 5M1358 1177l6 6m0-6l-6 6M1358 1208l6 6m0-6l-6 6M1359 1184l6 6m0-6l-6 6M1359 1135l6 6m0-6l-6 6M1360 1151l6 6m0-6l-6 6M1360 1138l6 6m0-6l-6 6M1361 1059l5 5m0-5l-5 5M1362 1189l5 5m0-5l-5 5M1361 1152l6 6m0-6l-6 6M1361 1205l6 6m0-6l-6 6M1362 1165l6 6m0-6l-6 6M1363 1194l5 5m0-5l-5 5M1363 1132l6 6m0-6l-6 6M1363 1131l6 6m0-6l-6 6M1365 1123l5 5m0-5l-5 5M1365 1162l5 5m0-5l-5 5M1364 1177l6 6m0-6l-6 6M1366 1253l5 5m0-5l-5 5M1365 1110l6 6m0-6l-6 6M1367 1214l5 5m0-5l-5 5M1367 1191l5 5m0-5l-5 5M1368 1249l5 5m0-5l-5 5M1368 1150l5 5m0-5l-5 5M1368 1205l5 5m0-5l-5 5M1369 1147l5 5m0-5l-5 5M1369 1180l5 5m0-5l-5 5M1370 1208l5 5m0-5l-5 5M1370 1177l5 5m0-5l-5 5M1369 1286l6 6m0-6l-6 6M1371 1184l5 5m0-5l-5 5M1370 1159l6 6m0-6l-6 6M1371 1171l6 6m0-6l-6 6M1372 1182l5 5m0-5l-5 5M1372 1201l5 5m0-5l-5 5M1373 1201l5 5m0-5l-5 5M1373 1176l5 5m0-5l-5 5M1373 1242l6 6m0-6l-6 6M1374 1173l5 5m0-5l-5 5M1374 1259l6 6m0-6l-6 6M1374 1176l6 6m0-6l-6 6M1374 1183l6 6m0-6l-6 6M1376 1227l5 5m0-5l-5 5M1375 1212l6 6m0-6l-6 6M1376 1258l6 6m0-6l-6 6M1377 1171l5 5m0-5l-5 5M1377 1220l5 5m0-5l-5 5M1377 1192l6 6m0-6l-6 6M1378 1163l5 5m0-5l-5 5M1378 1129l6 6m0-6l-6 6M1378 1158l6 6m0-6l-6 6M1378 1175l6 6m0-6l-6 6M1379 1197l6 6m0-6l-6 6M1379 1108l6 6m0-6l-6 6M1380 1170l6 6m0-6l-6 6M1380 1177l6 6m0-6l-6 6M1381 1127l6 6m0-6l-6 6M1382 1180l5 5m0-5l-5 5M1382 1177l5 5m0-5l-5 5M1382 1181l6 6m0-6l-6 6M1382 1102l6 6m0-6l-6 6M1383 1159l5 5m0-5l-5 5M1384 1175l5 5m0-5l-5 5M1384 1114l5 5m0-5l-5 5M1384 1206l6 6m0-6l-6 6M1384 1161l6 6m0-6l-6 6M1386 1201l5 5m0-5l-5 5M1385 1194l6 6m0-6l-6 6M1386 1196l6 6m0-6l-6 6M1386 1137l6 6m0-6l-6 6M1386 1178l6 6m0-6l-6 6M1387 1250l6 6m0-6l-6 6M1387 1101l6 6m0-6l-6 6M1388 1194l5 5m0-5l-5 5M1389 1136l5 5m0-5l-5 5M1388 1175l6 6m0-6l-6 6M1389 1123l6 6m0-6l-6 6M1390 1154l5 5m0-5l-5 5M1391 1168l5 5m0-5l-5 5M1390 1223l6 6m0-6l-6 6M1390 1222l6 6m0-6l-6 6M1392 1224l5 5m0-5l-5 5M1392 1187l5 5m0-5l-5 5M1393 1121l5 5m0-5l-5 5M1392 1234l6 6m0-6l-6 6M1393 1145l5 5m0-5l-5 5M1393 1179l6 6m0-6l-6 6M1393 1170l6 6m0-6l-6 6M1394 1174l6 6m0-6l-6 6M1394 1155l6 6m0-6l-6 6M1394 1066l6 6m0-6l-6 6M1396 1204l5 5m0-5l-5 5M1396 1229l5 5m0-5l-5 5M1396 1157l6 6m0-6l-6 6M1396 1212l6 6m0-6l-6 6M1398 1214l5 5m0-5l-5 5M1398 1179l5 5m0-5l-5 5M1397 1240l6 6m0-6l-6 6M1399 1230l5 5m0-5l-5 5M1398 1115l6 6m0-6l-6 6M1399 1197l6 6m0-6l-6 6M1400 1152l5 5m0-5l-5 5M1400 1145l5 5m0-5l-5 5M1401 1257l5 5m0-5l-5 5M1400 1212l6 6m0-6l-6 6M1401 1198l6 6m0-6l-6 6M1401 1179l6 6m0-6l-6 6M1402 1190l5 5m0-5l-5 5M1403 1260l5 5m0-5l-5 5M1402 1213l6 6m0-6l-6 6M1404 1203l5 5m0-5l-5 5M1403 1214l6 6m0-6l-6 6M1404 1172l6 6m0-6l-6 6M1404 1217l6 6m0-6l-6 6M1404 1178l6 6m0-6l-6 6M1406 1170l5 5m0-5l-5 5M1406 1195l5 5m0-5l-5 5M1406 1207l6 6m0-6l-6 6M1406 1160l6 6m0-6l-6 6M1406 1165l6 6m0-6l-6 6M1408 1149l5 5m0-5l-5 5M1407 1234l6 6m0-6l-6 6M1409 1136l5 5m0-5l-5 5M1408 1235l6 6m0-6l-6 6M1408 1170l6 6m0-6l-6 6M1410 1170l5 5m0-5l-5 5M1410 1249l5 5m0-5l-5 5M1411 1181l5 5m0-5l-5 5M1410 1300l6 6m0-6l-6 6M1412 1140l5 5m0-5l-5 5M1412 1161l5 5m0-5l-5 5M1411 1186l6 6m0-6l-6 6M1412 1132l6 6m0-6l-6 6M1412 1159l6 6m0-6l-6 6M1413 1217l6 6m0-6l-6 6M1414 1222l5 5m0-5l-5 5M1413 1207l6 6m0-6l-6 6M1414 1235l6 6m0-6l-6 6M1415 1182l5 5m0-5l-5 5M1416 1138l5 5m0-5l-5 5M1415 1181l6 6m0-6l-6 6M1416 1105l6 6m0-6l-6 6M1416 1190l6 6m0-6l-6 6M1416 1237l6 6m0-6l-6 6M1417 1177l6 6m0-6l-6 6M1417 1256l6 6m0-6l-6 6M1418 1232l6 6m0-6l-6 6M1419 1195l5 5m0-5l-5 5M1418 1162l6 6m0-6l-6 6M1419 1196l6 6m0-6l-6 6" fill="none" stroke="#000" stroke-width="1" shape-rendering="crispEdges"/></g>
<g fill="#000" shape-rendering="crispEdges">
<rect x="162" y="125" width="1" height="721"/>
<rect x="1422" y="125" width="1" height="721"/>
<rect x="162" y="125" width="1261" height="1"/>
<rect x="162" y="845" width="1261" height="1"/>
<rect x="161" y="118" width="2" height="8"/>
<rect x="161" y="845" width="2" height="7"/>
<rect x="198" y="118" width="2" height="8"/>
<rect x="198" y="845" width="2" height="7"/>
<rect x="235" y="118" width="2" height="8"/>
<rect x="235" y="845" width="2" height="7"/>
<rect x="272" y="111" width="2" height="15"/>
<rect x="272" y="845" width="2" height="14"/>
<rect x="309" y="118" width="2" height="8"/>
<rect x="309" y="845" width="2" height="7"/>
<rect x="346" y="118" width="2" height="8"/>
<rect x="346" y="845" width="2" height="7"/>
<rect x="383" y="118" width="2" height="8"/>
<rect x="383" y="845" width="2" height="7"/>
<rect x="420" y="118" width="2" height="8"/>
<rect x="420" y="845" width="2" height="7"/>
<rect x="457" y="111" width="2" height="15"/>
<rect x="457" y="845" width="2" height="14"/>
<rect x="495" y="118" width="2" height="8"/>
<rect x="495" y="845" width="2" height="7"/>
<rect x="532" y="118" width="2" height="8"/>
<rect x="532" y="845" width="2" height="7"/>
<rect x="569" y="118" width="2" height="8"/>
<rect x="569" y="845" width="2" height="7"/>
<rect x="606" y="118" width="2" height="8"/>
<rect x="606" y="845" width="2" height="7"/>
<rect x="643" y="111" width="2" height="15"/>
<rect x="643" y="845" width="2" height="14"/>
<rect x="680" y="118" width="2" height="8"/>
<rect x="680" y="845" width="2" height="7"/>
<rect x="717" y="118" width="2" height="8"/>
<rect x="717" y="845" width="2" height="7"/>
<rect x="754" y="118" width="2" height="8"/>
<rect x="754" y="845" width="2" height="7"/>
<rect x="791" y="118" width="2" height="8"/>
<rect x="791" y="845" width="2" height="7"/>
<rect x="828" y="111" width="2" height="15"/>
<rect x="828" y="845" width="2" height="14"/>
<rect x="865" y="118" width="2" height="8"/>
<rect x="865" y="845" width="2" height="7"/>
<rect x="902" y="118" width="2" height="8"/>
<rect x="902" y="845" width="2" height="7"/>
<rect x="939" y="118" width="2" height="8"/>
<rect x="939" y="845" width="2" height="7"/>
<rect x="976" y="118" width="2" height="8"/>
<rect x="976" y="845" width="2" height="7"/>
<rect x="1013" y="111" width="2" height="15"/>
<rect x="1013" y="845" width="2" height="14"/>
<rect x="1050" y="118" width="2" height="8"/>
<rect x="1050" y="845" width="2" height="7"/>
<rect x="1087" y="118" width="2" height="8"/>
<rect x="1087" y="845" width="2" height="7"/>
<rect x="1125" y="118" width="2" height="8"/>
<rect x="1125" y="845" width="2" height="7"/>
<rect x="1162" y="118" width="2" height="8"/>
<rect x="1162" y="845" width="2" height="7"/>
<rect x="1199" y="111" width="2" height="15"/>
<rect x="1199" y="845" width="2" height="14"/>
<rect x="1236" y="118" width="2" height="8"/>
<rect x="1236" y="845" width="2" height="7"/>
<rect x="1273" y="118" width="2" height="8"/>
<rect x="1273" y="845" width="2" height="7"/>
<rect x="1310" y="118" width="2" height="8"/>
<rect x="1310" y="845" width="2" height="7"/>
<rect x="1347" y="118" width="2" height="8"/>
<rect x="1347" y="845" width="2" height="7"/>
<rect x="1384" y="111" width="2" height="15"/>
<rect x="1384" y="845" width="2" height="14"/>
<rect x="1421" y="118" width="2" height="8"/>
<rect x="1421" y="845" width="2" height="7"/>
<rect x="161" y="946" width="2" height="8"/>
<rect x="161" y="1403" width="2" height="7"/>
<rect x="198" y="946" width="2" height="8"/>
<rect x="198" y="1403" width="2" height="7"/>
<rect x="235" y="946" width="2" height="8"/>
<rect x="235" y="1403" width="2" height="7"/>
<rect x="272" y="939" width="2" height="15"/>
<rect x="272" y="1403" width="2" height="14"/>
<rect x="309" y="946" width="2" height="8"/>
<rect x="309" y="1403" width="2" height="7"/>
<rect x="346" y="946" width="2" height="8"/>
<rect x="346" y="1403" width="2" height="7"/>
<rect x="383" y="946" width="2" height="8"/>
<rect x="383" y="1403" width="2" height="7"/>
<rect x="420" y="946" width="2" height="8"/>
<rect x="420" y="1403" width="2" height="7"/>
<rect x="457" y="939" width="2" height="15"/>
<rect x="457" y="1403" width="2" height="14"/>
<rect x="495" y="946" width="2" height="8"/>
<rect x="495" y="1403" width="2" height="7"/>
<rect x="532" y="946" width="2" height="8"/>
<rect x="532" y="1403" width="2" height="7"/>
<rect x="569" y="946" width="2" height="8"/>
<rect x="569" y="1403" width="2" height="7"/>
<rect x="606" y="946" width="2" height="8"/>
<rect x="606" y="1403" width="2" height="7"/>
<rect x="643" y="939" width="2" height="15"/>
<rect x="643" y="1403" width="2" height="14"/>
<rect x="680" y="946" width="2" height="8"/>
<rect x="680" y="1403" width="2" height="7"/>
<rect x="717" y="946" width="2" height="8"/>
<rect x="717" y="1403" width="2" height="7"/>
<rect x="754" y="946" width="2" height="8"/>
<rect x="754" y="1403" width="2" height="7"/>
<rect x="791" y="946" width="2" height="8"/>
<rect x="791" y="1403" width="2" height="7"/>
<rect x="828" y="939" width="2" height="15"/>
<rect x="828" y="1403" width="2" height="14"/>
<rect x="865" y="946" width="2" height="8"/>
<rect x="865" y="1403" width="2" height="7"/>
<rect x="902" y="946" width="2" height="8"/>
<rect x="902" y="1403" width="2" height="7"/>
<rect x="939" y="946" width="2" height="8"/>
<rect x="939" y="1403" width="2" height="7"/>
<rect x="976" y="946" width="2" height="8"/>
<rect x="976" y="1403" width="2" height="7"/>
<rect x="1013" y="939" width="2" height="15"/>
<rect x="1013" y="1403" width="2" height="14"/>
<rect x="1050" y="946" width="2" height="8"/>
<rect x="1050" y="1403" width="2" height="7"/>
<rect x="1087" y="946" width="2" height="8"/>
<rect x="1087" y="1403" width="2" height="7"/>
<rect x="1125" y="946" width="2" height="8"/>
<rect x="1125" y="1403" width="2" height="7"/>
<rect x="1162" y="946" width="2" height="8"/>
<rect x="1162" y="1403" width="2" height="7"/>
<rect x="1199" y="939" width="2" height="15"/>
<rect x="1199" y="1403" width="2" height="14"/>
<rect x="1236" y="946" width="2" height="8"/>
<rect x="1236" y="1403" width="2" height="7"/>
<rect x="1273" y="946" width="2" height="8"/>
<rect x="1273" y="1403" width="2" height="7"/>
<rect x="1310" y="946" width="2" height="8"/>
<rect x="1310" y="1403" width="2" height="7"/>
<rect x="1347" y="946" width="2" height="8"/>
<rect x="1347" y="1403" width="2" height="7"/>
<rect x="1384" y="939" width="2" height="15"/>
<rect x="1384" y="1403" width="2" height="14"/>
<rect x="1421" y="946" width="2" height="8"/>
<rect x="1421" y="1403" width="2" height="7"/>
<rect x="148" y="124" width="15" height="2"/>
<rect x="1422" y="124" width="14" height="2"/>
<rect x="148" y="304" width="15" height="2"/>
<rect x="1422" y="304" width="14" height="2"/>
<rect x="148" y="484" width="15" height="2"/>
<rect x="1422" y="484" width="14" height="2"/>
<rect x="148" y="664" width="15" height="2"/>
<rect x="1422" y="664" width="14" height="2"/>
<rect x="148" y="844" width="15" height="2"/>
<rect x="1422" y="844" width="14" height="2"/>
<rect x="162" y="953" width="1" height="451"/>
<rect x="1422" y="953" width="1" height="451"/>
<rect x="162" y="953" width="1261" height="1"/>
<rect x="162" y="1403" width="1261" height="1"/>
<rect x="148" y="1362" width="15" height="2"/>
<rect x="1422" y="1362" width="14" height="2"/>
<rect x="148" y="1316" width="15" height="2"/>
<rect x="1422" y="1316" width="14" height="2"/>
<rect x="148" y="1270" width="15" height="2"/>
<rect x="1422" y="1270" width="14" height="2"/>
<rect x="148" y="1224" width="15" height="2"/>
<rect x="1422" y="1224" width="14" height="2"/>
<rect x="148" y="1178" width="15" height="2"/>
<rect x="1422" y="1178" width="14" height="2"/>
<rect x="148" y="1133" width="15" height="2"/>
<rect x="1422" y="1133" width="14" height="2"/>
<rect x="148" y="1087" width="15" height="2"/>
<rect x="1422" y="1087" width="14" height="2"/>
<rect x="148" y="1041" width="15" height="2"/>
<rect x="1422" y="1041" width="14" height="2"/>
<rect x="148" y="995" width="15" height="2"/>
<rect x="1422" y="995" width="14" height="2"/>
<rect x="169" y="1511" width="1" height="451"/>
<rect x="709" y="1511" width="1" height="451"/>
<rect x="169" y="1511" width="541" height="1"/>
<rect x="169" y="1961" width="541" height="1"/>
<rect x="168" y="1497" width="2" height="15"/>
<rect x="168" y="1961" width="2" height="14"/>
<rect x="236" y="1504" width="2" height="8"/>
<rect x="236" y="1961" width="2" height="7"/>
<rect x="303" y="1497" width="2" height="15"/>
<rect x="303" y="1961" width="2" height="14"/>
<rect x="370" y="1504" width="2" height="8"/>
<rect x="370" y="1961" width="2" height="7"/>
<rect x="438" y="1497" width="2" height="15"/>
<rect x="438" y="1961" width="2" height="14"/>
<rect x="506" y="1504" width="2" height="8"/>
<rect x="506" y="1961" width="2" height="7"/>
<rect x="573" y="1497" width="2" height="15"/>
<rect x="573" y="1961" width="2" height="14"/>
<rect x="640" y="1504" width="2" height="8"/>
<rect x="640" y="1961" width="2" height="7"/>
<rect x="708" y="1497" width="2" height="15"/>
<rect x="708" y="1961" width="2" height="14"/>
<rect x="162" y="1510" width="8" height="2"/>
<rect x="709" y="1510" width="7" height="2"/>
<rect x="155" y="1555" width="15" height="2"/>
<rect x="709" y="1555" width="14" height="2"/>
<rect x="162" y="1600" width="8" height="2"/>
<rect x="709" y="1600" width="7" height="2"/>
<rect x="155" y="1645" width="15" height="2"/>
<rect x="709" y="1645" width="14" height="2"/>
<rect x="162" y="1690" width="8" height="2"/>
<rect x="709" y="1690" width="7" height="2"/>
<rect x="155" y="1735" width="15" height="2"/>
<rect x="709" y="1735" width="14" height="2"/>
<rect x="162" y="1780" width="8" height="2"/>
<rect x="709" y="1780" width="7" height="2"/>
<rect x="155" y="1825" width="15" height="2"/>
<rect x="709" y="1825" width="14" height="2"/>
<rect x="162" y="1870" width="8" height="2"/>
<rect x="709" y="1870" width="7" height="2"/>
<rect x="155" y="1915" width="15" height="2"/>
<rect x="709" y="1915" width="14" height="2"/>
<rect x="162" y="1960" width="8" height="2"/>
<rect x="709" y="1960" width="7" height="2"/>
<rect x="853" y="1511" width="1" height="451"/>
<rect x="1393" y="1511" width="1" height="451"/>
<rect x="853" y="1511" width="541" height="1"/>
<rect x="853" y="1961" width="541" height="1"/>
<rect x="884" y="1497" width="2" height="15"/>
<rect x="884" y="1961" width="2" height="14"/>
<rect x="948" y="1504" width="2" height="8"/>
<rect x="948" y="1961" width="2" height="7"/>
<rect x="1011" y="1497" width="2" height="15"/>
<rect x="1011" y="1961" width="2" height="14"/>
<rect x="1074" y="1504" width="2" height="8"/>
<rect x="1074" y="1961" width="2" height="7"/>
<rect x="1138" y="1497" width="2" height="15"/>
<rect x="1138" y="1961" width="2" height="14"/>
<rect x="1202" y="1504" width="2" height="8"/>
<rect x="1202" y="1961" width="2" height="7"/>
<rect x="1265" y="1497" width="2" height="15"/>
<rect x="1265" y="1961" width="2" height="14"/>
<rect x="1328" y="1504" width="2" height="8"/>
<rect x="1328" y="1961" width="2" height="7"/>
<rect x="1392" y="1497" width="2" height="15"/>
<rect x="1392" y="1961" width="2" height="14"/>
<rect x="846" y="1510" width="8" height="2"/>
<rect x="1393" y="1510" width="7" height="2"/>
<rect x="839" y="1600" width="15" height="2"/>
<rect x="1393" y="1600" width="14" height="2"/>
<rect x="846" y="1690" width="8" height="2"/>
<rect x="1393" y="1690" width="7" height="2"/>
<rect x="839" y="1780" width="15" height="2"/>
<rect x="1393" y="1780" width="14" height="2"/>
<rect x="846" y="1870" width="8" height="2"/>
<rect x="1393" y="1870" width="7" height="2"/>
<rect x="839" y="1960" width="15" height="2"/>
<rect x="1393" y="1960" width="14" height="2"/>
</g>
<text transform="translate(792.5 78) scale(1 1.04)" font-size="34.6" text-anchor="middle" stroke="#000" stroke-width="0.35" fill="#000" textLength="737" lengthAdjust="spacing">UTC(SMD)-UTC(PTB)&#160;&#160;/GPS&#160;&#160;P3&#160;&#160;(SD31,PT13)</text>
<text transform="translate(272.4 892.7) scale(1 1.04)" font-size="30" text-anchor="middle" stroke="#000" stroke-width="0.35" fill="#000">60980</text>
<text transform="translate(272.4 1451.2) scale(1 1.04)" font-size="30" text-anchor="middle" stroke="#000" stroke-width="0.35" fill="#000">60980</text>
<text transform="translate(457.7 892.7) scale(1 1.04)" font-size="30" text-anchor="middle" stroke="#000" stroke-width="0.35" fill="#000">60985</text>
<text transform="translate(457.7 1451.2) scale(1 1.04)" font-size="30" text-anchor="middle" stroke="#000" stroke-width="0.35" fill="#000">60985</text>
<text transform="translate(643.0 892.7) scale(1 1.04)" font-size="30" text-anchor="middle" stroke="#000" stroke-width="0.35" fill="#000">60990</text>
<text transform="translate(643.0 1451.2) scale(1 1.04)" font-size="30" text-anchor="middle" stroke="#000" stroke-width="0.35" fill="#000">60990</text>
<text transform="translate(828.3 892.7) scale(1 1.04)" font-size="30" text-anchor="middle" stroke="#000" stroke-width="0.35" fill="#000">60995</text>
<text transform="translate(828.3 1451.2) scale(1 1.04)" font-size="30" text-anchor="middle" stroke="#000" stroke-width="0.35" fill="#000">60995</text>
<text transform="translate(1013.6 892.7) scale(1 1.04)" font-size="30" text-anchor="middle" stroke="#000" stroke-width="0.35" fill="#000">61000</text>
<text transform="translate(1013.6 1451.2) scale(1 1.04)" font-size="30" text-anchor="middle" stroke="#000" stroke-width="0.35" fill="#000">61000</text>
<text transform="translate(1198.8 892.7) scale(1 1.04)" font-size="30" text-anchor="middle" stroke="#000" stroke-width="0.35" fill="#000">61005</text>
<text transform="translate(1198.8 1451.2) scale(1 1.04)" font-size="30" text-anchor="middle" stroke="#000" stroke-width="0.35" fill="#000">61005</text>
<text transform="translate(1384.1 892.7) scale(1 1.04)" font-size="30" text-anchor="middle" stroke="#000" stroke-width="0.35" fill="#000">61010</text>
<text transform="translate(1384.1 1451.2) scale(1 1.04)" font-size="30" text-anchor="middle" stroke="#000" stroke-width="0.35" fill="#000">61010</text>
<text transform="translate(792.5 922.5) scale(1 1.04)" font-size="30" text-anchor="middle" font-weight="bold" fill="#000">Modified Julian Date</text>
<text transform="translate(792.5 1480.5) scale(1 1.04)" font-size="30" text-anchor="middle" font-weight="bold" fill="#000">Modified Julian Date</text>
<text transform="translate(137 135.5) scale(1 1.04)" font-size="30" text-anchor="end" stroke="#000" stroke-width="0.35" fill="#000">10</text>
<text transform="translate(137 315.5) scale(1 1.04)" font-size="30" text-anchor="end" stroke="#000" stroke-width="0.35" fill="#000">5</text>
<text transform="translate(137 495.5) scale(1 1.04)" font-size="30" text-anchor="end" stroke="#000" stroke-width="0.35" fill="#000">0</text>
<text transform="translate(137 675.5) scale(1 1.04)" font-size="30" text-anchor="end" stroke="#000" stroke-width="0.35" fill="#000">−5</text>
<text transform="translate(137 855.5) scale(1 1.04)" font-size="30" text-anchor="end" stroke="#000" stroke-width="0.35" fill="#000">−10</text>
<text transform="translate(137 1373.5) scale(1 1.04)" font-size="30" text-anchor="end" stroke="#000" stroke-width="0.35" fill="#000">−2.0</text>
<text transform="translate(137 1327.6) scale(1 1.04)" font-size="30" text-anchor="end" stroke="#000" stroke-width="0.35" fill="#000">−1.5</text>
<text transform="translate(137 1281.8) scale(1 1.04)" font-size="30" text-anchor="end" stroke="#000" stroke-width="0.35" fill="#000">−1.0</text>
<text transform="translate(137 1235.9) scale(1 1.04)" font-size="30" text-anchor="end" stroke="#000" stroke-width="0.35" fill="#000">−0.5</text>
<text transform="translate(137 1190.0) scale(1 1.04)" font-size="30" text-anchor="end" stroke="#000" stroke-width="0.35" fill="#000">0.0</text>
<text transform="translate(137 1144.1) scale(1 1.04)" font-size="30" text-anchor="end" stroke="#000" stroke-width="0.35" fill="#000">0.5</text>
<text transform="translate(137 1098.2) scale(1 1.04)" font-size="30" text-anchor="end" stroke="#000" stroke-width="0.35" fill="#000">1.0</text>
<text transform="translate(137 1052.4) scale(1 1.04)" font-size="30" text-anchor="end" stroke="#000" stroke-width="0.35" fill="#000">1.5</text>
<text transform="translate(137 1006.5) scale(1 1.04)" font-size="30" text-anchor="end" stroke="#000" stroke-width="0.35" fill="#000">2.0</text>
<text transform="translate(199.5 809.5) scale(1 1.04)" font-size="30.2" text-anchor="start" font-weight="bold" fill="#000">GPS.GPI/Tai2511__SD31-PT13/079-005#_&#160;&#160;3034/1_AV/L2U__CLB__________</text>
<text transform="translate(199 1380.5) scale(1 1.04)" font-size="25" text-anchor="start" font-weight="bold" fill="#000">Max Smoothing Residual: -1.964_Vdk1.D5&#160;&#160;Sigma= 0.575ns13/40_12/08/25Mn_____-2.107</text>
<text transform="translate(77,485) rotate(-90) scale(1 1.04)" font-size="30" font-weight="bold" text-anchor="middle">nanosecond</text>
<text transform="translate(69,1177.5) rotate(-90) scale(1 1.04)" font-size="30.4" font-weight="bold" text-anchor="middle">residuals (ns)</text>
<text transform="translate(83,1735.5) rotate(-90) scale(1 1.04)" font-size="30" font-weight="bold" text-anchor="middle" textLength="441">Modified Allan Deviation (10<tspan font-size="19.5" dy="-10.5">-15</tspan><tspan dy="10.5">)</tspan></text>
<text transform="translate(766.5,1733) rotate(-90) scale(1 1.04)" font-size="30" font-weight="bold" text-anchor="middle" textLength="321">Time deviation (10<tspan font-size="19.5" dy="-10.5">-10</tspan><tspan dy="10.5"> s)</tspan></text>
<text transform="translate(169.0 2008) scale(1 1.04)" font-size="30" text-anchor="middle" stroke="#000" stroke-width="0.35" fill="#000">2</text>
<text transform="translate(885.0 2008) scale(1 1.04)" font-size="30" text-anchor="middle" stroke="#000" stroke-width="0.35" fill="#000">2</text>
<text transform="translate(304.0 2008) scale(1 1.04)" font-size="30" text-anchor="middle" stroke="#000" stroke-width="0.35" fill="#000">3</text>
<text transform="translate(1012.0 2008) scale(1 1.04)" font-size="30" text-anchor="middle" stroke="#000" stroke-width="0.35" fill="#000">3</text>
<text transform="translate(439.0 2008) scale(1 1.04)" font-size="30" text-anchor="middle" stroke="#000" stroke-width="0.35" fill="#000">4</text>
<text transform="translate(1139.0 2008) scale(1 1.04)" font-size="30" text-anchor="middle" stroke="#000" stroke-width="0.35" fill="#000">4</text>
<text transform="translate(574.0 2008) scale(1 1.04)" font-size="30" text-anchor="middle" stroke="#000" stroke-width="0.35" fill="#000">5</text>
<text transform="translate(1266.0 2008) scale(1 1.04)" font-size="30" text-anchor="middle" stroke="#000" stroke-width="0.35" fill="#000">5</text>
<text transform="translate(709.0 2008) scale(1 1.04)" font-size="30" text-anchor="middle" stroke="#000" stroke-width="0.35" fill="#000">6</text>
<text transform="translate(1393.0 2008) scale(1 1.04)" font-size="30" text-anchor="middle" stroke="#000" stroke-width="0.35" fill="#000">6</text>
<text transform="translate(144 1566.5) scale(1 1.04)" font-size="30" text-anchor="end" stroke="#000" stroke-width="0.35" fill="#000">−12</text>
<text transform="translate(144 1656.5) scale(1 1.04)" font-size="30" text-anchor="end" stroke="#000" stroke-width="0.35" fill="#000">−13</text>
<text transform="translate(144 1746.5) scale(1 1.04)" font-size="30" text-anchor="end" stroke="#000" stroke-width="0.35" fill="#000">−14</text>
<text transform="translate(144 1836.5) scale(1 1.04)" font-size="30" text-anchor="end" stroke="#000" stroke-width="0.35" fill="#000">−15</text>
<text transform="translate(144 1926.5) scale(1 1.04)" font-size="30" text-anchor="end" stroke="#000" stroke-width="0.35" fill="#000">−16</text>
<text transform="translate(829 1611.5) scale(1 1.04)" font-size="30" text-anchor="end" stroke="#000" stroke-width="0.35" fill="#000">−9</text>
<text transform="translate(829 1791.5) scale(1 1.04)" font-size="30" text-anchor="end" stroke="#000" stroke-width="0.35" fill="#000">−10</text>
<text transform="translate(829 1971.5) scale(1 1.04)" font-size="30" text-anchor="end" stroke="#000" stroke-width="0.35" fill="#000">−11</text>
<text transform="translate(439 2038.5) scale(1 1.04)" font-size="30.2" text-anchor="middle" font-weight="bold" fill="#000">Averaging time, log(<tspan font-family="Liberation Serif, DejaVu Serif, serif" font-weight="normal">τ</tspan>) (s)</text>
<text transform="translate(1123 2038.5) scale(1 1.04)" font-size="30.2" text-anchor="middle" font-weight="bold" fill="#000">Averaging time, log(<tspan font-family="Liberation Serif, DejaVu Serif, serif" font-weight="normal">τ</tspan>) (s)</text>
<g clip-path="url(#c3)">
<circle cx="303.8" cy="1558.7" r="6.1"/>
<circle cx="344.4" cy="1600.1" r="6.1"/>
<circle cx="385.0" cy="1638.8" r="6.1"/>
<circle cx="425.7" cy="1669.4" r="6.1"/>
<circle cx="466.3" cy="1691.9" r="6.1"/>
<circle cx="507.0" cy="1736.0" r="6.1"/>
<circle cx="547.6" cy="1776.5" r="6.1"/>
<circle cx="588.2" cy="1811.6" r="6.1"/>
<circle cx="628.9" cy="1835.9" r="6.1"/>
<circle cx="669.5" cy="1871.9" r="6.1"/>
<circle cx="338.5" cy="1964.2" r="6.1"/>
<circle cx="379.1" cy="1964.2" r="6.1"/>
<circle cx="443.5" cy="1964.2" r="6.1"/>
<circle cx="484.2" cy="1964.2" r="6.1"/>
<circle cx="524.8" cy="1964.2" r="6.1"/>
<circle cx="565.4" cy="1964.2" r="6.1"/>
<circle cx="629.8" cy="1964.2" r="6.1"/>
<circle cx="679.5" cy="1964.2" r="6.1"/>
</g>
<text transform="translate(303.8 1549.9) scale(1 1.0)" font-size="20" text-anchor="middle" font-weight="bold" fill="#f00">914.7</text>
<text transform="translate(344.4 1591.3) scale(1 1.0)" font-size="20" text-anchor="middle" font-weight="bold" fill="#f00">322.6</text>
<text transform="translate(385.0 1630.0) scale(1 1.0)" font-size="20" text-anchor="middle" font-weight="bold" fill="#f00">120.5</text>
<text transform="translate(425.7 1660.6) scale(1 1.0)" font-size="20" text-anchor="middle" font-weight="bold" fill="#f00">55.0</text>
<text transform="translate(466.3 1683.1) scale(1 1.0)" font-size="20" text-anchor="middle" font-weight="bold" fill="#f00">30.7</text>
<text transform="translate(507.0 1727.2) scale(1 1.0)" font-size="20" text-anchor="middle" font-weight="bold" fill="#f00">10.0</text>
<text transform="translate(547.6 1767.7) scale(1 1.0)" font-size="20" text-anchor="middle" font-weight="bold" fill="#f00">3.6</text>
<text transform="translate(588.2 1802.8) scale(1 1.0)" font-size="20" text-anchor="middle" font-weight="bold" fill="#f00">1.4</text>
<text transform="translate(628.9 1827.1) scale(1 1.0)" font-size="20" text-anchor="middle" font-weight="bold" fill="#f00">0.8</text>
<text transform="translate(669.5 1863.1) scale(1 1.0)" font-size="20" text-anchor="middle" font-weight="bold" fill="#f00">0.3</text>
<text transform="translate(338.5 1951) scale(1 1.0)" font-size="20" text-anchor="middle" font-weight="bold" fill="#f00">h/2</text>
<text transform="translate(379.1 1951) scale(1 1.0)" font-size="20" text-anchor="middle" font-weight="bold" fill="#f00">h</text>
<text transform="translate(443.5 1951) scale(1 1.0)" font-size="20" text-anchor="middle" font-weight="bold" fill="#f00">d/8</text>
<text transform="translate(484.2 1951) scale(1 1.0)" font-size="20" text-anchor="middle" font-weight="bold" fill="#f00">d/4</text>
<text transform="translate(524.8 1951) scale(1 1.0)" font-size="20" text-anchor="middle" font-weight="bold" fill="#f00">d/2</text>
<text transform="translate(565.4 1951) scale(1 1.0)" font-size="20" text-anchor="middle" font-weight="bold" fill="#f00">day</text>
<text transform="translate(629.8 1951) scale(1 1.0)" font-size="20" text-anchor="middle" font-weight="bold" fill="#f00">ddd</text>
<text transform="translate(679.5 1951) scale(1 1.0)" font-size="20" text-anchor="middle" font-weight="bold" fill="#f00">wk</text>
<text transform="translate(202.5 1542) scale(1 1.04)" font-size="17" font-weight="bold" word-spacing="1"><tspan font-family="Liberation Serif, DejaVu Serif, serif" font-weight="normal">τ</tspan> = 996s</text>
<g clip-path="url(#c4)">
<circle cx="1011.8" cy="1651.3" r="6.1"/>
<circle cx="1050.0" cy="1678.4" r="6.1"/>
<circle cx="1088.2" cy="1701.6" r="6.1"/>
<circle cx="1126.5" cy="1708.0" r="6.1"/>
<circle cx="1164.7" cy="1699.6" r="6.1"/>
<circle cx="1202.9" cy="1733.5" r="6.1"/>
<circle cx="1241.2" cy="1760.0" r="6.1"/>
<circle cx="1279.4" cy="1776.4" r="6.1"/>
<circle cx="1317.6" cy="1770.7" r="6.1"/>
<circle cx="1355.9" cy="1788.2" r="6.1"/>
<circle cx="1044.4" cy="1959.8" r="6.1"/>
<circle cx="1082.7" cy="1959.8" r="6.1"/>
<circle cx="1143.2" cy="1959.8" r="6.1"/>
<circle cx="1181.5" cy="1959.8" r="6.1"/>
<circle cx="1219.7" cy="1959.8" r="6.1"/>
<circle cx="1257.9" cy="1959.8" r="6.1"/>
<circle cx="1318.5" cy="1959.8" r="6.1"/>
<circle cx="1365.3" cy="1959.8" r="6.1"/>
</g>
<text transform="translate(1011.8 1633.1) scale(1 0.96)" font-size="17" text-anchor="middle" font-weight="bold" fill="#f00">5.3</text>
<text transform="translate(1050.0 1660.2) scale(1 0.96)" font-size="17" text-anchor="middle" font-weight="bold" fill="#f00">3.7</text>
<text transform="translate(1088.2 1683.4) scale(1 0.96)" font-size="17" text-anchor="middle" font-weight="bold" fill="#f00">2.8</text>
<text transform="translate(1126.5 1689.8) scale(1 0.96)" font-size="17" text-anchor="middle" font-weight="bold" fill="#f00">2.5</text>
<text transform="translate(1164.7 1681.4) scale(1 0.96)" font-size="17" text-anchor="middle" font-weight="bold" fill="#f00">2.8</text>
<text transform="translate(1202.9 1715.3) scale(1 0.96)" font-size="17" text-anchor="middle" font-weight="bold" fill="#f00">1.8</text>
<text transform="translate(1241.2 1741.8) scale(1 0.96)" font-size="17" text-anchor="middle" font-weight="bold" fill="#f00">1.3</text>
<text transform="translate(1279.4 1758.2) scale(1 0.96)" font-size="17" text-anchor="middle" font-weight="bold" fill="#f00">1.1</text>
<text transform="translate(1317.6 1752.5) scale(1 0.96)" font-size="17" text-anchor="middle" font-weight="bold" fill="#f00">1.1</text>
<text transform="translate(1355.9 1770.0) scale(1 0.96)" font-size="17" text-anchor="middle" font-weight="bold" fill="#f00">0.9</text>
<text transform="translate(1044.4 1943) scale(1 1.0)" font-size="20" text-anchor="middle" font-weight="bold" fill="#f00">h/2</text>
<text transform="translate(1082.7 1943) scale(1 1.0)" font-size="20" text-anchor="middle" font-weight="bold" fill="#f00">h</text>
<text transform="translate(1143.2 1943) scale(1 1.0)" font-size="20" text-anchor="middle" font-weight="bold" fill="#f00">d/8</text>
<text transform="translate(1181.5 1943) scale(1 1.0)" font-size="20" text-anchor="middle" font-weight="bold" fill="#f00">d/4</text>
<text transform="translate(1219.7 1943) scale(1 1.0)" font-size="20" text-anchor="middle" font-weight="bold" fill="#f00">d/2</text>
<text transform="translate(1257.9 1943) scale(1 1.0)" font-size="20" text-anchor="middle" font-weight="bold" fill="#f00">day</text>
<text transform="translate(1318.5 1943) scale(1 1.0)" font-size="20" text-anchor="middle" font-weight="bold" fill="#f00">ddd</text>
<text transform="translate(1365.3 1943) scale(1 1.0)" font-size="20" text-anchor="middle" font-weight="bold" fill="#f00">wk</text>
</svg></body></html>
